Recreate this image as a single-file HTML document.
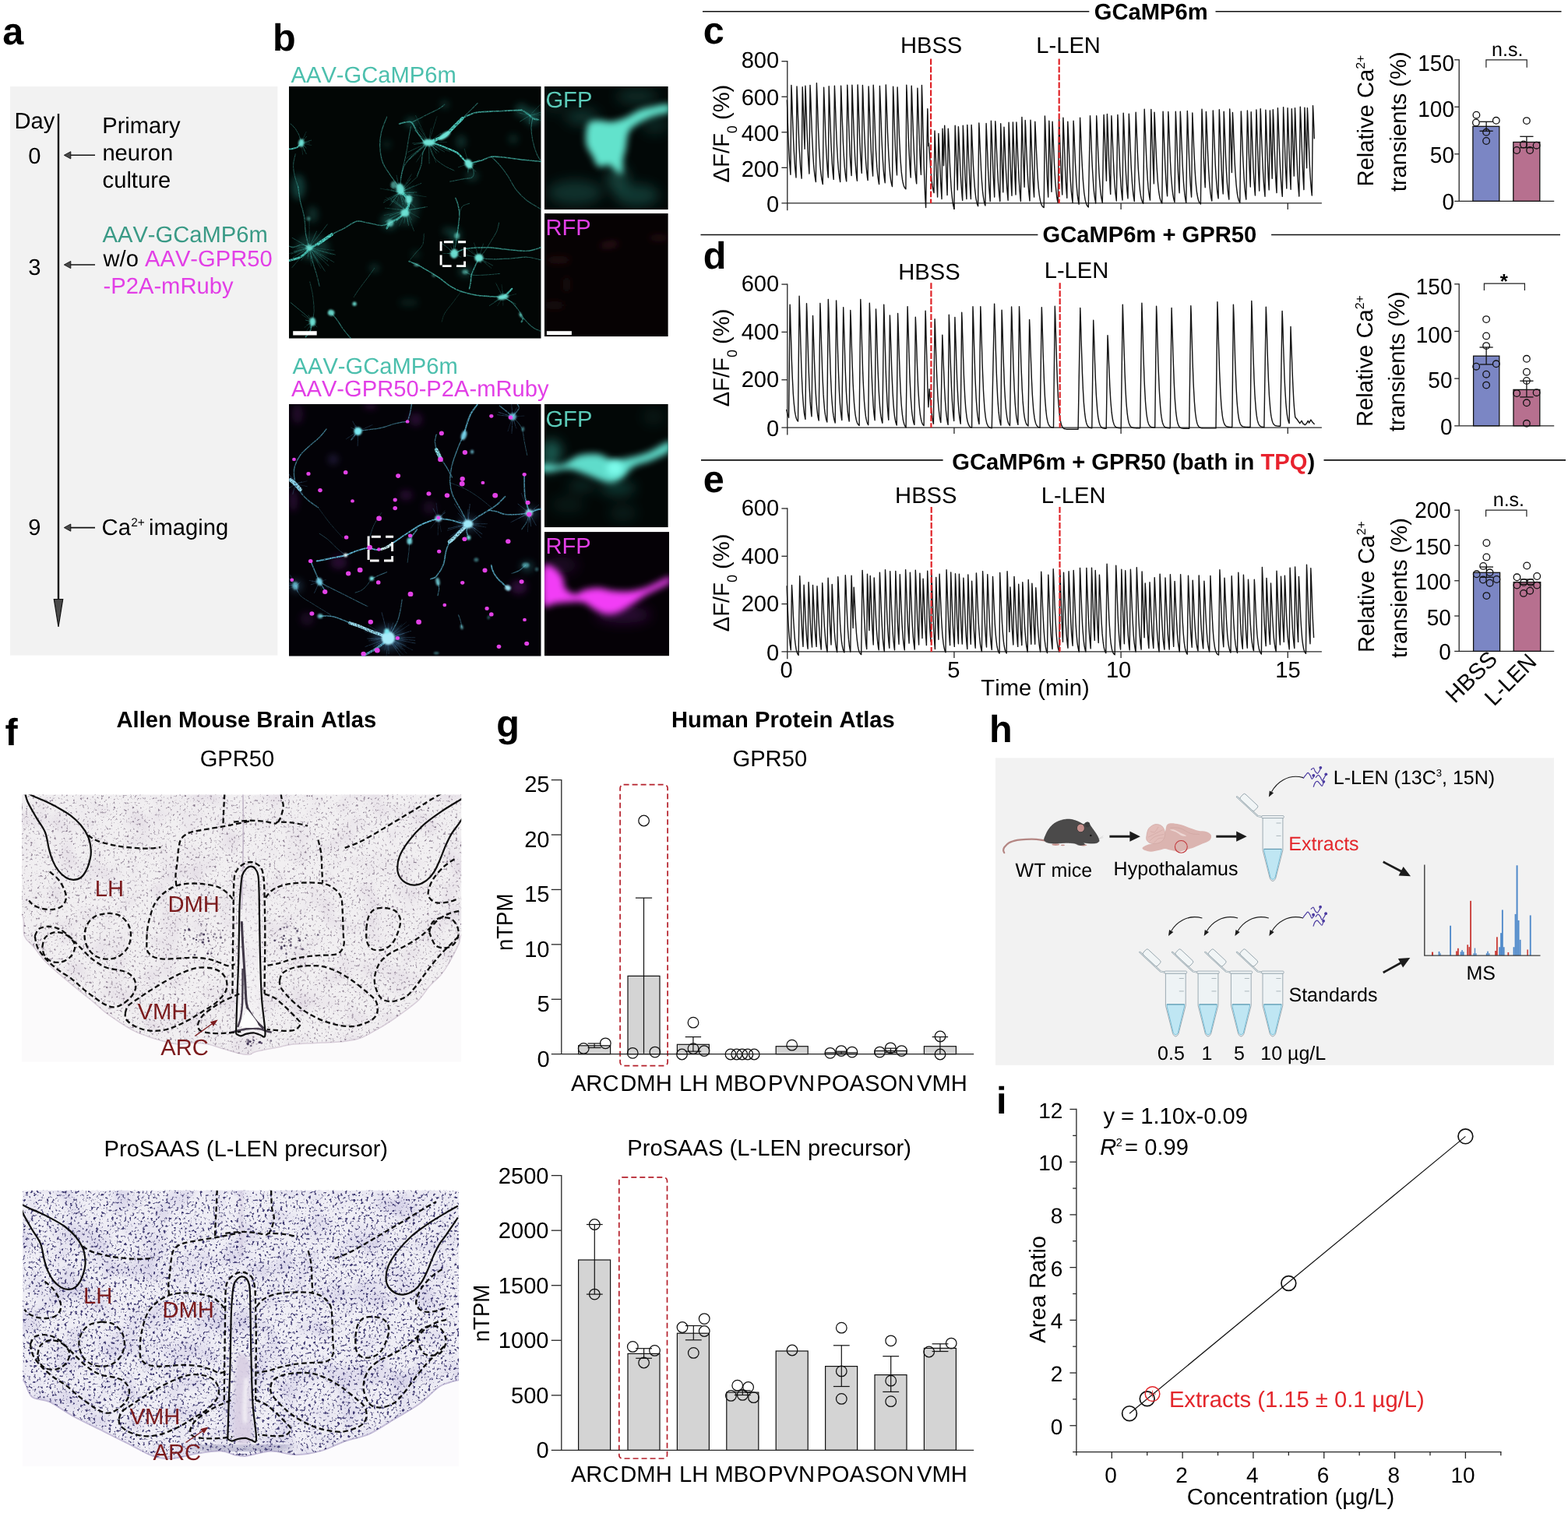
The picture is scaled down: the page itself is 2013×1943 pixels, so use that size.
<!DOCTYPE html>
<html lang="en">
<head>
<meta charset="utf-8">
<title>Figure: GPR50 / L-LEN calcium imaging and expression atlas</title>
<style>
html,body{margin:0;padding:0;background:#fff;}
body{width:2013px;height:1943px;overflow:hidden;}
svg{display:block;font-family:'Liberation Sans', Arial, Helvetica, sans-serif;}
text{font-family:"Liberation Sans", Arial, Helvetica, sans-serif;font-kerning:none;text-rendering:geometricPrecision;}
</style>
</head>
<body>
<svg xmlns="http://www.w3.org/2000/svg" width="2013" height="1943" viewBox="0 0 2013 1943">
<defs>
<filter id="bs" x="-5%" y="-5%" width="110%" height="110%" color-interpolation-filters="sRGB"><feGaussianBlur stdDeviation="0.6" result="b"/><feTurbulence type="fractalNoise" baseFrequency="0.55" numOctaves="2" seed="3" result="n"/><feColorMatrix in="n" type="matrix" values="0 0 0 0 1  0 0 0 0 1  0 0 0 0 1  0 0 0 1.5 0.1" result="m"/><feComposite in="b" in2="m" operator="in"/></filter>
<filter id="bd" x="-20%" y="-20%" width="140%" height="140%"><feGaussianBlur stdDeviation="0.5"/></filter>
<filter id="bm" x="-30%" y="-30%" width="160%" height="160%"><feGaussianBlur stdDeviation="1.05"/></filter>
<filter id="bl" x="-30%" y="-30%" width="160%" height="160%"><feGaussianBlur stdDeviation="4"/></filter>
<filter id="bx" x="-30%" y="-30%" width="160%" height="160%"><feGaussianBlur stdDeviation="8"/></filter>
<clipPath id="cb1"><rect x="370.9" y="110.9" width="323.8" height="323.8"/></clipPath>
<clipPath id="cb2"><rect x="370.9" y="518.9" width="323.8" height="323.8"/></clipPath>
<clipPath id="ci1"><rect x="698.9" y="110.9" width="158.9" height="158.4"/></clipPath>
<clipPath id="ci2"><rect x="698.9" y="274.1" width="158.9" height="158.1"/></clipPath>
<clipPath id="ci3"><rect x="698.9" y="518.9" width="158.9" height="158.4"/></clipPath>
<clipPath id="ci4"><rect x="698.9" y="683.1" width="160.2" height="159.3"/></clipPath>
<clipPath id="cf1"><rect x="28" y="1020.5" width="564.2" height="343.3"/></clipPath>
<clipPath id="cf2"><rect x="29.1" y="1528.7" width="560" height="354.3"/></clipPath>
<filter id="sp1" x="0" y="0" width="100%" height="100%" color-interpolation-filters="sRGB">
<feTurbulence type="fractalNoise" baseFrequency="0.33" numOctaves="2" seed="4"/>
<feColorMatrix type="matrix" values="0 0 0 0 0.50  0 0 0 0 0.44  0 0 0 0 0.52  4.2 0 0 0 -2.5"/>
<feGaussianBlur stdDeviation="0.45"/>
</filter>
<filter id="sp1b" x="0" y="0" width="100%" height="100%" color-interpolation-filters="sRGB">
<feTurbulence type="fractalNoise" baseFrequency="0.03" numOctaves="2" seed="9"/>
<feColorMatrix type="matrix" values="0 0 0 0 0.80  0 0 0 0 0.74  0 0 0 0 0.82  0 0.8 0 0 -0.36"/>
</filter>
<filter id="sp2" x="0" y="0" width="100%" height="100%" color-interpolation-filters="sRGB">
<feTurbulence type="fractalNoise" baseFrequency="0.30" numOctaves="2" seed="12"/>
<feColorMatrix type="matrix" values="0 0 0 0 0.24  0 0 0 0 0.22  0 0 0 0 0.44  6 0 0 0 -3.42"/>
<feGaussianBlur stdDeviation="0.5"/>
</filter>
<filter id="sp2b" x="0" y="0" width="100%" height="100%" color-interpolation-filters="sRGB">
<feTurbulence type="fractalNoise" baseFrequency="0.028" numOctaves="2" seed="21"/>
<feColorMatrix type="matrix" values="0 0 0 0 0.70  0 0 0 0 0.67  0 0 0 0 0.84  0 1.0 0 0 -0.44"/>
</filter>
<filter id="fb1" x="-10%" y="-10%" width="120%" height="120%"><feGaussianBlur stdDeviation="0.7"/></filter>
<filter id="fb2" x="-10%" y="-10%" width="120%" height="120%"><feGaussianBlur stdDeviation="2"/></filter>
<filter id="fb5" x="-20%" y="-20%" width="140%" height="140%"><feGaussianBlur stdDeviation="6"/></filter>

</defs>
<rect width="2013" height="1943" fill="#fff"/>
<g id="p_a">
<text x="3.20" y="57.00" font-size="48.60" font-weight="bold">a</text>
<rect x="13.00" y="111.00" width="343.40" height="730.60" fill="#f2f2f2"/>
<text x="18.40" y="164.90" font-size="29.17">Day</text>
<line x1="75.00" y1="146.00" x2="75.00" y2="772.00" stroke="#111" stroke-width="2.4"/>
<path d="M75 805 L69.3 769.5 L80.7 769.5 Z" fill="#4a4a4a" stroke="#111" stroke-width="1.2"/>
<text x="44.30" y="209.90" font-size="29.17" text-anchor="middle">0</text>
<line x1="122.00" y1="199.30" x2="88.00" y2="199.30" stroke="#111" stroke-width="1.6"/>
<path d="M82.3 199.3 L90.8 194.70000000000002 L90.8 203.9 Z" fill="#4a4a4a" stroke="#111" stroke-width="0.9"/>
<text x="44.30" y="353.00" font-size="29.17" text-anchor="middle">3</text>
<line x1="122.00" y1="340.00" x2="88.00" y2="340.00" stroke="#111" stroke-width="1.6"/>
<path d="M82.3 340 L90.8 335.4 L90.8 344.6 Z" fill="#4a4a4a" stroke="#111" stroke-width="0.9"/>
<text x="44.30" y="686.70" font-size="29.17" text-anchor="middle">9</text>
<line x1="122.00" y1="677.60" x2="88.00" y2="677.60" stroke="#111" stroke-width="1.6"/>
<path d="M82.3 677.6 L90.8 673.0 L90.8 682.2 Z" fill="#4a4a4a" stroke="#111" stroke-width="0.9"/>
<text x="131.20" y="170.80" font-size="29.17">Primary</text>
<text x="131.40" y="205.70" font-size="29.17">neuron</text>
<text x="131.60" y="240.60" font-size="29.17">culture</text>
<text x="131.50" y="311.20" font-size="29.17" fill="#3a9a86">AAV-GCaMP6m</text>
<text x="132.50" y="342.00" font-size="29.17">w/o <tspan fill="#e23fe6">AAV-GPR50</tspan></text>
<text x="132.60" y="377.30" font-size="29.17" fill="#e23fe6">-P2A-mRuby</text>
<text x="130.60" y="686.70" font-size="29.17">Ca</text>
<text x="168.20" y="675.60" font-size="15.50">2+</text>
<text x="191.00" y="686.70" font-size="29.17">imaging</text>
</g>
<g id="p_b">
<text x="350.10" y="65.10" font-size="48.60" font-weight="bold">b</text>
<text x="373.50" y="106.10" font-size="29.17" fill="#4cbfad">AAV-GCaMP6m</text>
<text x="375.50" y="480.00" font-size="29.17" fill="#4cbfad">AAV-GCaMP6m</text>
<text x="374.00" y="509.20" font-size="29.17" fill="#e23fe6">AAV-GPR50-P2A-mRuby</text>
<g clip-path="url(#cb1)">
<rect x="370.90" y="110.90" width="323.80" height="323.80" fill="#020605"/>
<g filter="url(#bl)"><ellipse cx="382.8" cy="240.2" rx="8.8" ry="15.9" fill="#2a9f92" fill-opacity="0.35"/>
<ellipse cx="401.3" cy="275.5" rx="7.1" ry="10.6" fill="#2a9f92" fill-opacity="0.25"/>
<ellipse cx="683.8" cy="150.1" rx="10.6" ry="10.6" fill="#2a9f92" fill-opacity="0.35"/>
<ellipse cx="669.6" cy="141.3" rx="8.6" ry="8.6" fill="#2a9f92" fill-opacity="0.3"/>
<ellipse cx="528.4" cy="157.2" rx="7.9" ry="6.2" fill="#2a9f92" fill-opacity="0.35"/>
<ellipse cx="500.2" cy="284.3" rx="10.6" ry="10.6" fill="#2a9f92" fill-opacity="0.35"/>
<ellipse cx="597.3" cy="348.7" rx="8.6" ry="6.5" fill="#2a9f92" fill-opacity="0.3"/>
<ellipse cx="521.3" cy="264.9" rx="15.9" ry="24.7" fill="#2a9f92" fill-opacity="0.25"/>
<ellipse cx="401.3" cy="317.8" rx="21.2" ry="15.9" fill="#2a9f92" fill-opacity="0.25"/>
<ellipse cx="606.1" cy="226.0" rx="8.6" ry="6.5" fill="#2a9f92" fill-opacity="0.25"/>
<ellipse cx="584.9" cy="302.0" rx="6.5" ry="8.6" fill="#2a9f92" fill-opacity="0.4"/>
<ellipse cx="524.9" cy="388.5" rx="12.4" ry="5.3" fill="#2a9f92" fill-opacity="0.15"/>
<ellipse cx="480.7" cy="344.3" rx="6.5" ry="5.4" fill="#2a9f92" fill-opacity="0.25"/>
<ellipse cx="592.0" cy="181.9" rx="6.5" ry="8.6" fill="#2a9f92" fill-opacity="0.25"/>
<ellipse cx="659.0" cy="178.4" rx="6.5" ry="6.5" fill="#2a9f92" fill-opacity="0.2"/>
<ellipse cx="570.8" cy="134.2" rx="5.4" ry="5.4" fill="#2a9f92" fill-opacity="0.25"/>
<ellipse cx="496.6" cy="185.4" rx="5.4" ry="4.3" fill="#2a9f92" fill-opacity="0.2"/>
<ellipse cx="574.3" cy="296.7" rx="6.5" ry="5.4" fill="#2a9f92" fill-opacity="0.25"/>
<ellipse cx="533.7" cy="326.7" rx="5.4" ry="5.4" fill="#2a9f92" fill-opacity="0.2"/>
</g>
<g filter="url(#bs)"><path d="M550.5 183.1C552.4 182.4 558.3 180.1 562.0 178.4C565.6 176.7 569.0 175.7 572.5 173.1C576.1 170.4 579.6 166.0 583.1 162.5C586.7 159.0 592.0 153.7 593.7 151.9" fill="none" stroke="#4fd0c2" stroke-width="4.02" stroke-opacity="1.00" stroke-linecap="round"/>
<path d="M593.7 151.9C596.4 150.7 603.4 146.3 609.6 144.8C615.8 143.4 623.7 143.5 630.8 143.1C637.9 142.6 645.5 142.5 652.0 142.2C658.5 141.9 666.7 141.5 669.6 141.3" fill="none" stroke="#4fd0c2" stroke-width="1.70" stroke-opacity="0.80" stroke-linecap="round"/>
<path d="M593.7 151.9C595.5 150.1 601.1 144.5 604.3 141.3C607.6 138.1 611.7 134.0 613.1 132.5" fill="none" stroke="#4fd0c2" stroke-width="1.12" stroke-opacity="0.46" stroke-linecap="round"/>
<path d="M556.7 183.7C559.0 184.6 565.8 186.9 570.8 189.0C575.8 191.0 582.5 193.4 586.7 196.0C590.8 198.7 593.0 202.5 595.5 204.9C598.0 207.2 600.6 209.3 601.7 210.2" fill="none" stroke="#4fd0c2" stroke-width="2.13" stroke-opacity="0.98" stroke-linecap="round"/>
<path d="M601.7 210.2C604.2 209.6 611.8 208.1 616.7 206.6C621.5 205.2 625.5 202.1 630.8 201.3C636.1 200.6 642.0 201.6 648.5 202.2C654.9 202.8 662.0 204.0 669.6 204.9C677.3 205.7 690.2 207.1 694.3 207.5" fill="none" stroke="#4fd0c2" stroke-width="1.55" stroke-opacity="0.75" stroke-linecap="round"/>
<path d="M601.7 210.2C602.7 211.6 607.1 216.0 607.8 219.0C608.6 221.9 608.1 226.0 606.1 227.8C604.0 229.6 600.2 228.7 595.5 229.6C590.8 230.5 580.8 232.5 577.8 233.1" fill="none" stroke="#4fd0c2" stroke-width="1.12" stroke-opacity="0.40" stroke-linecap="round"/>
<path d="M630.8 201.3C632.6 203.1 637.9 207.8 641.4 211.9C644.9 216.0 648.5 220.7 652.0 226.0C655.5 231.3 658.5 238.4 662.6 243.7C666.7 249.0 671.4 253.7 676.7 257.8C682.0 261.9 691.4 266.6 694.3 268.4" fill="none" stroke="#4fd0c2" stroke-width="1.12" stroke-opacity="0.46" stroke-linecap="round"/>
<path d="M544.3 181.9C542.8 179.8 538.1 173.7 535.5 169.6C532.8 165.4 531.1 159.3 528.4 157.2C525.8 155.1 522.2 156.9 519.6 157.2C516.9 157.5 513.7 158.7 512.5 159.0" fill="none" stroke="#4fd0c2" stroke-width="1.70" stroke-opacity="0.69" stroke-linecap="round"/>
<path d="M528.4 157.2C530.2 156.3 534.9 154.0 539.0 151.9C543.1 149.8 549.0 146.9 553.1 144.8C557.2 142.8 560.8 141.3 563.7 139.5C566.7 137.8 569.6 135.1 570.8 134.2" fill="none" stroke="#4fd0c2" stroke-width="1.12" stroke-opacity="0.46" stroke-linecap="round"/>
<path d="M547.8 185.4C546.9 187.5 543.7 193.4 542.5 197.8C541.4 202.2 541.9 207.2 540.8 211.9C539.6 216.6 536.4 223.7 535.5 226.0" fill="none" stroke="#4fd0c2" stroke-width="1.12" stroke-opacity="0.52" stroke-linecap="round"/>
<path d="M546.1 185.4C543.7 187.5 536.4 193.4 531.9 197.8C527.5 202.2 522.5 206.6 519.6 211.9C516.6 217.2 515.2 226.6 514.3 229.6" fill="none" stroke="#4fd0c2" stroke-width="1.12" stroke-opacity="0.46" stroke-linecap="round"/>
<path d="M551.4 187.2C552.2 189.6 553.7 197.2 556.7 201.3C559.6 205.4 564.6 209.0 569.0 211.9C573.4 214.9 580.8 217.8 583.1 219.0" fill="none" stroke="#4fd0c2" stroke-width="0.97" stroke-opacity="0.40" stroke-linecap="round"/>
<path d="M513.4 241.9C511.5 239.3 505.6 231.6 501.9 226.0C498.3 220.5 493.7 214.6 491.3 208.4C489.0 202.2 488.1 195.4 487.8 189.0C487.5 182.5 488.1 176.0 489.6 169.6C491.0 163.1 495.5 153.4 496.6 150.1" fill="none" stroke="#4fd0c2" stroke-width="1.26" stroke-opacity="0.52" stroke-linecap="round"/>
<path d="M513.4 241.9C513.8 238.4 514.7 228.1 516.1 220.7C517.4 213.4 519.9 205.2 521.3 197.8C522.8 190.4 523.8 182.5 524.9 176.6C525.9 170.7 527.1 164.8 527.5 162.5" fill="none" stroke="#4fd0c2" stroke-width="1.12" stroke-opacity="0.46" stroke-linecap="round"/>
<path d="M513.4 241.9C514.1 243.1 515.9 246.6 517.8 249.0C519.7 251.3 523.8 253.4 524.9 256.1C525.9 258.7 524.9 261.9 524.0 264.9C523.1 267.8 520.3 272.2 519.6 273.7" fill="none" stroke="#4fd0c2" stroke-width="3.44" stroke-opacity="1.00" stroke-linecap="round"/>
<path d="M519.6 273.7C518.1 274.9 513.8 278.7 510.8 280.8C507.7 282.8 503.4 284.0 501.0 286.1C498.7 288.1 497.4 291.9 496.6 293.1" fill="none" stroke="#4fd0c2" stroke-width="2.57" stroke-opacity="0.80" stroke-linecap="round"/>
<path d="M501.0 286.1C499.1 286.7 494.4 289.6 489.6 289.6C484.7 289.6 477.2 286.9 471.9 286.1C466.6 285.2 462.8 283.1 457.8 284.3C452.8 285.5 446.9 290.5 441.9 293.1C436.9 295.8 431.9 297.8 427.8 300.2C423.7 302.5 419.0 306.1 417.2 307.2" fill="none" stroke="#4fd0c2" stroke-width="1.41" stroke-opacity="0.63" stroke-linecap="round"/>
<path d="M417.2 307.2C416.0 308.0 412.8 310.0 410.1 311.7C407.5 313.3 404.0 315.0 401.3 317.0C398.7 318.9 396.9 320.9 394.2 323.1C391.6 325.3 389.2 328.3 385.4 330.2C381.6 332.1 373.6 333.9 371.3 334.6" fill="none" stroke="#4fd0c2" stroke-width="2.86" stroke-opacity="0.92" stroke-linecap="round"/>
<path d="M426.0 301.1C424.5 302.1 420.1 305.2 417.2 307.2C414.3 309.3 409.8 312.4 408.4 313.4" fill="none" stroke="#4fd0c2" stroke-width="4.02" stroke-opacity="1.00" stroke-linecap="round"/>
<path d="M396.9 317.8C396.2 314.9 393.5 306.7 392.5 300.2C391.5 293.7 391.9 286.1 390.7 279.0C389.5 271.9 386.7 264.3 385.4 257.8C384.1 251.3 383.2 243.1 382.8 240.2" fill="none" stroke="#4fd0c2" stroke-width="1.26" stroke-opacity="0.52" stroke-linecap="round"/>
<path d="M382.8 240.2C382.0 237.8 379.4 230.7 378.4 226.0C377.3 221.3 376.4 216.6 376.6 211.9C376.7 207.2 378.8 200.2 379.2 197.8" fill="none" stroke="#4fd0c2" stroke-width="1.12" stroke-opacity="0.40" stroke-linecap="round"/>
<path d="M396.9 317.8C397.6 320.8 399.7 329.6 401.3 335.5C402.9 341.4 405.1 347.8 406.6 353.1C408.1 358.4 409.5 364.9 410.1 367.3" fill="none" stroke="#4fd0c2" stroke-width="1.12" stroke-opacity="0.46" stroke-linecap="round"/>
<path d="M396.9 317.8C395.3 317.2 390.6 314.3 387.2 314.3C383.8 314.3 379.2 317.5 376.6 317.8C373.9 318.1 372.2 316.4 371.3 316.1" fill="none" stroke="#4fd0c2" stroke-width="1.12" stroke-opacity="0.46" stroke-linecap="round"/>
<path d="M386.8 183.7C386.0 184.6 383.6 187.8 381.9 189.0C380.2 190.1 378.4 190.3 376.6 190.7C374.8 191.2 372.2 191.5 371.3 191.6" fill="none" stroke="#4fd0c2" stroke-width="1.99" stroke-opacity="0.86" stroke-linecap="round"/>
<path d="M386.8 183.7C386.3 181.9 385.1 176.3 383.7 173.1C382.2 169.8 380.1 166.6 378.4 164.3C376.6 161.9 373.9 159.8 373.1 159.0" fill="none" stroke="#4fd0c2" stroke-width="0.97" stroke-opacity="0.46" stroke-linecap="round"/>
<path d="M386.8 183.7C388.1 183.4 392.1 182.5 394.2 181.9C396.4 181.3 398.7 180.4 399.5 180.1" fill="none" stroke="#4fd0c2" stroke-width="0.97" stroke-opacity="0.40" stroke-linecap="round"/>
<path d="M586.7 302.0C587.0 299.6 588.3 292.5 588.8 287.8C589.3 283.1 590.0 278.1 589.8 273.7C589.6 269.3 588.4 264.6 587.5 261.3C586.7 258.1 585.3 255.5 584.9 254.3" fill="none" stroke="#4fd0c2" stroke-width="1.41" stroke-opacity="0.69" stroke-linecap="round"/>
<path d="M589.8 273.7C590.5 272.2 591.6 266.9 593.7 264.9C595.8 262.8 601.1 261.9 602.6 261.3" fill="none" stroke="#4fd0c2" stroke-width="0.97" stroke-opacity="0.40" stroke-linecap="round"/>
<path d="M583.1 325.8C584.9 324.9 590.5 321.7 593.7 320.5C597.0 319.3 597.0 319.2 602.6 318.7C608.1 318.3 619.0 317.5 627.3 317.8C635.5 318.1 643.7 319.8 652.0 320.5C660.2 321.2 669.6 322.7 676.7 322.3C683.8 321.8 691.4 318.6 694.3 317.8" fill="none" stroke="#4fd0c2" stroke-width="1.41" stroke-opacity="0.69" stroke-linecap="round"/>
<path d="M614.9 331.1C617.6 331.4 624.0 332.7 630.8 332.8C637.6 333.0 647.9 332.4 655.5 332.0C663.2 331.5 670.2 329.9 676.7 330.2C683.2 330.5 691.4 333.1 694.3 333.7" fill="none" stroke="#4fd0c2" stroke-width="1.12" stroke-opacity="0.52" stroke-linecap="round"/>
<path d="M614.9 331.1C614.0 333.0 611.2 338.9 609.6 342.6C608.0 346.2 606.1 349.9 605.2 353.1C604.3 356.4 604.8 359.0 604.3 362.0C603.9 364.9 602.8 369.3 602.6 370.8" fill="none" stroke="#4fd0c2" stroke-width="1.55" stroke-opacity="0.75" stroke-linecap="round"/>
<path d="M614.9 331.1C616.1 329.8 619.3 326.8 622.0 323.1C624.6 319.5 628.1 313.4 630.8 309.0C633.4 304.6 636.2 300.5 637.9 296.7C639.5 292.8 640.1 287.8 640.5 286.1" fill="none" stroke="#4fd0c2" stroke-width="0.97" stroke-opacity="0.40" stroke-linecap="round"/>
<path d="M583.1 325.8C581.7 324.5 577.0 320.0 574.3 317.8C571.7 315.6 568.4 313.4 567.2 312.5" fill="none" stroke="#4fd0c2" stroke-width="0.97" stroke-opacity="0.40" stroke-linecap="round"/>
<path d="M583.1 325.8C583.4 323.9 584.3 318.3 584.9 314.3C585.5 310.3 586.4 304.0 586.7 302.0" fill="none" stroke="#4fd0c2" stroke-width="1.12" stroke-opacity="0.46" stroke-linecap="round"/>
<path d="M524.9 335.5C526.6 336.2 531.4 337.8 535.5 339.9C539.6 342.0 544.9 345.1 549.6 347.8C554.3 350.6 559.0 353.4 563.7 356.7C568.4 359.9 573.1 364.3 577.8 367.3C582.5 370.2 586.7 372.4 592.0 374.3C597.3 376.2 603.7 377.7 609.6 378.7C615.5 379.8 621.2 380.1 627.3 380.5C633.3 380.9 642.7 381.2 645.8 381.4" fill="none" stroke="#4fd0c2" stroke-width="1.55" stroke-opacity="0.75" stroke-linecap="round"/>
<path d="M645.8 381.4C646.8 380.5 650.1 377.9 652.0 376.1C653.9 374.3 656.4 371.7 657.3 370.8" fill="none" stroke="#4fd0c2" stroke-width="2.28" stroke-opacity="0.92" stroke-linecap="round"/>
<path d="M645.8 381.4C647.7 382.6 653.9 385.5 657.3 388.5C660.7 391.4 663.5 395.5 666.1 399.0C668.8 402.6 670.2 406.1 673.2 409.6C676.1 413.2 680.2 417.6 683.8 420.2C687.3 422.9 692.6 424.6 694.3 425.5" fill="none" stroke="#4fd0c2" stroke-width="1.12" stroke-opacity="0.52" stroke-linecap="round"/>
<path d="M597.3 348.7C598.7 349.5 602.0 352.4 606.1 353.1C610.2 353.9 616.1 353.4 622.0 353.1C627.9 352.9 638.2 351.7 641.4 351.4" fill="none" stroke="#4fd0c2" stroke-width="0.97" stroke-opacity="0.40" stroke-linecap="round"/>
<path d="M524.9 335.5C526.3 333.7 530.8 328.4 533.7 324.9C536.6 321.4 540.8 318.4 542.5 314.3C544.3 310.2 544.0 302.5 544.3 300.2" fill="none" stroke="#4fd0c2" stroke-width="0.97" stroke-opacity="0.34" stroke-linecap="round"/>
<path d="M425.1 401.7C426.5 403.3 430.6 408.0 433.1 411.4C435.6 414.8 437.8 418.8 440.1 422.0C442.5 425.2 445.4 428.7 447.2 430.8C449.0 432.9 450.1 434.1 450.7 434.7" fill="none" stroke="#4fd0c2" stroke-width="1.26" stroke-opacity="0.57" stroke-linecap="round"/>
<path d="M401.3 413.2C401.0 414.3 400.1 418.2 399.5 420.2C399.0 422.3 399.0 423.5 397.8 425.5C396.6 427.6 393.4 431.4 392.5 432.6" fill="none" stroke="#4fd0c2" stroke-width="1.70" stroke-opacity="0.69" stroke-linecap="round"/>
<path d="M401.3 413.2C400.1 412.0 397.2 408.8 394.2 406.1C391.3 403.5 387.2 400.2 383.7 397.3C380.1 394.3 374.8 389.9 373.1 388.5" fill="none" stroke="#4fd0c2" stroke-width="0.97" stroke-opacity="0.46" stroke-linecap="round"/>
<path d="M401.3 413.2C401.6 410.5 403.1 403.2 403.1 397.3C403.1 391.4 402.2 383.7 401.3 377.9C400.4 372.0 398.4 364.6 397.8 362.0" fill="none" stroke="#4fd0c2" stroke-width="0.97" stroke-opacity="0.34" stroke-linecap="round"/>
<path d="M480.7 344.3C479.3 346.4 475.2 352.3 471.9 356.7C468.7 361.1 464.3 366.7 461.3 370.8C458.4 374.9 455.4 379.6 454.3 381.4" fill="none" stroke="#4fd0c2" stroke-width="0.97" stroke-opacity="0.34" stroke-linecap="round"/>
<path d="M592.0 374.3C590.2 376.7 584.9 383.7 581.4 388.5C577.8 393.2 573.1 398.5 570.8 402.6C568.4 406.7 567.8 411.4 567.2 413.2" fill="none" stroke="#4fd0c2" stroke-width="0.83" stroke-opacity="0.29" stroke-linecap="round"/>
<path d="M669.6 141.3C671.1 142.2 676.1 144.8 678.5 146.6C680.8 148.4 681.7 150.7 683.8 151.9C685.8 153.1 689.6 153.4 690.8 153.7" fill="none" stroke="#4fd0c2" stroke-width="1.99" stroke-opacity="0.57" stroke-linecap="round"/>
<path d="M683.8 151.9C683.5 154.0 682.0 159.5 682.0 164.3C682.0 169.0 682.6 174.6 683.8 180.1C684.9 185.7 687.3 193.4 689.1 197.8C690.8 202.2 693.5 205.2 694.3 206.6" fill="none" stroke="#4fd0c2" stroke-width="1.12" stroke-opacity="0.46" stroke-linecap="round"/>
<path d="M667.9 404.3C668.5 405.2 671.1 408.2 671.4 409.6C671.7 411.1 669.9 412.6 669.6 413.2" fill="none" stroke="#4fd0c2" stroke-width="2.28" stroke-opacity="0.57" stroke-linecap="round"/>
</g>
<g filter="url(#bs)"><path d="M550.5 183.1C549.8 184.2 547.9 187.4 546.6 189.5C545.2 191.6 543.3 194.7 542.7 195.8" fill="none" stroke="#46c3b6" stroke-width="0.97" stroke-opacity="0.22" stroke-linecap="round"/>
<path d="M550.5 183.1C548.7 183.2 543.1 183.4 539.7 183.5C536.2 183.6 531.3 183.9 529.6 184.0" fill="none" stroke="#46c3b6" stroke-width="0.97" stroke-opacity="0.30" stroke-linecap="round"/>
<path d="M550.5 183.1C552.4 183.1 558.5 183.0 562.3 182.9C566.1 182.9 571.5 182.7 573.3 182.6" fill="none" stroke="#46c3b6" stroke-width="0.97" stroke-opacity="0.22" stroke-linecap="round"/>
<path d="M550.5 183.1C548.3 185.0 541.5 190.7 537.1 194.3C532.8 197.9 526.6 203.2 524.5 205.0" fill="none" stroke="#46c3b6" stroke-width="0.97" stroke-opacity="0.25" stroke-linecap="round"/>
<path d="M550.5 183.1C548.4 180.8 542.2 173.8 538.1 169.1C534.0 164.5 527.8 157.5 525.7 155.2" fill="none" stroke="#46c3b6" stroke-width="0.97" stroke-opacity="0.28" stroke-linecap="round"/>
<path d="M550.5 183.1C551.5 183.2 554.6 183.4 556.6 183.5C558.5 183.7 561.4 183.9 562.4 183.9" fill="none" stroke="#46c3b6" stroke-width="0.97" stroke-opacity="0.26" stroke-linecap="round"/>
<path d="M550.5 183.1C551.3 184.0 553.8 186.5 555.4 188.1C557.0 189.8 559.4 192.2 560.3 193.0" fill="none" stroke="#46c3b6" stroke-width="0.97" stroke-opacity="0.37" stroke-linecap="round"/>
<path d="M550.5 183.1C551.3 185.3 553.6 191.6 555.2 195.9C556.7 200.1 559.0 206.4 559.8 208.5" fill="none" stroke="#46c3b6" stroke-width="0.97" stroke-opacity="0.28" stroke-linecap="round"/>
<path d="M550.5 183.1C549.4 183.1 546.1 183.0 544.1 182.9C542.0 182.8 539.1 182.7 538.1 182.7" fill="none" stroke="#46c3b6" stroke-width="0.97" stroke-opacity="0.24" stroke-linecap="round"/>
<path d="M550.5 183.1C549.5 181.5 546.5 176.6 544.5 173.4C542.6 170.2 539.6 165.4 538.6 163.8" fill="none" stroke="#46c3b6" stroke-width="0.97" stroke-opacity="0.32" stroke-linecap="round"/>
<path d="M550.5 183.1C548.9 183.3 544.0 183.9 540.9 184.3C537.7 184.7 533.1 185.2 531.5 185.4" fill="none" stroke="#46c3b6" stroke-width="0.97" stroke-opacity="0.34" stroke-linecap="round"/>
<path d="M550.5 183.1C550.5 185.4 550.7 192.1 550.8 196.6C550.9 201.0 551.0 207.7 551.1 210.0" fill="none" stroke="#46c3b6" stroke-width="0.97" stroke-opacity="0.38" stroke-linecap="round"/>
<path d="M550.5 183.1C550.7 181.5 551.5 176.6 551.9 173.5C552.4 170.4 553.2 166.1 553.4 164.7" fill="none" stroke="#46c3b6" stroke-width="0.97" stroke-opacity="0.23" stroke-linecap="round"/>
<path d="M550.5 183.1C548.4 184.9 542.2 190.4 538.2 193.9C534.2 197.4 528.5 202.6 526.5 204.3" fill="none" stroke="#46c3b6" stroke-width="0.97" stroke-opacity="0.30" stroke-linecap="round"/>
<path d="M550.5 183.1C552.8 184.1 559.7 187.1 564.2 189.0C568.7 190.9 575.3 193.8 577.6 194.8" fill="none" stroke="#46c3b6" stroke-width="0.97" stroke-opacity="0.32" stroke-linecap="round"/>
<path d="M550.5 183.1C551.8 182.1 555.6 179.1 558.2 177.1C560.7 175.1 564.5 172.1 565.8 171.1" fill="none" stroke="#46c3b6" stroke-width="0.97" stroke-opacity="0.32" stroke-linecap="round"/>
<path d="M550.5 183.1C549.0 181.9 544.3 177.9 541.3 175.4C538.4 172.9 534.1 169.2 532.6 167.9" fill="none" stroke="#46c3b6" stroke-width="0.97" stroke-opacity="0.39" stroke-linecap="round"/>
<path d="M550.5 183.1C548.2 184.2 541.1 187.3 536.6 189.3C532.2 191.4 525.9 194.3 523.8 195.3" fill="none" stroke="#46c3b6" stroke-width="0.97" stroke-opacity="0.34" stroke-linecap="round"/>
<path d="M550.5 183.1C549.0 180.2 544.6 171.3 541.8 165.5C539.0 159.7 534.9 151.2 533.6 148.4" fill="none" stroke="#46c3b6" stroke-width="0.97" stroke-opacity="0.26" stroke-linecap="round"/>
<path d="M550.5 183.1C549.1 185.3 544.8 191.9 542.2 196.0C539.5 200.2 535.9 206.0 534.6 208.0" fill="none" stroke="#46c3b6" stroke-width="0.97" stroke-opacity="0.29" stroke-linecap="round"/>
<path d="M550.5 183.1C551.3 184.0 553.9 186.6 555.5 188.3C557.1 189.9 559.5 192.2 560.2 193.0" fill="none" stroke="#46c3b6" stroke-width="0.97" stroke-opacity="0.36" stroke-linecap="round"/>
<path d="M550.5 183.1C551.6 184.1 554.8 187.1 556.9 189.1C559.1 191.1 562.3 194.1 563.4 195.1" fill="none" stroke="#46c3b6" stroke-width="0.97" stroke-opacity="0.38" stroke-linecap="round"/>
<path d="M550.5 183.1C552.1 184.1 557.2 187.1 560.5 189.1C563.8 191.1 568.8 194.0 570.5 195.0" fill="none" stroke="#46c3b6" stroke-width="0.97" stroke-opacity="0.38" stroke-linecap="round"/>
<path d="M550.5 183.1C551.4 180.3 554.0 171.9 555.7 166.3C557.5 160.7 560.0 152.5 560.9 149.7" fill="none" stroke="#46c3b6" stroke-width="0.97" stroke-opacity="0.28" stroke-linecap="round"/>
<path d="M550.5 183.1C548.0 184.9 540.3 190.4 535.5 193.9C530.6 197.3 523.7 202.0 521.4 203.6" fill="none" stroke="#46c3b6" stroke-width="0.97" stroke-opacity="0.23" stroke-linecap="round"/>
<path d="M550.5 183.1C551.3 184.3 553.9 187.9 555.5 190.2C557.2 192.5 559.7 195.9 560.5 197.1" fill="none" stroke="#46c3b6" stroke-width="0.97" stroke-opacity="0.30" stroke-linecap="round"/>
<path d="M513.4 247.2C512.0 246.8 507.6 245.6 504.8 244.8C502.1 244.1 498.2 243.1 496.9 242.8" fill="none" stroke="#46c3b6" stroke-width="0.97" stroke-opacity="0.29" stroke-linecap="round"/>
<path d="M513.4 247.2C511.6 248.3 506.1 251.8 502.6 254.0C499.1 256.1 494.1 259.1 492.4 260.1" fill="none" stroke="#46c3b6" stroke-width="0.97" stroke-opacity="0.34" stroke-linecap="round"/>
<path d="M513.4 247.2C511.3 246.8 504.9 245.5 500.7 244.6C496.4 243.7 490.2 242.4 488.1 242.0" fill="none" stroke="#46c3b6" stroke-width="0.97" stroke-opacity="0.21" stroke-linecap="round"/>
<path d="M513.4 247.2C515.7 246.2 522.9 243.1 527.4 241.1C532.0 239.2 538.6 236.4 540.8 235.4" fill="none" stroke="#46c3b6" stroke-width="0.97" stroke-opacity="0.36" stroke-linecap="round"/>
<path d="M513.4 247.2C512.3 248.6 509.0 252.8 507.0 255.5C504.9 258.2 501.9 262.1 500.9 263.4" fill="none" stroke="#46c3b6" stroke-width="0.97" stroke-opacity="0.33" stroke-linecap="round"/>
<path d="M513.4 247.2C514.4 247.4 517.5 248.1 519.5 248.6C521.5 249.0 524.4 249.6 525.4 249.9" fill="none" stroke="#46c3b6" stroke-width="0.97" stroke-opacity="0.23" stroke-linecap="round"/>
<path d="M513.4 247.2C513.1 248.2 512.2 251.3 511.7 253.2C511.2 255.1 510.5 257.8 510.3 258.7" fill="none" stroke="#46c3b6" stroke-width="0.97" stroke-opacity="0.23" stroke-linecap="round"/>
<path d="M513.4 247.2C515.0 247.8 519.9 249.7 522.9 250.8C526.0 251.9 530.3 253.5 531.8 254.0" fill="none" stroke="#46c3b6" stroke-width="0.97" stroke-opacity="0.38" stroke-linecap="round"/>
<path d="M513.4 247.2C512.4 246.6 509.3 244.6 507.3 243.3C505.3 242.1 502.4 240.2 501.4 239.6" fill="none" stroke="#46c3b6" stroke-width="0.97" stroke-opacity="0.27" stroke-linecap="round"/>
<path d="M513.4 247.2C512.5 247.9 509.7 250.1 507.8 251.4C506.0 252.8 503.4 254.7 502.5 255.4" fill="none" stroke="#46c3b6" stroke-width="0.97" stroke-opacity="0.40" stroke-linecap="round"/>
<path d="M513.4 247.2C511.7 248.1 506.3 250.7 503.0 252.4C499.6 254.0 494.8 256.5 493.2 257.3" fill="none" stroke="#46c3b6" stroke-width="0.97" stroke-opacity="0.22" stroke-linecap="round"/>
<path d="M513.4 247.2C512.4 248.3 509.3 251.4 507.3 253.5C505.3 255.5 502.3 258.4 501.4 259.4" fill="none" stroke="#46c3b6" stroke-width="0.97" stroke-opacity="0.23" stroke-linecap="round"/>
<path d="M513.4 247.2C516.2 247.7 524.6 249.1 530.2 250.0C535.8 250.9 544.2 252.3 547.1 252.7" fill="none" stroke="#46c3b6" stroke-width="0.97" stroke-opacity="0.23" stroke-linecap="round"/>
<path d="M513.4 247.2C512.5 247.0 509.8 246.2 508.0 245.6C506.2 245.1 503.5 244.3 502.6 244.0" fill="none" stroke="#46c3b6" stroke-width="0.97" stroke-opacity="0.40" stroke-linecap="round"/>
<path d="M513.4 247.2C514.7 245.3 518.5 239.3 521.0 235.4C523.5 231.5 527.1 225.7 528.4 223.8" fill="none" stroke="#46c3b6" stroke-width="0.97" stroke-opacity="0.28" stroke-linecap="round"/>
<path d="M513.4 247.2C514.6 249.4 518.2 255.9 520.5 260.2C522.9 264.6 526.5 271.1 527.7 273.2" fill="none" stroke="#46c3b6" stroke-width="0.97" stroke-opacity="0.36" stroke-linecap="round"/>
<path d="M513.4 247.2C512.5 248.3 509.9 251.5 508.2 253.6C506.5 255.6 504.0 258.7 503.2 259.7" fill="none" stroke="#46c3b6" stroke-width="0.97" stroke-opacity="0.40" stroke-linecap="round"/>
<path d="M513.4 247.2C515.3 245.5 521.1 240.2 524.9 236.8C528.7 233.4 534.2 228.4 536.0 226.8" fill="none" stroke="#46c3b6" stroke-width="0.97" stroke-opacity="0.35" stroke-linecap="round"/>
<path d="M513.4 247.2C513.9 249.1 515.2 254.9 516.1 258.6C517.0 262.4 518.4 268.1 518.8 270.0" fill="none" stroke="#46c3b6" stroke-width="0.97" stroke-opacity="0.21" stroke-linecap="round"/>
<path d="M513.4 247.2C514.9 247.3 519.3 247.4 522.2 247.5C525.2 247.6 529.5 247.7 530.9 247.8" fill="none" stroke="#46c3b6" stroke-width="0.97" stroke-opacity="0.34" stroke-linecap="round"/>
<path d="M513.4 247.2C515.3 247.2 521.0 247.1 524.6 247.0C528.2 247.0 533.3 247.0 535.0 247.0" fill="none" stroke="#46c3b6" stroke-width="0.97" stroke-opacity="0.40" stroke-linecap="round"/>
<path d="M513.4 247.2C514.9 246.5 519.4 244.3 522.4 242.9C525.3 241.5 529.6 239.4 531.1 238.7" fill="none" stroke="#46c3b6" stroke-width="0.97" stroke-opacity="0.25" stroke-linecap="round"/>
<path d="M513.4 247.2C513.7 248.5 514.8 252.3 515.4 254.8C516.1 257.3 517.1 261.1 517.4 262.3" fill="none" stroke="#46c3b6" stroke-width="0.97" stroke-opacity="0.38" stroke-linecap="round"/>
<path d="M513.4 247.2C514.6 245.7 518.0 241.3 520.3 238.3C522.6 235.4 526.0 231.0 527.2 229.5" fill="none" stroke="#46c3b6" stroke-width="0.97" stroke-opacity="0.36" stroke-linecap="round"/>
<path d="M513.4 247.2C515.1 248.8 520.1 253.8 523.3 256.9C526.5 260.1 531.0 264.6 532.6 266.1" fill="none" stroke="#46c3b6" stroke-width="0.97" stroke-opacity="0.36" stroke-linecap="round"/>
<path d="M513.4 247.2C513.0 245.4 512.0 239.7 511.3 236.0C510.5 232.4 509.5 227.0 509.1 225.2" fill="none" stroke="#46c3b6" stroke-width="0.97" stroke-opacity="0.36" stroke-linecap="round"/>
<path d="M521.3 270.2C519.6 271.8 514.4 277.0 511.1 280.2C507.8 283.4 503.1 287.8 501.6 289.3" fill="none" stroke="#46c3b6" stroke-width="0.97" stroke-opacity="0.28" stroke-linecap="round"/>
<path d="M521.3 270.2C519.1 271.4 512.2 275.0 507.7 277.4C503.2 279.8 496.5 283.3 494.2 284.5" fill="none" stroke="#46c3b6" stroke-width="0.97" stroke-opacity="0.24" stroke-linecap="round"/>
<path d="M521.3 270.2C522.0 271.2 523.8 274.3 525.0 276.3C526.1 278.3 527.8 281.1 528.3 282.1" fill="none" stroke="#46c3b6" stroke-width="0.97" stroke-opacity="0.36" stroke-linecap="round"/>
<path d="M521.3 270.2C522.2 272.4 525.0 279.4 526.7 283.8C528.3 288.2 530.6 294.3 531.4 296.4" fill="none" stroke="#46c3b6" stroke-width="0.97" stroke-opacity="0.33" stroke-linecap="round"/>
<path d="M521.3 270.2C520.6 271.9 518.3 277.2 516.8 280.6C515.3 284.0 513.2 288.9 512.5 290.6" fill="none" stroke="#46c3b6" stroke-width="0.97" stroke-opacity="0.20" stroke-linecap="round"/>
<path d="M521.3 270.2C523.3 269.8 529.4 268.8 533.4 268.2C537.4 267.5 543.4 266.5 545.4 266.1" fill="none" stroke="#46c3b6" stroke-width="0.97" stroke-opacity="0.39" stroke-linecap="round"/>
<path d="M521.3 270.2C518.9 270.7 511.6 272.4 506.9 273.4C502.2 274.5 495.3 276.0 493.0 276.5" fill="none" stroke="#46c3b6" stroke-width="0.97" stroke-opacity="0.24" stroke-linecap="round"/>
<path d="M521.3 270.2C521.5 271.6 522.2 275.8 522.6 278.6C523.0 281.4 523.6 285.4 523.8 286.8" fill="none" stroke="#46c3b6" stroke-width="0.97" stroke-opacity="0.32" stroke-linecap="round"/>
<path d="M521.3 270.2C521.6 271.8 522.4 276.8 522.9 280.0C523.5 283.2 524.2 287.8 524.5 289.4" fill="none" stroke="#46c3b6" stroke-width="0.97" stroke-opacity="0.38" stroke-linecap="round"/>
<path d="M521.3 270.2C520.3 271.5 517.0 275.4 514.8 277.9C512.6 280.5 509.3 284.4 508.2 285.7" fill="none" stroke="#46c3b6" stroke-width="0.97" stroke-opacity="0.38" stroke-linecap="round"/>
<path d="M521.3 270.2C519.1 271.4 512.6 275.0 508.2 277.3C503.8 279.7 497.2 283.3 495.0 284.5" fill="none" stroke="#46c3b6" stroke-width="0.97" stroke-opacity="0.31" stroke-linecap="round"/>
<path d="M521.3 270.2C520.4 270.1 517.7 269.8 515.9 269.6C514.1 269.4 511.3 269.1 510.4 268.9" fill="none" stroke="#46c3b6" stroke-width="0.97" stroke-opacity="0.24" stroke-linecap="round"/>
<path d="M521.3 270.2C523.7 269.8 530.6 268.6 535.2 267.8C539.7 267.0 546.2 265.9 548.5 265.5" fill="none" stroke="#46c3b6" stroke-width="0.97" stroke-opacity="0.30" stroke-linecap="round"/>
<path d="M521.3 270.2C520.9 268.4 519.4 262.9 518.5 259.3C517.5 255.7 516.1 250.3 515.6 248.5" fill="none" stroke="#46c3b6" stroke-width="0.97" stroke-opacity="0.31" stroke-linecap="round"/>
<path d="M521.3 270.2C519.0 269.9 512.0 269.1 507.5 268.6C503.0 268.0 496.5 267.4 494.3 267.1" fill="none" stroke="#46c3b6" stroke-width="0.97" stroke-opacity="0.31" stroke-linecap="round"/>
<path d="M521.3 270.2C521.1 271.5 520.5 275.7 520.1 278.4C519.7 281.1 519.0 285.1 518.8 286.4" fill="none" stroke="#46c3b6" stroke-width="0.97" stroke-opacity="0.30" stroke-linecap="round"/>
<path d="M521.3 270.2C519.5 268.8 513.8 264.7 510.2 262.1C506.7 259.4 501.6 255.6 499.9 254.3" fill="none" stroke="#46c3b6" stroke-width="0.97" stroke-opacity="0.29" stroke-linecap="round"/>
<path d="M521.3 270.2C520.0 269.0 516.0 265.5 513.3 263.2C510.6 260.9 506.6 257.4 505.3 256.2" fill="none" stroke="#46c3b6" stroke-width="0.97" stroke-opacity="0.34" stroke-linecap="round"/>
<path d="M521.3 270.2C519.6 270.7 514.4 272.4 510.9 273.5C507.5 274.7 502.3 276.3 500.5 276.9" fill="none" stroke="#46c3b6" stroke-width="0.97" stroke-opacity="0.39" stroke-linecap="round"/>
<path d="M521.3 270.2C521.2 267.7 520.7 260.0 520.4 255.1C520.2 250.3 519.9 243.4 519.8 241.1" fill="none" stroke="#46c3b6" stroke-width="0.97" stroke-opacity="0.25" stroke-linecap="round"/>
<path d="M521.3 270.2C519.2 268.8 512.5 264.5 508.3 261.7C504.0 258.9 497.8 254.8 495.7 253.5" fill="none" stroke="#46c3b6" stroke-width="0.97" stroke-opacity="0.23" stroke-linecap="round"/>
<path d="M521.3 270.2C522.8 271.0 527.4 273.6 530.3 275.2C533.2 276.8 537.4 279.1 538.8 279.9" fill="none" stroke="#46c3b6" stroke-width="0.97" stroke-opacity="0.25" stroke-linecap="round"/>
<path d="M396.9 317.8C398.9 319.3 405.0 323.7 409.0 326.6C413.0 329.5 418.8 333.8 420.7 335.2" fill="none" stroke="#46c3b6" stroke-width="0.97" stroke-opacity="0.38" stroke-linecap="round"/>
<path d="M396.9 317.8C398.1 320.1 401.9 326.9 404.4 331.4C406.9 335.9 410.5 342.6 411.8 344.8" fill="none" stroke="#46c3b6" stroke-width="0.97" stroke-opacity="0.23" stroke-linecap="round"/>
<path d="M396.9 317.8C398.9 315.3 404.9 307.7 408.8 302.7C412.7 297.8 418.4 290.5 420.3 288.0" fill="none" stroke="#46c3b6" stroke-width="0.97" stroke-opacity="0.39" stroke-linecap="round"/>
<path d="M396.9 317.8C394.9 318.6 388.8 320.9 385.0 322.2C381.2 323.6 375.8 325.4 374.0 326.1" fill="none" stroke="#46c3b6" stroke-width="0.97" stroke-opacity="0.37" stroke-linecap="round"/>
<path d="M396.9 317.8C397.9 319.5 400.8 324.3 402.8 327.6C404.8 330.8 407.8 335.7 408.7 337.3" fill="none" stroke="#46c3b6" stroke-width="0.97" stroke-opacity="0.27" stroke-linecap="round"/>
<path d="M396.9 317.8C397.2 319.4 398.3 324.3 398.9 327.5C399.6 330.7 400.6 335.4 400.9 337.0" fill="none" stroke="#46c3b6" stroke-width="0.97" stroke-opacity="0.21" stroke-linecap="round"/>
<path d="M396.9 317.8C394.9 317.7 388.8 317.3 384.9 317.1C381.1 316.9 375.7 316.8 373.9 316.7" fill="none" stroke="#46c3b6" stroke-width="0.97" stroke-opacity="0.27" stroke-linecap="round"/>
<path d="M396.9 317.8C395.0 316.8 389.3 313.4 385.7 311.4C382.0 309.3 376.9 306.4 375.1 305.4" fill="none" stroke="#46c3b6" stroke-width="0.97" stroke-opacity="0.40" stroke-linecap="round"/>
<path d="M396.9 317.8C396.9 314.6 397.0 304.6 397.1 298.3C397.1 292.0 397.0 282.9 397.0 279.8" fill="none" stroke="#46c3b6" stroke-width="0.97" stroke-opacity="0.25" stroke-linecap="round"/>
<path d="M396.9 317.8C399.6 318.1 407.8 319.1 413.2 319.7C418.6 320.3 426.6 321.2 429.3 321.4" fill="none" stroke="#46c3b6" stroke-width="0.97" stroke-opacity="0.23" stroke-linecap="round"/>
<path d="M396.9 317.8C393.9 318.7 385.0 321.5 379.2 323.3C373.4 325.1 365.0 327.6 362.2 328.5" fill="none" stroke="#46c3b6" stroke-width="0.97" stroke-opacity="0.25" stroke-linecap="round"/>
<path d="M396.9 317.8C398.6 320.4 403.7 328.0 407.1 333.0C410.5 338.1 415.5 345.7 417.2 348.2" fill="none" stroke="#46c3b6" stroke-width="0.97" stroke-opacity="0.34" stroke-linecap="round"/>
<path d="M396.9 317.8C397.7 318.5 400.1 320.4 401.7 321.7C403.3 323.0 405.6 324.8 406.4 325.5" fill="none" stroke="#46c3b6" stroke-width="0.97" stroke-opacity="0.29" stroke-linecap="round"/>
<path d="M396.9 317.8C399.6 319.4 407.6 324.2 412.9 327.3C418.2 330.5 426.1 335.2 428.8 336.8" fill="none" stroke="#46c3b6" stroke-width="0.97" stroke-opacity="0.36" stroke-linecap="round"/>
<path d="M396.9 317.8C399.8 318.6 408.6 321.1 414.2 322.7C419.8 324.2 427.7 326.3 430.4 327.0" fill="none" stroke="#46c3b6" stroke-width="0.97" stroke-opacity="0.37" stroke-linecap="round"/>
<path d="M396.9 317.8C395.3 318.3 390.4 319.6 387.1 320.4C383.9 321.3 379.0 322.6 377.4 323.0" fill="none" stroke="#46c3b6" stroke-width="0.97" stroke-opacity="0.39" stroke-linecap="round"/>
<path d="M396.9 317.8C396.7 319.0 396.3 322.5 396.0 324.9C395.7 327.3 395.2 330.8 395.1 332.0" fill="none" stroke="#46c3b6" stroke-width="0.97" stroke-opacity="0.25" stroke-linecap="round"/>
<path d="M396.9 317.8C398.1 318.4 401.7 320.0 404.0 321.1C406.4 322.1 409.6 323.5 410.7 324.0" fill="none" stroke="#46c3b6" stroke-width="0.97" stroke-opacity="0.24" stroke-linecap="round"/>
<path d="M396.9 317.8C396.1 319.2 393.5 323.4 391.9 326.2C390.2 328.9 387.8 332.9 386.9 334.3" fill="none" stroke="#46c3b6" stroke-width="0.97" stroke-opacity="0.26" stroke-linecap="round"/>
<path d="M396.9 317.8C395.6 318.0 391.7 318.3 389.1 318.6C386.5 318.8 382.6 319.1 381.3 319.3" fill="none" stroke="#46c3b6" stroke-width="0.97" stroke-opacity="0.20" stroke-linecap="round"/>
<path d="M396.9 317.8C396.8 318.8 396.4 321.5 396.1 323.3C395.8 325.2 395.5 327.9 395.3 328.8" fill="none" stroke="#46c3b6" stroke-width="0.97" stroke-opacity="0.31" stroke-linecap="round"/>
<path d="M396.9 317.8C397.2 319.9 398.0 326.2 398.4 330.1C398.9 334.1 399.5 339.7 399.8 341.7" fill="none" stroke="#46c3b6" stroke-width="0.97" stroke-opacity="0.22" stroke-linecap="round"/>
<path d="M396.9 317.8C397.7 316.1 400.1 310.9 401.6 307.5C403.2 304.0 405.6 298.8 406.4 297.1" fill="none" stroke="#46c3b6" stroke-width="0.97" stroke-opacity="0.37" stroke-linecap="round"/>
<path d="M396.9 317.8C395.1 318.9 389.8 322.3 386.3 324.5C382.8 326.7 377.5 330.0 375.8 331.0" fill="none" stroke="#46c3b6" stroke-width="0.97" stroke-opacity="0.40" stroke-linecap="round"/>
<path d="M396.9 317.8C395.0 320.0 389.4 326.6 385.7 330.9C382.1 335.2 376.6 341.6 374.8 343.8" fill="none" stroke="#46c3b6" stroke-width="0.97" stroke-opacity="0.33" stroke-linecap="round"/>
<path d="M396.9 317.8C395.7 319.2 392.2 323.3 390.0 325.8C387.8 328.4 384.7 332.1 383.7 333.4" fill="none" stroke="#46c3b6" stroke-width="0.97" stroke-opacity="0.23" stroke-linecap="round"/>
<path d="M396.9 317.8C399.4 318.6 407.1 321.0 412.1 322.5C417.1 324.1 424.5 326.3 427.0 327.1" fill="none" stroke="#46c3b6" stroke-width="0.97" stroke-opacity="0.23" stroke-linecap="round"/>
<path d="M396.9 317.8C399.0 319.8 405.6 325.9 409.8 329.8C414.0 333.7 419.9 339.4 422.0 341.3" fill="none" stroke="#46c3b6" stroke-width="0.97" stroke-opacity="0.34" stroke-linecap="round"/>
<path d="M601.7 210.2C601.6 211.0 601.4 213.7 601.3 215.4C601.1 217.2 600.9 219.7 600.9 220.6" fill="none" stroke="#46c3b6" stroke-width="0.97" stroke-opacity="0.29" stroke-linecap="round"/>
<path d="M601.7 210.2C602.4 211.0 604.7 213.5 606.1 215.2C607.6 216.9 609.8 219.3 610.5 220.2" fill="none" stroke="#46c3b6" stroke-width="0.97" stroke-opacity="0.39" stroke-linecap="round"/>
<path d="M601.7 210.2C602.9 209.8 606.4 208.6 608.8 207.8C611.1 207.0 614.5 205.8 615.7 205.4" fill="none" stroke="#46c3b6" stroke-width="0.97" stroke-opacity="0.40" stroke-linecap="round"/>
<path d="M601.7 210.2C601.6 211.2 601.3 214.4 601.1 216.4C601.0 218.5 600.8 221.3 600.8 222.2" fill="none" stroke="#46c3b6" stroke-width="0.97" stroke-opacity="0.28" stroke-linecap="round"/>
<path d="M601.7 210.2C600.5 210.6 597.1 211.7 594.9 212.5C592.7 213.3 589.4 214.5 588.3 214.9" fill="none" stroke="#46c3b6" stroke-width="0.97" stroke-opacity="0.30" stroke-linecap="round"/>
<path d="M601.7 210.2C602.6 210.0 605.3 209.4 607.1 209.0C608.9 208.6 611.4 208.0 612.2 207.9" fill="none" stroke="#46c3b6" stroke-width="0.97" stroke-opacity="0.28" stroke-linecap="round"/>
<path d="M601.7 210.2C602.3 210.2 604.1 210.5 605.3 210.7C606.6 210.9 608.4 211.1 609.0 211.2" fill="none" stroke="#46c3b6" stroke-width="0.97" stroke-opacity="0.25" stroke-linecap="round"/>
<path d="M601.7 210.2C600.7 209.4 597.9 207.0 596.0 205.5C594.1 204.0 591.4 201.7 590.4 200.9" fill="none" stroke="#46c3b6" stroke-width="0.97" stroke-opacity="0.33" stroke-linecap="round"/>
<path d="M601.7 210.2C601.2 208.6 599.9 203.9 599.0 200.8C598.1 197.7 596.7 193.0 596.3 191.4" fill="none" stroke="#46c3b6" stroke-width="0.97" stroke-opacity="0.27" stroke-linecap="round"/>
<path d="M601.7 210.2C602.4 210.2 604.8 210.3 606.3 210.3C607.8 210.4 610.1 210.5 610.8 210.5" fill="none" stroke="#46c3b6" stroke-width="0.97" stroke-opacity="0.33" stroke-linecap="round"/>
<path d="M614.9 331.1C616.4 331.9 621.1 334.5 624.0 336.1C627.0 337.8 631.2 340.2 632.7 341.0" fill="none" stroke="#46c3b6" stroke-width="0.97" stroke-opacity="0.33" stroke-linecap="round"/>
<path d="M614.9 331.1C614.4 329.5 612.8 324.5 611.7 321.4C610.7 318.2 609.2 313.7 608.7 312.1" fill="none" stroke="#46c3b6" stroke-width="0.97" stroke-opacity="0.31" stroke-linecap="round"/>
<path d="M614.9 331.1C613.2 330.7 608.1 329.6 604.8 328.9C601.5 328.2 596.7 327.2 595.0 326.8" fill="none" stroke="#46c3b6" stroke-width="0.97" stroke-opacity="0.37" stroke-linecap="round"/>
<path d="M614.9 331.1C613.5 330.0 609.2 326.8 606.3 324.7C603.5 322.6 599.3 319.5 597.8 318.4" fill="none" stroke="#46c3b6" stroke-width="0.97" stroke-opacity="0.34" stroke-linecap="round"/>
<path d="M614.9 331.1C615.1 331.7 615.8 333.5 616.2 334.7C616.6 335.9 617.3 337.6 617.5 338.2" fill="none" stroke="#46c3b6" stroke-width="0.97" stroke-opacity="0.27" stroke-linecap="round"/>
<path d="M614.9 331.1C616.2 332.2 620.1 335.4 622.7 337.6C625.3 339.8 629.2 343.0 630.5 344.1" fill="none" stroke="#46c3b6" stroke-width="0.97" stroke-opacity="0.33" stroke-linecap="round"/>
<path d="M614.9 331.1C613.9 330.0 610.7 326.9 608.6 324.7C606.5 322.6 603.3 319.5 602.3 318.4" fill="none" stroke="#46c3b6" stroke-width="0.97" stroke-opacity="0.20" stroke-linecap="round"/>
<path d="M614.9 331.1C615.4 329.6 616.8 325.0 617.7 322.0C618.7 319.0 620.1 314.5 620.5 313.0" fill="none" stroke="#46c3b6" stroke-width="0.97" stroke-opacity="0.31" stroke-linecap="round"/>
<path d="M614.9 331.1C614.6 330.5 613.8 328.6 613.2 327.4C612.6 326.1 611.8 324.3 611.5 323.7" fill="none" stroke="#46c3b6" stroke-width="0.97" stroke-opacity="0.25" stroke-linecap="round"/>
<path d="M614.9 331.1C615.7 331.6 618.0 333.2 619.6 334.3C621.1 335.4 623.4 337.0 624.2 337.5" fill="none" stroke="#46c3b6" stroke-width="0.97" stroke-opacity="0.24" stroke-linecap="round"/>
<path d="M583.1 325.8C583.0 324.3 582.7 320.0 582.5 317.1C582.4 314.2 582.1 309.9 582.0 308.4" fill="none" stroke="#46c3b6" stroke-width="0.97" stroke-opacity="0.28" stroke-linecap="round"/>
<path d="M583.1 325.8C581.9 325.7 578.3 325.7 575.9 325.6C573.5 325.5 570.0 325.4 568.8 325.4" fill="none" stroke="#46c3b6" stroke-width="0.97" stroke-opacity="0.33" stroke-linecap="round"/>
<path d="M583.1 325.8C582.6 325.4 581.0 324.1 580.0 323.2C579.0 322.4 577.5 321.2 577.0 320.8" fill="none" stroke="#46c3b6" stroke-width="0.97" stroke-opacity="0.25" stroke-linecap="round"/>
<path d="M583.1 325.8C583.1 324.9 583.1 322.3 583.1 320.6C583.1 318.9 583.1 316.4 583.1 315.5" fill="none" stroke="#46c3b6" stroke-width="0.97" stroke-opacity="0.20" stroke-linecap="round"/>
<path d="M583.1 325.8C583.9 326.2 586.1 327.3 587.5 328.1C589.0 328.9 591.2 330.0 591.9 330.4" fill="none" stroke="#46c3b6" stroke-width="0.97" stroke-opacity="0.34" stroke-linecap="round"/>
<path d="M583.1 325.8C582.8 325.0 581.6 322.7 580.9 321.2C580.2 319.7 579.0 317.4 578.7 316.7" fill="none" stroke="#46c3b6" stroke-width="0.97" stroke-opacity="0.29" stroke-linecap="round"/>
<path d="M583.1 325.8C582.4 325.8 580.2 325.7 578.9 325.7C577.5 325.7 575.5 325.6 574.8 325.6" fill="none" stroke="#46c3b6" stroke-width="0.97" stroke-opacity="0.24" stroke-linecap="round"/>
<path d="M583.1 325.8C584.5 325.2 588.6 323.4 591.2 322.2C593.8 321.0 597.4 319.3 598.6 318.8" fill="none" stroke="#46c3b6" stroke-width="0.97" stroke-opacity="0.29" stroke-linecap="round"/>
<path d="M386.8 183.7C387.3 182.5 388.9 178.9 389.9 176.5C391.0 174.2 392.5 170.6 393.0 169.4" fill="none" stroke="#46c3b6" stroke-width="0.97" stroke-opacity="0.26" stroke-linecap="round"/>
<path d="M386.8 183.7C387.4 184.9 389.0 188.4 390.0 190.8C391.1 193.1 392.6 196.5 393.2 197.6" fill="none" stroke="#46c3b6" stroke-width="0.97" stroke-opacity="0.32" stroke-linecap="round"/>
<path d="M386.8 183.7C387.2 184.5 388.4 187.2 389.1 188.8C389.8 190.5 390.8 192.8 391.1 193.6" fill="none" stroke="#46c3b6" stroke-width="0.97" stroke-opacity="0.23" stroke-linecap="round"/>
<path d="M386.8 183.7C387.4 183.0 389.1 180.8 390.2 179.4C391.3 178.0 393.0 176.0 393.5 175.3" fill="none" stroke="#46c3b6" stroke-width="0.97" stroke-opacity="0.34" stroke-linecap="round"/>
<path d="M386.8 183.7C387.0 184.9 387.4 188.6 387.8 191.0C388.1 193.5 388.5 197.1 388.7 198.4" fill="none" stroke="#46c3b6" stroke-width="0.97" stroke-opacity="0.21" stroke-linecap="round"/>
<path d="M386.8 183.7C387.7 183.7 390.3 183.6 392.1 183.6C393.8 183.6 396.5 183.6 397.3 183.6" fill="none" stroke="#46c3b6" stroke-width="0.97" stroke-opacity="0.26" stroke-linecap="round"/>
<path d="M386.8 183.7C387.4 184.2 389.0 185.8 390.0 186.8C391.1 187.9 392.7 189.4 393.2 189.9" fill="none" stroke="#46c3b6" stroke-width="0.97" stroke-opacity="0.37" stroke-linecap="round"/>
<path d="M386.8 183.7C387.9 183.9 391.3 184.6 393.4 185.1C395.6 185.6 398.7 186.3 399.8 186.5" fill="none" stroke="#46c3b6" stroke-width="0.97" stroke-opacity="0.23" stroke-linecap="round"/>
<path d="M645.8 381.4C647.2 381.1 651.6 380.0 654.4 379.4C657.2 378.8 661.2 377.9 662.5 377.6" fill="none" stroke="#46c3b6" stroke-width="0.97" stroke-opacity="0.26" stroke-linecap="round"/>
<path d="M645.8 381.4C644.8 381.9 641.9 383.6 640.1 384.6C638.2 385.6 635.6 387.0 634.8 387.5" fill="none" stroke="#46c3b6" stroke-width="0.97" stroke-opacity="0.32" stroke-linecap="round"/>
<path d="M645.8 381.4C645.2 382.3 643.4 385.1 642.3 387.0C641.1 388.8 639.4 391.6 638.8 392.5" fill="none" stroke="#46c3b6" stroke-width="0.97" stroke-opacity="0.21" stroke-linecap="round"/>
<path d="M645.8 381.4C647.2 382.2 651.3 384.5 654.1 386.0C656.8 387.6 660.9 389.8 662.2 390.6" fill="none" stroke="#46c3b6" stroke-width="0.97" stroke-opacity="0.39" stroke-linecap="round"/>
<path d="M645.8 381.4C645.8 382.3 645.8 385.0 645.8 386.8C645.8 388.6 645.8 391.3 645.8 392.2" fill="none" stroke="#46c3b6" stroke-width="0.97" stroke-opacity="0.24" stroke-linecap="round"/>
<path d="M645.8 381.4C644.3 382.3 639.8 385.2 636.9 387.1C634.0 388.9 629.8 391.5 628.4 392.4" fill="none" stroke="#46c3b6" stroke-width="0.97" stroke-opacity="0.36" stroke-linecap="round"/>
<path d="M645.8 381.4C645.0 379.9 642.5 375.2 640.9 372.3C639.4 369.3 637.3 365.1 636.5 363.7" fill="none" stroke="#46c3b6" stroke-width="0.97" stroke-opacity="0.31" stroke-linecap="round"/>
<path d="M645.8 381.4C645.8 380.7 645.7 378.8 645.6 377.5C645.5 376.2 645.4 374.3 645.4 373.6" fill="none" stroke="#46c3b6" stroke-width="0.97" stroke-opacity="0.29" stroke-linecap="round"/>
<path d="M645.8 381.4C645.7 380.0 645.2 376.0 644.9 373.3C644.6 370.6 644.2 366.7 644.0 365.3" fill="none" stroke="#46c3b6" stroke-width="0.97" stroke-opacity="0.21" stroke-linecap="round"/>
<path d="M645.8 381.4C646.5 381.1 648.4 380.0 649.7 379.4C651.1 378.7 653.0 377.7 653.7 377.3" fill="none" stroke="#46c3b6" stroke-width="0.97" stroke-opacity="0.27" stroke-linecap="round"/>
<path d="M401.3 413.2C400.6 414.2 398.4 417.6 397.1 419.6C395.7 421.7 393.7 424.6 393.1 425.6" fill="none" stroke="#46c3b6" stroke-width="0.97" stroke-opacity="0.25" stroke-linecap="round"/>
<path d="M401.3 413.2C400.9 412.4 399.5 410.3 398.6 408.8C397.7 407.4 396.3 405.2 395.9 404.5" fill="none" stroke="#46c3b6" stroke-width="0.97" stroke-opacity="0.28" stroke-linecap="round"/>
<path d="M401.3 413.2C401.8 413.7 403.2 415.5 404.2 416.6C405.1 417.7 406.5 419.4 406.9 419.9" fill="none" stroke="#46c3b6" stroke-width="0.97" stroke-opacity="0.38" stroke-linecap="round"/>
<path d="M401.3 413.2C400.5 413.0 398.1 412.5 396.6 412.1C395.1 411.8 392.9 411.2 392.2 411.1" fill="none" stroke="#46c3b6" stroke-width="0.97" stroke-opacity="0.40" stroke-linecap="round"/>
<path d="M401.3 413.2C400.7 413.5 398.7 414.6 397.5 415.2C396.2 415.9 394.4 416.9 393.8 417.3" fill="none" stroke="#46c3b6" stroke-width="0.97" stroke-opacity="0.22" stroke-linecap="round"/>
<path d="M401.3 413.2C401.0 413.8 400.2 415.6 399.6 416.9C399.1 418.1 398.3 419.9 398.0 420.5" fill="none" stroke="#46c3b6" stroke-width="0.97" stroke-opacity="0.25" stroke-linecap="round"/>
<path d="M401.3 413.2C400.2 412.4 396.7 410.1 394.4 408.6C392.1 407.0 388.7 404.8 387.6 404.0" fill="none" stroke="#46c3b6" stroke-width="0.97" stroke-opacity="0.28" stroke-linecap="round"/>
<path d="M401.3 413.2C400.4 413.8 397.9 415.6 396.1 416.8C394.4 418.0 391.9 419.8 391.0 420.4" fill="none" stroke="#46c3b6" stroke-width="0.97" stroke-opacity="0.27" stroke-linecap="round"/>
<path d="M680.2 148.4C681.0 149.0 683.3 150.7 684.7 151.9C686.2 153.0 688.1 154.6 688.8 155.2" fill="none" stroke="#46c3b6" stroke-width="0.97" stroke-opacity="0.23" stroke-linecap="round"/>
<path d="M680.2 148.4C678.9 148.0 674.9 147.1 672.3 146.5C669.7 145.8 666.0 144.9 664.7 144.6" fill="none" stroke="#46c3b6" stroke-width="0.97" stroke-opacity="0.24" stroke-linecap="round"/>
<path d="M680.2 148.4C680.2 149.2 680.0 151.9 679.8 153.6C679.7 155.4 679.5 158.0 679.5 158.9" fill="none" stroke="#46c3b6" stroke-width="0.97" stroke-opacity="0.29" stroke-linecap="round"/>
<path d="M680.2 148.4C681.8 148.3 686.8 147.9 690.0 147.7C693.1 147.5 697.7 147.2 699.2 147.1" fill="none" stroke="#46c3b6" stroke-width="0.97" stroke-opacity="0.21" stroke-linecap="round"/>
<path d="M680.2 148.4C681.6 149.0 685.6 150.9 688.2 152.1C690.8 153.3 694.4 155.0 695.7 155.6" fill="none" stroke="#46c3b6" stroke-width="0.97" stroke-opacity="0.30" stroke-linecap="round"/>
<path d="M680.2 148.4C679.7 148.1 678.1 147.3 677.1 146.7C676.0 146.2 674.5 145.4 674.0 145.1" fill="none" stroke="#46c3b6" stroke-width="0.97" stroke-opacity="0.39" stroke-linecap="round"/>
<path d="M680.2 148.4C681.4 147.2 684.8 143.4 687.0 141.1C689.2 138.8 692.3 135.6 693.4 134.5" fill="none" stroke="#46c3b6" stroke-width="0.97" stroke-opacity="0.25" stroke-linecap="round"/>
<path d="M680.2 148.4C680.8 148.9 682.6 150.3 683.8 151.3C684.9 152.3 686.7 153.8 687.3 154.3" fill="none" stroke="#46c3b6" stroke-width="0.97" stroke-opacity="0.34" stroke-linecap="round"/>
<path d="M680.2 148.4C681.6 148.0 685.8 146.8 688.6 146.0C691.3 145.2 695.4 144.0 696.8 143.6" fill="none" stroke="#46c3b6" stroke-width="0.97" stroke-opacity="0.36" stroke-linecap="round"/>
<path d="M680.2 148.4C679.1 149.0 675.7 151.0 673.6 152.3C671.5 153.6 668.5 155.4 667.5 156.1" fill="none" stroke="#46c3b6" stroke-width="0.97" stroke-opacity="0.36" stroke-linecap="round"/>
</g>
<g filter="url(#bm)"><ellipse cx="386.8" cy="183.7" rx="3.7" ry="5.2" fill="#6fe3d6" fill-opacity="0.95" transform="rotate(10 386.8 183.7)"/>
<ellipse cx="550.5" cy="183.1" rx="7.8" ry="4.3" fill="#6fe3d6" fill-opacity="1" transform="rotate(5 550.5 183.1)"/>
<ellipse cx="570.8" cy="174.0" rx="8.6" ry="3.4" fill="#6fe3d6" fill-opacity="1" transform="rotate(-35 570.8 174.0)"/>
<ellipse cx="601.7" cy="210.5" rx="4.7" ry="6.5" fill="#6fe3d6" fill-opacity="1" transform="rotate(-30 601.7 210.5)"/>
<ellipse cx="513.9" cy="242.8" rx="5.2" ry="7.3" fill="#6fe3d6" fill-opacity="0.95" transform="rotate(-15 513.9 242.8)"/>
<ellipse cx="505.5" cy="237.5" rx="3.9" ry="4.7" fill="#6fe3d6" fill-opacity="0.6"/>
<ellipse cx="524.9" cy="256.1" rx="4.3" ry="5.6" fill="#6fe3d6" fill-opacity="0.95" transform="rotate(10 524.9 256.1)"/>
<ellipse cx="519.9" cy="273.4" rx="5.6" ry="5.2" fill="#6fe3d6" fill-opacity="0.95"/>
<ellipse cx="501.0" cy="286.4" rx="4.3" ry="4.7" fill="#6fe3d6" fill-opacity="0.7"/>
<ellipse cx="396.9" cy="317.8" rx="4.3" ry="3.9" fill="#6fe3d6" fill-opacity="0.8"/>
<ellipse cx="583.1" cy="325.8" rx="5.2" ry="6.0" fill="#6fe3d6" fill-opacity="0.95" transform="rotate(10 583.1 325.8)"/>
<ellipse cx="614.9" cy="331.1" rx="5.6" ry="5.2" fill="#6fe3d6" fill-opacity="1"/>
<ellipse cx="586.7" cy="302.8" rx="3.4" ry="3.9" fill="#6fe3d6" fill-opacity="0.55"/>
<ellipse cx="645.8" cy="381.4" rx="7.3" ry="3.4" fill="#6fe3d6" fill-opacity="0.95" transform="rotate(-10 645.8 381.4)"/>
<ellipse cx="425.1" cy="401.7" rx="4.3" ry="3.9" fill="#6fe3d6" fill-opacity="0.9" transform="rotate(20 425.1 401.7)"/>
<ellipse cx="401.3" cy="413.2" rx="3.9" ry="5.6" fill="#6fe3d6" fill-opacity="0.95"/>
<ellipse cx="455.1" cy="390.2" rx="2.6" ry="2.6" fill="#6fe3d6" fill-opacity="0.9"/>
<ellipse cx="597.3" cy="349.3" rx="3.9" ry="3.0" fill="#6fe3d6" fill-opacity="0.5"/>
<ellipse cx="534.6" cy="340.4" rx="3.4" ry="1.7" fill="#6fe3d6" fill-opacity="0.6" transform="rotate(10 534.6 340.4)"/>
<ellipse cx="556.7" cy="354.0" rx="2.6" ry="1.7" fill="#6fe3d6" fill-opacity="0.4" transform="rotate(20 556.7 354.0)"/>
<ellipse cx="396.0" cy="280.8" rx="2.6" ry="2.6" fill="#6fe3d6" fill-opacity="0.4"/>
<ellipse cx="668.2" cy="404.3" rx="1.7" ry="3.4" fill="#6fe3d6" fill-opacity="0.6" transform="rotate(-20 668.2 404.3)"/>
</g>
</g>
<rect x="376.20" y="425.20" width="30.50" height="5.30" fill="#fff"/>
<path d="M569.9 310.8L581.8 310.8M588.1 310.8L598.1 310.8M568.0 341.6L579.6 341.6M586.0 341.6L598.1 341.6M566.1 310.1L566.1 322.3M566.1 327.6L566.1 340.6M596.6 317.5L596.6 329.7M596.6 335.5L596.6 343.1" fill="none" stroke="#fff" stroke-width="2.9"/>
<g clip-path="url(#cb2)">
<rect x="370.90" y="518.90" width="323.80" height="323.80" fill="#030207"/>
<g filter="url(#bl)"><ellipse cx="434.8" cy="722.3" rx="10.6" ry="8.8" fill="#7a1e90" fill-opacity="0.3"/>
<ellipse cx="521.3" cy="635.8" rx="8.6" ry="6.5" fill="#7a1e90" fill-opacity="0.3"/>
<ellipse cx="376.6" cy="642.9" rx="5.3" ry="14.1" fill="#7a1e90" fill-opacity="0.3"/>
<ellipse cx="533.7" cy="538.7" rx="8.6" ry="8.6" fill="#7a1e90" fill-opacity="0.3"/>
<ellipse cx="666.1" cy="754.1" rx="10.6" ry="8.8" fill="#7a1e90" fill-opacity="0.35"/>
<ellipse cx="394.2" cy="794.7" rx="8.8" ry="8.8" fill="#7a1e90" fill-opacity="0.2"/>
<ellipse cx="427.8" cy="589.9" rx="6.5" ry="6.5" fill="#5a4aa0" fill-opacity="0.3"/>
<ellipse cx="551.4" cy="651.7" rx="8.6" ry="8.6" fill="#7a1e90" fill-opacity="0.2"/>
<ellipse cx="498.4" cy="819.4" rx="19.4" ry="15.9" fill="#4a8ab8" fill-opacity="0.35"/>
<ellipse cx="600.8" cy="672.9" rx="12.4" ry="10.6" fill="#4a8ab8" fill-opacity="0.25"/>
<ellipse cx="680.2" cy="658.8" rx="10.6" ry="8.8" fill="#4a8ab8" fill-opacity="0.25"/>
<ellipse cx="380.1" cy="752.3" rx="8.8" ry="8.8" fill="#4a8ab8" fill-opacity="0.25"/>
<ellipse cx="676.7" cy="727.6" rx="8.8" ry="7.1" fill="#3a9aa0" fill-opacity="0.3"/>
<ellipse cx="381.9" cy="531.7" rx="7.1" ry="12.4" fill="#7a1e90" fill-opacity="0.25"/>
<ellipse cx="475.4" cy="521.1" rx="8.6" ry="4.3" fill="#7a1e90" fill-opacity="0.3"/>
</g>
<g filter="url(#bs)"><path d="M406.6 720.5C409.5 720.0 418.1 718.3 424.3 717.0C430.4 715.7 438.1 714.6 443.7 713.0C449.3 711.3 453.1 708.8 457.8 707.3C462.5 705.8 468.1 704.1 471.9 703.8C475.7 703.5 477.8 705.2 480.7 705.5C483.7 705.8 485.7 706.9 489.6 705.5C493.4 704.2 499.6 700.1 503.7 697.6C507.8 695.1 510.8 692.9 514.3 690.5C517.8 688.2 520.8 686.1 524.9 683.5C529.0 680.8 534.6 677.0 539.0 674.6C543.4 672.3 547.4 670.8 551.4 669.3C555.3 667.9 560.9 666.4 562.8 665.8" fill="none" stroke="#66c8e6" stroke-width="1.84" stroke-opacity="0.92" stroke-linecap="round"/>
<path d="M489.6 705.5C490.7 705.1 494.6 703.9 496.6 702.9C498.7 701.9 501.0 699.9 501.9 699.4" fill="none" stroke="#dff" stroke-width="3.15" stroke-opacity="1.00" stroke-linecap="round"/>
<path d="M562.8 665.8C565.3 666.1 573.3 666.7 577.8 667.6C582.4 668.5 586.4 670.2 590.2 671.1C594.0 672.0 599.0 672.6 600.8 672.9" fill="none" stroke="#66c8e6" stroke-width="1.70" stroke-opacity="0.80" stroke-linecap="round"/>
<path d="M600.8 672.9C602.8 671.4 608.7 667.0 613.1 664.1C617.6 661.1 623.1 657.9 627.3 655.2C631.4 652.6 634.3 651.1 637.9 648.2C641.4 645.2 646.7 639.3 648.5 637.6" fill="none" stroke="#66c8e6" stroke-width="1.70" stroke-opacity="0.69" stroke-linecap="round"/>
<path d="M600.8 672.9C599.3 674.3 594.9 678.8 592.0 681.7C589.0 684.6 585.6 688.2 583.1 690.5C580.6 692.9 578.0 694.9 577.0 695.8" fill="none" stroke="#9fe4f4" stroke-width="4.60" stroke-opacity="1.00" stroke-linecap="round"/>
<path d="M577.0 695.8C576.2 697.9 573.9 703.2 572.5 708.2C571.2 713.2 571.1 720.5 569.0 725.8C567.0 731.1 562.8 737.0 560.2 740.0C557.5 742.9 554.3 742.9 553.1 743.5" fill="none" stroke="#66c8e6" stroke-width="1.70" stroke-opacity="0.75" stroke-linecap="round"/>
<path d="M600.8 672.9C599.6 670.5 596.1 663.2 593.7 658.8C591.4 654.3 588.9 650.5 586.7 646.4C584.5 642.3 582.0 638.5 580.5 634.0C579.0 629.6 578.1 624.6 577.8 619.9C577.5 615.2 578.1 610.2 578.7 605.8C579.3 601.4 579.8 598.7 581.4 593.4C583.0 588.1 586.1 579.9 588.4 574.0C590.8 568.1 594.3 560.8 595.5 558.1" fill="none" stroke="#66c8e6" stroke-width="1.41" stroke-opacity="0.63" stroke-linecap="round"/>
<path d="M595.5 558.1C596.1 556.1 597.6 550.2 599.0 545.8C600.5 541.4 602.0 536.1 604.3 531.7C606.7 527.2 611.7 521.4 613.1 519.3" fill="none" stroke="#66c8e6" stroke-width="1.99" stroke-opacity="0.80" stroke-linecap="round"/>
<path d="M560.2 577.6C560.6 578.4 562.0 581.1 562.8 582.8C563.7 584.6 565.0 587.3 565.5 588.1" fill="none" stroke="#8fe6ee" stroke-width="4.60" stroke-opacity="1.00" stroke-linecap="round"/>
<path d="M565.5 588.1C566.7 589.9 570.0 594.6 572.5 598.7C575.0 602.9 579.2 610.5 580.5 612.9" fill="none" stroke="#66c8e6" stroke-width="1.41" stroke-opacity="0.57" stroke-linecap="round"/>
<path d="M560.2 577.6C559.9 575.8 558.4 570.2 558.4 567.0C558.4 563.7 559.9 559.6 560.2 558.1" fill="none" stroke="#66c8e6" stroke-width="1.41" stroke-opacity="0.57" stroke-linecap="round"/>
<path d="M379.2 621.7C378.9 619.6 377.6 613.2 377.5 609.3C377.3 605.5 377.0 602.9 378.4 598.7C379.7 594.6 382.2 589.0 385.4 584.6C388.7 580.2 393.7 576.1 397.8 572.3C401.9 568.4 406.6 565.2 410.1 561.7C413.7 558.1 417.5 552.8 419.0 551.1" fill="none" stroke="#66c8e6" stroke-width="1.41" stroke-opacity="0.63" stroke-linecap="round"/>
<path d="M373.1 616.4C374.1 617.3 377.2 619.6 379.2 621.7C381.3 623.7 384.4 627.6 385.4 628.7" fill="none" stroke="#9fe4f4" stroke-width="4.89" stroke-opacity="1.00" stroke-linecap="round"/>
<path d="M379.2 621.7C380.6 623.7 384.4 630.5 387.2 634.0C390.0 637.6 392.5 639.9 396.0 642.9C399.5 645.8 406.3 650.2 408.4 651.7" fill="none" stroke="#66c8e6" stroke-width="1.41" stroke-opacity="0.57" stroke-linecap="round"/>
<path d="M459.6 553.7C461.6 553.4 466.9 552.7 471.9 552.0C476.9 551.2 483.7 550.6 489.6 549.3C495.5 548.0 501.6 545.3 507.2 544.0C512.8 542.7 520.5 541.8 523.1 541.4" fill="none" stroke="#66c8e6" stroke-width="1.26" stroke-opacity="0.57" stroke-linecap="round"/>
<path d="M523.1 541.4C523.7 539.5 525.8 533.6 526.6 529.9C527.5 526.2 528.1 521.1 528.4 519.3" fill="none" stroke="#66c8e6" stroke-width="1.41" stroke-opacity="0.63" stroke-linecap="round"/>
<path d="M459.6 553.7C458.7 554.7 455.7 558.0 454.3 559.9C452.8 561.8 451.3 564.3 450.7 565.2" fill="none" stroke="#66c8e6" stroke-width="1.26" stroke-opacity="0.46" stroke-linecap="round"/>
<path d="M679.3 658.8C677.1 659.1 671.3 660.2 666.1 660.5C661.0 660.8 653.2 661.1 648.5 660.5C643.7 659.9 641.4 657.9 637.9 657.0C634.3 656.1 629.0 655.5 627.3 655.2" fill="none" stroke="#66c8e6" stroke-width="1.55" stroke-opacity="0.69" stroke-linecap="round"/>
<path d="M679.3 658.8C678.9 657.0 677.6 651.7 676.7 648.2C675.8 644.6 674.6 641.7 674.0 637.6C673.5 633.5 673.3 628.2 673.2 623.4C673.0 618.7 673.2 611.7 673.2 609.3" fill="none" stroke="#66c8e6" stroke-width="1.70" stroke-opacity="0.69" stroke-linecap="round"/>
<path d="M679.3 658.8C680.7 658.2 684.7 656.1 687.3 655.2C689.8 654.3 693.5 653.8 694.7 653.5" fill="none" stroke="#66c8e6" stroke-width="1.99" stroke-opacity="0.80" stroke-linecap="round"/>
<path d="M679.3 658.8C678.9 660.5 678.3 665.8 676.7 669.3C675.1 672.9 670.8 678.2 669.6 679.9" fill="none" stroke="#66c8e6" stroke-width="1.12" stroke-opacity="0.46" stroke-linecap="round"/>
<path d="M658.2 535.2C656.8 534.0 653.0 530.5 650.2 528.1C647.4 525.8 642.9 522.2 641.4 521.1" fill="none" stroke="#66c8e6" stroke-width="1.41" stroke-opacity="0.57" stroke-linecap="round"/>
<path d="M658.2 535.2C659.5 533.4 665.1 527.2 666.1 524.6C667.1 521.9 664.6 520.2 664.3 519.3" fill="none" stroke="#66c8e6" stroke-width="1.41" stroke-opacity="0.57" stroke-linecap="round"/>
<path d="M658.2 535.2C660.1 537.5 667.1 544.0 669.6 549.3C672.1 554.6 672.0 561.1 673.2 567.0C674.3 572.8 676.1 581.7 676.7 584.6" fill="none" stroke="#66c8e6" stroke-width="0.97" stroke-opacity="0.40" stroke-linecap="round"/>
<path d="M498.4 819.4C496.3 818.5 490.5 815.9 486.0 814.1C481.6 812.3 476.3 810.6 471.9 808.8C467.5 807.0 463.4 805.0 459.6 803.5C455.7 802.0 450.7 800.6 449.0 800.0" fill="none" stroke="#9fe4f4" stroke-width="3.73" stroke-opacity="1.00" stroke-linecap="round"/>
<path d="M449.0 800.0C446.9 799.1 440.7 796.2 436.6 794.7C432.5 793.2 428.5 791.7 424.3 791.2C420.0 790.6 413.2 791.2 411.0 791.2" fill="none" stroke="#66c8e6" stroke-width="1.55" stroke-opacity="0.69" stroke-linecap="round"/>
<path d="M498.4 819.4C496.9 820.9 492.8 825.6 489.6 828.2C486.3 830.9 483.1 832.9 479.0 835.3C474.9 837.7 467.2 841.5 464.9 842.7" fill="none" stroke="#66c8e6" stroke-width="2.86" stroke-opacity="0.80" stroke-linecap="round"/>
<path d="M498.4 819.4C499.6 817.3 503.4 810.9 505.5 807.0C507.5 803.2 509.3 800.6 510.8 796.5C512.2 792.3 513.4 786.7 514.3 782.3C515.2 777.9 515.8 772.0 516.1 770.0" fill="none" stroke="#66c8e6" stroke-width="1.26" stroke-opacity="0.52" stroke-linecap="round"/>
<path d="M410.1 747.0C409.3 745.0 406.7 739.1 404.8 734.7C402.9 730.3 399.7 722.9 398.7 720.5" fill="none" stroke="#66c8e6" stroke-width="1.55" stroke-opacity="0.69" stroke-linecap="round"/>
<path d="M410.1 747.0C412.2 748.2 418.1 751.7 422.5 754.1C426.9 756.4 431.3 758.5 436.6 761.1C441.9 763.8 448.4 767.0 454.3 770.0C460.2 772.9 469.0 777.3 471.9 778.8" fill="none" stroke="#66c8e6" stroke-width="1.12" stroke-opacity="0.46" stroke-linecap="round"/>
<path d="M410.1 747.0C411.0 748.5 414.0 753.5 415.4 755.8C416.9 758.2 418.4 760.3 419.0 761.1" fill="none" stroke="#66c8e6" stroke-width="1.41" stroke-opacity="0.57" stroke-linecap="round"/>
<path d="M652.0 755.0C650.8 753.9 647.3 751.0 644.9 748.8C642.6 746.6 639.9 744.4 637.9 741.7C635.8 739.1 633.7 735.5 632.6 732.9C631.4 730.3 631.1 727.0 630.8 725.8" fill="none" stroke="#66c8e6" stroke-width="1.84" stroke-opacity="0.80" stroke-linecap="round"/>
<path d="M674.9 725.8C673.5 727.0 669.0 731.1 666.1 732.9C663.2 734.7 658.7 735.8 657.3 736.4" fill="none" stroke="#66c8e6" stroke-width="1.26" stroke-opacity="0.52" stroke-linecap="round"/>
<path d="M477.2 743.0C479.0 742.2 484.6 739.6 487.8 738.2C491.0 736.8 495.2 735.3 496.6 734.7" fill="none" stroke="#66c8e6" stroke-width="1.12" stroke-opacity="0.52" stroke-linecap="round"/>
<path d="M477.2 743.0C476.3 744.2 474.0 748.1 471.9 750.6C469.9 753.0 467.5 755.8 464.9 757.6C462.2 759.4 457.5 760.6 456.0 761.1" fill="none" stroke="#66c8e6" stroke-width="0.97" stroke-opacity="0.40" stroke-linecap="round"/>
<path d="M525.8 694.9C526.5 693.6 528.6 689.5 530.2 687.0C531.8 684.5 534.6 681.1 535.5 679.9" fill="none" stroke="#66c8e6" stroke-width="1.55" stroke-opacity="0.69" stroke-linecap="round"/>
<path d="M525.8 694.9C525.6 697.2 525.3 703.6 524.9 708.2C524.4 712.7 523.4 720.0 523.1 722.3" fill="none" stroke="#66c8e6" stroke-width="0.97" stroke-opacity="0.40" stroke-linecap="round"/>
<path d="M601.7 690.5C601.2 689.1 599.2 684.6 599.0 681.7C598.9 678.8 600.5 674.3 600.8 672.9" fill="none" stroke="#66c8e6" stroke-width="1.55" stroke-opacity="0.69" stroke-linecap="round"/>
<path d="M443.7 713.0C441.9 711.6 436.6 707.8 433.1 704.7C429.6 701.5 426.3 697.3 422.5 694.1C418.7 690.8 412.2 686.7 410.1 685.2" fill="none" stroke="#66c8e6" stroke-width="0.97" stroke-opacity="0.34" stroke-linecap="round"/>
<path d="M471.9 703.8C472.5 701.0 474.0 692.2 475.4 687.0C476.9 681.9 478.4 677.6 480.7 672.9C483.1 668.2 488.1 661.1 489.6 658.8" fill="none" stroke="#66c8e6" stroke-width="0.97" stroke-opacity="0.34" stroke-linecap="round"/>
<path d="M577.8 619.9C580.8 621.1 589.6 624.0 595.5 627.0C601.4 629.9 607.3 633.5 613.1 637.6C619.0 641.7 627.9 649.3 630.8 651.7" fill="none" stroke="#66c8e6" stroke-width="0.83" stroke-opacity="0.34" stroke-linecap="round"/>
<path d="M562.0 747.0C562.2 748.5 563.7 752.9 563.7 755.8C563.7 758.8 562.2 763.2 562.0 764.7" fill="none" stroke="#66c8e6" stroke-width="1.26" stroke-opacity="0.52" stroke-linecap="round"/>
<path d="M592.8 805.3C592.5 803.8 591.8 799.1 591.1 796.5C590.3 793.8 588.9 790.6 588.4 789.4" fill="none" stroke="#66c8e6" stroke-width="1.12" stroke-opacity="0.46" stroke-linecap="round"/>
<path d="M408.4 651.7C411.0 655.2 419.0 666.4 424.3 672.9C429.6 679.4 437.5 687.6 440.1 690.5" fill="none" stroke="#66c8e6" stroke-width="0.83" stroke-opacity="0.29" stroke-linecap="round"/>
<path d="M371.3 743.5C372.6 745.0 376.9 748.8 379.2 752.3C381.6 755.8 381.7 760.9 385.4 764.7C389.1 768.5 394.8 771.1 401.3 775.3C407.8 779.4 420.4 787.0 424.3 789.4" fill="none" stroke="#66c8e6" stroke-width="0.97" stroke-opacity="0.34" stroke-linecap="round"/>
</g>
<g filter="url(#bs)"><path d="M498.4 819.4C496.3 819.5 489.9 819.8 485.8 820.0C481.7 820.2 476.0 820.4 474.0 820.5" fill="none" stroke="#5a9fd0" stroke-width="0.97" stroke-opacity="0.29" stroke-linecap="round"/>
<path d="M498.4 819.4C496.3 819.7 489.9 820.6 485.7 821.2C481.6 821.7 475.6 822.6 473.5 822.9" fill="none" stroke="#5a9fd0" stroke-width="0.97" stroke-opacity="0.30" stroke-linecap="round"/>
<path d="M498.4 819.4C496.2 818.0 489.6 813.7 485.4 810.9C481.2 808.2 475.1 804.4 473.0 803.0" fill="none" stroke="#5a9fd0" stroke-width="0.97" stroke-opacity="0.26" stroke-linecap="round"/>
<path d="M498.4 819.4C500.4 821.0 506.4 825.9 510.3 829.1C514.3 832.4 520.1 837.2 522.1 838.8" fill="none" stroke="#5a9fd0" stroke-width="0.97" stroke-opacity="0.21" stroke-linecap="round"/>
<path d="M498.4 819.4C501.3 819.3 509.9 819.2 515.7 819.1C521.4 818.9 530.0 818.8 532.8 818.7" fill="none" stroke="#5a9fd0" stroke-width="0.97" stroke-opacity="0.33" stroke-linecap="round"/>
<path d="M498.4 819.4C498.9 820.2 500.4 822.5 501.3 824.0C502.3 825.6 503.8 827.9 504.3 828.7" fill="none" stroke="#5a9fd0" stroke-width="0.97" stroke-opacity="0.21" stroke-linecap="round"/>
<path d="M498.4 819.4C499.3 820.5 501.9 824.1 503.6 826.2C505.3 828.4 507.7 831.5 508.5 832.5" fill="none" stroke="#5a9fd0" stroke-width="0.97" stroke-opacity="0.29" stroke-linecap="round"/>
<path d="M498.4 819.4C496.0 820.3 488.6 823.1 483.7 825.0C478.8 826.8 471.5 829.6 469.0 830.5" fill="none" stroke="#5a9fd0" stroke-width="0.97" stroke-opacity="0.33" stroke-linecap="round"/>
<path d="M498.4 819.4C496.2 819.5 489.4 819.6 484.9 819.8C480.4 819.9 473.7 820.1 471.4 820.1" fill="none" stroke="#5a9fd0" stroke-width="0.97" stroke-opacity="0.26" stroke-linecap="round"/>
<path d="M498.4 819.4C501.3 820.0 510.3 821.6 516.1 822.7C521.8 823.8 530.1 825.5 533.0 826.0" fill="none" stroke="#5a9fd0" stroke-width="0.97" stroke-opacity="0.34" stroke-linecap="round"/>
<path d="M498.4 819.4C498.0 820.7 496.9 824.7 496.1 827.3C495.3 829.9 494.2 833.7 493.8 835.0" fill="none" stroke="#5a9fd0" stroke-width="0.97" stroke-opacity="0.22" stroke-linecap="round"/>
<path d="M498.4 819.4C498.9 817.7 500.5 812.7 501.6 809.4C502.6 806.2 504.1 801.5 504.7 799.9" fill="none" stroke="#5a9fd0" stroke-width="0.97" stroke-opacity="0.28" stroke-linecap="round"/>
<path d="M498.4 819.4C500.7 818.0 507.9 813.5 512.4 810.7C516.8 807.9 522.9 803.9 525.1 802.6" fill="none" stroke="#5a9fd0" stroke-width="0.97" stroke-opacity="0.24" stroke-linecap="round"/>
<path d="M498.4 819.4C500.2 818.9 505.9 817.2 509.5 816.2C513.1 815.2 518.1 813.8 519.8 813.4" fill="none" stroke="#5a9fd0" stroke-width="0.97" stroke-opacity="0.28" stroke-linecap="round"/>
<path d="M498.4 819.4C500.2 820.7 505.6 824.6 509.2 827.2C512.7 829.7 517.8 833.5 519.6 834.7" fill="none" stroke="#5a9fd0" stroke-width="0.97" stroke-opacity="0.26" stroke-linecap="round"/>
<path d="M498.4 819.4C499.5 820.6 502.9 824.2 505.1 826.5C507.2 828.8 510.1 832.1 511.1 833.2" fill="none" stroke="#5a9fd0" stroke-width="0.97" stroke-opacity="0.35" stroke-linecap="round"/>
<path d="M498.4 819.4C499.6 820.1 503.5 822.2 505.9 823.6C508.3 824.9 511.8 826.8 513.0 827.4" fill="none" stroke="#5a9fd0" stroke-width="0.97" stroke-opacity="0.21" stroke-linecap="round"/>
<path d="M498.4 819.4C498.8 818.2 500.0 814.7 500.8 812.3C501.6 809.9 502.9 806.4 503.3 805.2" fill="none" stroke="#5a9fd0" stroke-width="0.97" stroke-opacity="0.29" stroke-linecap="round"/>
<path d="M498.4 819.4C499.8 821.4 503.9 827.6 506.6 831.6C509.3 835.6 513.1 841.2 514.5 843.2" fill="none" stroke="#5a9fd0" stroke-width="0.97" stroke-opacity="0.33" stroke-linecap="round"/>
<path d="M498.4 819.4C499.9 820.3 504.4 823.2 507.4 825.1C510.4 826.9 514.7 829.6 516.2 830.5" fill="none" stroke="#5a9fd0" stroke-width="0.97" stroke-opacity="0.26" stroke-linecap="round"/>
<path d="M498.4 819.4C500.8 818.6 508.2 816.4 513.0 814.9C517.9 813.4 525.1 811.1 527.5 810.4" fill="none" stroke="#5a9fd0" stroke-width="0.97" stroke-opacity="0.38" stroke-linecap="round"/>
<path d="M498.4 819.4C498.5 821.1 498.7 826.4 498.8 829.8C498.9 833.2 499.0 838.1 499.1 839.7" fill="none" stroke="#5a9fd0" stroke-width="0.97" stroke-opacity="0.33" stroke-linecap="round"/>
<path d="M498.4 819.4C501.1 820.7 509.1 824.7 514.3 827.3C519.6 829.9 527.2 833.6 529.8 834.9" fill="none" stroke="#5a9fd0" stroke-width="0.97" stroke-opacity="0.25" stroke-linecap="round"/>
<path d="M498.4 819.4C498.4 817.8 498.5 813.1 498.6 810.0C498.7 806.9 498.7 802.2 498.8 800.7" fill="none" stroke="#5a9fd0" stroke-width="0.97" stroke-opacity="0.22" stroke-linecap="round"/>
<path d="M498.4 819.4C500.3 820.2 506.2 822.8 510.0 824.5C513.8 826.1 519.4 828.6 521.3 829.4" fill="none" stroke="#5a9fd0" stroke-width="0.97" stroke-opacity="0.32" stroke-linecap="round"/>
<path d="M498.4 819.4C496.8 820.4 491.8 823.3 488.7 825.2C485.6 827.0 481.1 829.6 479.6 830.4" fill="none" stroke="#5a9fd0" stroke-width="0.97" stroke-opacity="0.30" stroke-linecap="round"/>
<path d="M498.4 819.4C495.8 818.6 487.9 816.4 482.7 814.9C477.6 813.4 470.1 811.3 467.6 810.6" fill="none" stroke="#5a9fd0" stroke-width="0.97" stroke-opacity="0.23" stroke-linecap="round"/>
<path d="M498.4 819.4C500.3 817.7 506.2 812.5 510.1 809.1C513.9 805.7 519.5 800.6 521.4 799.0" fill="none" stroke="#5a9fd0" stroke-width="0.97" stroke-opacity="0.24" stroke-linecap="round"/>
<path d="M498.4 819.4C497.7 816.6 495.6 808.2 494.2 802.7C492.8 797.3 490.8 789.3 490.1 786.6" fill="none" stroke="#5a9fd0" stroke-width="0.97" stroke-opacity="0.39" stroke-linecap="round"/>
<path d="M498.4 819.4C499.9 817.9 504.4 813.4 507.4 810.4C510.4 807.3 514.9 802.8 516.4 801.3" fill="none" stroke="#5a9fd0" stroke-width="0.97" stroke-opacity="0.22" stroke-linecap="round"/>
<path d="M498.4 819.4C501.3 819.7 510.0 820.4 515.7 820.9C521.4 821.4 529.8 822.1 532.7 822.4" fill="none" stroke="#5a9fd0" stroke-width="0.97" stroke-opacity="0.34" stroke-linecap="round"/>
<path d="M498.4 819.4C498.1 822.0 497.3 829.7 496.8 834.8C496.3 840.0 495.5 847.6 495.3 850.2" fill="none" stroke="#5a9fd0" stroke-width="0.97" stroke-opacity="0.26" stroke-linecap="round"/>
<path d="M498.4 819.4C500.0 821.2 504.9 826.9 508.1 830.4C511.2 833.9 515.7 838.9 517.3 840.6" fill="none" stroke="#5a9fd0" stroke-width="0.97" stroke-opacity="0.25" stroke-linecap="round"/>
<path d="M498.4 819.4C496.0 818.3 488.8 814.9 484.1 812.6C479.3 810.4 472.2 807.0 469.8 805.9" fill="none" stroke="#5a9fd0" stroke-width="0.97" stroke-opacity="0.26" stroke-linecap="round"/>
<path d="M600.8 672.9C601.7 671.9 604.5 669.1 606.2 667.3C607.9 665.5 610.3 663.0 611.1 662.1" fill="none" stroke="#5a9fd0" stroke-width="0.97" stroke-opacity="0.26" stroke-linecap="round"/>
<path d="M600.8 672.9C599.9 673.4 597.3 674.9 595.6 676.0C593.9 677.0 591.4 678.4 590.6 678.9" fill="none" stroke="#5a9fd0" stroke-width="0.97" stroke-opacity="0.28" stroke-linecap="round"/>
<path d="M600.8 672.9C599.7 672.5 596.6 671.3 594.5 670.4C592.5 669.6 589.4 668.4 588.3 668.0" fill="none" stroke="#5a9fd0" stroke-width="0.97" stroke-opacity="0.38" stroke-linecap="round"/>
<path d="M600.8 672.9C602.8 672.9 609.0 672.8 613.1 672.8C617.2 672.7 623.3 672.7 625.3 672.7" fill="none" stroke="#5a9fd0" stroke-width="0.97" stroke-opacity="0.32" stroke-linecap="round"/>
<path d="M600.8 672.9C601.6 673.4 604.1 675.2 605.7 676.2C607.2 677.3 609.4 678.7 610.2 679.2" fill="none" stroke="#5a9fd0" stroke-width="0.97" stroke-opacity="0.38" stroke-linecap="round"/>
<path d="M600.8 672.9C599.3 670.6 594.7 663.7 591.8 659.5C589.0 655.2 584.8 649.3 583.4 647.2" fill="none" stroke="#5a9fd0" stroke-width="0.97" stroke-opacity="0.33" stroke-linecap="round"/>
<path d="M600.8 672.9C598.7 673.4 592.2 674.8 588.0 675.7C583.8 676.7 577.5 678.1 575.4 678.6" fill="none" stroke="#5a9fd0" stroke-width="0.97" stroke-opacity="0.40" stroke-linecap="round"/>
<path d="M600.8 672.9C602.3 674.0 606.9 677.2 609.9 679.3C613.0 681.5 617.4 684.6 618.9 685.7" fill="none" stroke="#5a9fd0" stroke-width="0.97" stroke-opacity="0.38" stroke-linecap="round"/>
<path d="M600.8 672.9C601.0 670.7 601.6 664.2 602.0 660.0C602.4 655.8 603.0 649.6 603.2 647.5" fill="none" stroke="#5a9fd0" stroke-width="0.97" stroke-opacity="0.39" stroke-linecap="round"/>
<path d="M600.8 672.9C599.1 674.3 594.1 678.5 590.9 681.1C587.6 683.8 583.0 687.6 581.4 688.9" fill="none" stroke="#5a9fd0" stroke-width="0.97" stroke-opacity="0.38" stroke-linecap="round"/>
<path d="M600.8 672.9C598.6 673.6 591.8 675.7 587.4 677.1C583.1 678.4 576.8 680.4 574.7 681.0" fill="none" stroke="#5a9fd0" stroke-width="0.97" stroke-opacity="0.32" stroke-linecap="round"/>
<path d="M600.8 672.9C599.7 671.7 596.6 668.3 594.5 665.9C592.4 663.6 589.3 660.2 588.2 659.0" fill="none" stroke="#5a9fd0" stroke-width="0.97" stroke-opacity="0.32" stroke-linecap="round"/>
<path d="M600.8 672.9C602.3 674.4 606.8 679.0 609.6 681.8C612.4 684.7 616.3 688.8 617.6 690.2" fill="none" stroke="#5a9fd0" stroke-width="0.97" stroke-opacity="0.38" stroke-linecap="round"/>
<path d="M600.8 672.9C600.8 671.3 600.8 666.5 600.8 663.4C600.8 660.2 600.9 655.6 600.9 654.1" fill="none" stroke="#5a9fd0" stroke-width="0.97" stroke-opacity="0.32" stroke-linecap="round"/>
<path d="M600.8 672.9C598.8 674.3 592.7 678.6 588.9 681.3C585.0 684.1 579.6 688.1 577.8 689.4" fill="none" stroke="#5a9fd0" stroke-width="0.97" stroke-opacity="0.35" stroke-linecap="round"/>
<path d="M600.8 672.9C602.7 673.2 608.4 674.2 612.3 674.9C616.1 675.6 621.8 676.6 623.8 677.0" fill="none" stroke="#5a9fd0" stroke-width="0.97" stroke-opacity="0.25" stroke-linecap="round"/>
<path d="M679.3 658.8C679.0 657.3 677.8 652.8 677.0 649.8C676.2 646.8 675.1 642.4 674.7 640.9" fill="none" stroke="#5a9fd0" stroke-width="0.97" stroke-opacity="0.39" stroke-linecap="round"/>
<path d="M679.3 658.8C679.4 659.5 679.6 661.8 679.7 663.3C679.8 664.8 680.0 667.0 680.1 667.8" fill="none" stroke="#5a9fd0" stroke-width="0.97" stroke-opacity="0.34" stroke-linecap="round"/>
<path d="M679.3 658.8C679.4 659.8 679.6 663.0 679.7 665.0C679.8 667.0 680.0 669.9 680.0 670.9" fill="none" stroke="#5a9fd0" stroke-width="0.97" stroke-opacity="0.33" stroke-linecap="round"/>
<path d="M679.3 658.8C677.4 659.7 671.5 662.7 667.6 664.7C663.7 666.7 658.0 669.6 656.0 670.6" fill="none" stroke="#5a9fd0" stroke-width="0.97" stroke-opacity="0.34" stroke-linecap="round"/>
<path d="M679.3 658.8C679.6 660.2 680.2 664.6 680.6 667.4C681.0 670.2 681.5 674.4 681.7 675.8" fill="none" stroke="#5a9fd0" stroke-width="0.97" stroke-opacity="0.39" stroke-linecap="round"/>
<path d="M679.3 658.8C680.4 657.9 683.5 655.2 685.6 653.5C687.6 651.7 690.7 649.1 691.8 648.2" fill="none" stroke="#5a9fd0" stroke-width="0.97" stroke-opacity="0.26" stroke-linecap="round"/>
<path d="M679.3 658.8C680.1 660.1 682.5 664.3 684.0 667.0C685.5 669.6 687.7 673.5 688.4 674.8" fill="none" stroke="#5a9fd0" stroke-width="0.97" stroke-opacity="0.37" stroke-linecap="round"/>
<path d="M679.3 658.8C678.5 656.6 676.0 650.2 674.3 646.0C672.6 641.7 670.1 635.5 669.3 633.4" fill="none" stroke="#5a9fd0" stroke-width="0.97" stroke-opacity="0.24" stroke-linecap="round"/>
<path d="M679.3 658.8C678.3 659.3 675.1 661.0 673.0 662.1C670.9 663.2 667.8 664.8 666.8 665.3" fill="none" stroke="#5a9fd0" stroke-width="0.97" stroke-opacity="0.28" stroke-linecap="round"/>
<path d="M679.3 658.8C678.1 657.8 674.5 654.9 672.1 652.9C669.8 651.0 666.2 648.1 665.0 647.2" fill="none" stroke="#5a9fd0" stroke-width="0.97" stroke-opacity="0.37" stroke-linecap="round"/>
<path d="M679.3 658.8C680.8 658.2 685.1 656.6 687.8 655.5C690.6 654.5 694.5 652.9 695.8 652.4" fill="none" stroke="#5a9fd0" stroke-width="0.97" stroke-opacity="0.21" stroke-linecap="round"/>
<path d="M679.3 658.8C680.0 658.3 681.9 656.7 683.1 655.7C684.4 654.7 686.2 653.2 686.9 652.7" fill="none" stroke="#5a9fd0" stroke-width="0.97" stroke-opacity="0.32" stroke-linecap="round"/>
<path d="M679.3 658.8C679.2 660.8 678.5 667.3 678.2 671.3C677.9 675.3 677.5 680.9 677.4 682.9" fill="none" stroke="#5a9fd0" stroke-width="0.97" stroke-opacity="0.23" stroke-linecap="round"/>
<path d="M679.3 658.8C678.6 658.8 676.2 659.0 674.6 659.2C673.1 659.3 670.8 659.5 670.1 659.6" fill="none" stroke="#5a9fd0" stroke-width="0.97" stroke-opacity="0.25" stroke-linecap="round"/>
<path d="M379.2 621.7C379.6 622.2 380.7 623.9 381.5 624.9C382.3 626.0 383.4 627.6 383.7 628.2" fill="none" stroke="#5a9fd0" stroke-width="0.97" stroke-opacity="0.29" stroke-linecap="round"/>
<path d="M379.2 621.7C378.4 620.4 375.8 616.3 374.1 613.7C372.4 611.1 370.0 607.3 369.2 606.0" fill="none" stroke="#5a9fd0" stroke-width="0.97" stroke-opacity="0.39" stroke-linecap="round"/>
<path d="M379.2 621.7C378.9 620.9 377.8 618.5 377.1 616.9C376.3 615.3 375.2 612.9 374.9 612.1" fill="none" stroke="#5a9fd0" stroke-width="0.97" stroke-opacity="0.24" stroke-linecap="round"/>
<path d="M379.2 621.7C380.5 621.9 384.3 622.7 386.9 623.2C389.4 623.7 393.1 624.4 394.3 624.7" fill="none" stroke="#5a9fd0" stroke-width="0.97" stroke-opacity="0.24" stroke-linecap="round"/>
<path d="M379.2 621.7C379.0 622.8 378.1 626.0 377.5 628.1C377.0 630.2 376.1 633.4 375.9 634.4" fill="none" stroke="#5a9fd0" stroke-width="0.97" stroke-opacity="0.31" stroke-linecap="round"/>
<path d="M379.2 621.7C377.9 620.6 373.8 617.5 371.1 615.5C368.4 613.4 364.4 610.3 363.1 609.2" fill="none" stroke="#5a9fd0" stroke-width="0.97" stroke-opacity="0.36" stroke-linecap="round"/>
<path d="M379.2 621.7C379.9 621.4 382.1 620.7 383.4 620.2C384.8 619.8 386.7 619.1 387.4 618.9" fill="none" stroke="#5a9fd0" stroke-width="0.97" stroke-opacity="0.35" stroke-linecap="round"/>
<path d="M379.2 621.7C380.0 622.7 382.4 625.6 384.0 627.6C385.6 629.5 387.9 632.4 388.7 633.4" fill="none" stroke="#5a9fd0" stroke-width="0.97" stroke-opacity="0.38" stroke-linecap="round"/>
<path d="M379.2 621.7C378.0 622.4 374.2 624.8 371.8 626.3C369.3 627.8 365.8 629.9 364.6 630.6" fill="none" stroke="#5a9fd0" stroke-width="0.97" stroke-opacity="0.36" stroke-linecap="round"/>
<path d="M379.2 621.7C380.5 621.4 384.2 620.4 386.6 619.7C389.1 619.1 392.8 618.1 394.0 617.8" fill="none" stroke="#5a9fd0" stroke-width="0.97" stroke-opacity="0.24" stroke-linecap="round"/>
<path d="M658.2 535.2C658.0 533.5 657.5 528.5 657.2 525.2C656.9 521.8 656.5 516.9 656.3 515.2" fill="none" stroke="#5a9fd0" stroke-width="0.97" stroke-opacity="0.35" stroke-linecap="round"/>
<path d="M658.2 535.2C658.1 537.0 657.8 542.7 657.6 546.3C657.4 549.8 657.0 554.8 656.9 556.5" fill="none" stroke="#5a9fd0" stroke-width="0.97" stroke-opacity="0.40" stroke-linecap="round"/>
<path d="M658.2 535.2C656.5 535.0 651.6 534.4 648.4 534.0C645.1 533.5 640.3 532.9 638.7 532.7" fill="none" stroke="#5a9fd0" stroke-width="0.97" stroke-opacity="0.38" stroke-linecap="round"/>
<path d="M658.2 535.2C658.6 534.2 660.0 531.2 660.8 529.3C661.6 527.3 662.8 524.6 663.2 523.7" fill="none" stroke="#5a9fd0" stroke-width="0.97" stroke-opacity="0.29" stroke-linecap="round"/>
<path d="M658.2 535.2C656.6 534.7 652.0 533.2 649.0 532.3C645.9 531.3 641.3 529.8 639.8 529.3" fill="none" stroke="#5a9fd0" stroke-width="0.97" stroke-opacity="0.21" stroke-linecap="round"/>
<path d="M658.2 535.2C658.5 534.6 659.6 532.8 660.3 531.7C661.0 530.5 662.0 528.9 662.4 528.3" fill="none" stroke="#5a9fd0" stroke-width="0.97" stroke-opacity="0.24" stroke-linecap="round"/>
<path d="M658.2 535.2C657.6 536.8 656.0 541.6 655.0 544.7C654.0 547.8 652.5 552.3 652.0 553.8" fill="none" stroke="#5a9fd0" stroke-width="0.97" stroke-opacity="0.23" stroke-linecap="round"/>
<path d="M658.2 535.2C656.7 534.7 652.1 533.3 649.1 532.3C646.2 531.4 641.9 530.0 640.5 529.6" fill="none" stroke="#5a9fd0" stroke-width="0.97" stroke-opacity="0.34" stroke-linecap="round"/>
<path d="M658.2 535.2C659.4 535.1 663.4 534.8 665.8 534.6C668.3 534.4 671.8 534.2 673.0 534.1" fill="none" stroke="#5a9fd0" stroke-width="0.97" stroke-opacity="0.22" stroke-linecap="round"/>
<path d="M658.2 535.2C658.5 536.4 659.7 540.1 660.5 542.6C661.3 545.1 662.4 548.7 662.8 549.9" fill="none" stroke="#5a9fd0" stroke-width="0.97" stroke-opacity="0.35" stroke-linecap="round"/>
<path d="M459.6 553.7C459.0 552.6 457.2 549.4 456.1 547.2C454.9 545.1 453.3 542.0 452.7 541.0" fill="none" stroke="#5a9fd0" stroke-width="0.97" stroke-opacity="0.31" stroke-linecap="round"/>
<path d="M459.6 553.7C459.0 554.6 457.2 557.3 456.0 559.0C454.9 560.7 453.2 563.2 452.6 564.0" fill="none" stroke="#5a9fd0" stroke-width="0.97" stroke-opacity="0.38" stroke-linecap="round"/>
<path d="M459.6 553.7C459.5 555.4 459.5 560.4 459.4 563.6C459.4 566.8 459.2 571.3 459.2 572.8" fill="none" stroke="#5a9fd0" stroke-width="0.97" stroke-opacity="0.31" stroke-linecap="round"/>
<path d="M459.6 553.7C458.8 553.3 456.6 552.2 455.2 551.4C453.7 550.7 451.5 549.5 450.8 549.1" fill="none" stroke="#5a9fd0" stroke-width="0.97" stroke-opacity="0.30" stroke-linecap="round"/>
<path d="M459.6 553.7C459.2 553.2 458.0 551.6 457.3 550.6C456.5 549.6 455.5 548.2 455.2 547.7" fill="none" stroke="#5a9fd0" stroke-width="0.97" stroke-opacity="0.31" stroke-linecap="round"/>
<path d="M459.6 553.7C458.3 554.6 454.5 557.1 451.9 558.8C449.4 560.5 445.5 563.0 444.3 563.9" fill="none" stroke="#5a9fd0" stroke-width="0.97" stroke-opacity="0.30" stroke-linecap="round"/>
<path d="M459.6 553.7C459.3 553.1 458.7 551.2 458.2 550.0C457.7 548.7 457.1 546.8 456.8 546.2" fill="none" stroke="#5a9fd0" stroke-width="0.97" stroke-opacity="0.28" stroke-linecap="round"/>
<path d="M459.6 553.7C461.1 553.0 465.8 551.0 468.9 549.7C471.9 548.4 476.5 546.4 478.0 545.7" fill="none" stroke="#5a9fd0" stroke-width="0.97" stroke-opacity="0.30" stroke-linecap="round"/>
<path d="M410.1 747.0C410.8 748.0 412.6 750.8 413.8 752.6C415.1 754.4 416.8 757.1 417.4 758.0" fill="none" stroke="#5a9fd0" stroke-width="0.97" stroke-opacity="0.38" stroke-linecap="round"/>
<path d="M410.1 747.0C409.2 747.3 406.4 748.3 404.6 748.9C402.8 749.6 400.1 750.5 399.2 750.8" fill="none" stroke="#5a9fd0" stroke-width="0.97" stroke-opacity="0.33" stroke-linecap="round"/>
<path d="M410.1 747.0C410.8 746.8 413.0 746.1 414.4 745.7C415.8 745.2 417.9 744.6 418.6 744.4" fill="none" stroke="#5a9fd0" stroke-width="0.97" stroke-opacity="0.21" stroke-linecap="round"/>
<path d="M410.1 747.0C410.3 747.9 411.0 750.4 411.4 752.0C411.8 753.7 412.4 756.2 412.6 757.0" fill="none" stroke="#5a9fd0" stroke-width="0.97" stroke-opacity="0.27" stroke-linecap="round"/>
<path d="M410.1 747.0C409.6 748.3 407.8 752.0 406.8 754.4C405.7 756.8 404.1 760.3 403.6 761.4" fill="none" stroke="#5a9fd0" stroke-width="0.97" stroke-opacity="0.35" stroke-linecap="round"/>
<path d="M410.1 747.0C411.1 747.7 414.1 749.8 416.0 751.2C417.9 752.6 420.8 754.7 421.7 755.3" fill="none" stroke="#5a9fd0" stroke-width="0.97" stroke-opacity="0.24" stroke-linecap="round"/>
<path d="M410.1 747.0C409.0 746.9 405.7 746.5 403.5 746.3C401.4 746.0 398.1 745.6 397.0 745.5" fill="none" stroke="#5a9fd0" stroke-width="0.97" stroke-opacity="0.28" stroke-linecap="round"/>
<path d="M410.1 747.0C409.3 747.0 407.0 747.0 405.4 747.0C403.8 747.0 401.6 747.0 400.8 747.0" fill="none" stroke="#5a9fd0" stroke-width="0.97" stroke-opacity="0.33" stroke-linecap="round"/>
<path d="M562.8 665.8C562.2 664.7 560.5 661.4 559.3 659.3C558.2 657.1 556.5 654.0 556.0 653.0" fill="none" stroke="#5a9fd0" stroke-width="0.97" stroke-opacity="0.32" stroke-linecap="round"/>
<path d="M562.8 665.8C563.5 665.2 565.4 663.4 566.6 662.2C567.9 661.0 569.7 659.3 570.4 658.7" fill="none" stroke="#5a9fd0" stroke-width="0.97" stroke-opacity="0.36" stroke-linecap="round"/>
<path d="M562.8 665.8C563.6 665.2 565.7 663.3 567.2 662.0C568.6 660.7 570.8 658.8 571.5 658.2" fill="none" stroke="#5a9fd0" stroke-width="0.97" stroke-opacity="0.39" stroke-linecap="round"/>
<path d="M562.8 665.8C562.8 667.6 562.6 673.2 562.5 676.7C562.4 680.2 562.2 685.3 562.1 687.0" fill="none" stroke="#5a9fd0" stroke-width="0.97" stroke-opacity="0.23" stroke-linecap="round"/>
<path d="M562.8 665.8C563.1 667.2 564.1 671.6 564.7 674.4C565.3 677.2 566.2 681.4 566.5 682.8" fill="none" stroke="#5a9fd0" stroke-width="0.97" stroke-opacity="0.22" stroke-linecap="round"/>
<path d="M562.8 665.8C563.5 665.0 565.6 662.4 567.0 660.7C568.4 659.0 570.4 656.6 571.1 655.8" fill="none" stroke="#5a9fd0" stroke-width="0.97" stroke-opacity="0.23" stroke-linecap="round"/>
<path d="M562.8 665.8C561.9 666.9 559.1 670.4 557.4 672.6C555.6 674.8 553.3 677.9 552.4 678.9" fill="none" stroke="#5a9fd0" stroke-width="0.97" stroke-opacity="0.24" stroke-linecap="round"/>
<path d="M562.8 665.8C562.6 664.1 561.8 658.9 561.3 655.6C560.8 652.3 560.2 647.7 560.0 646.1" fill="none" stroke="#5a9fd0" stroke-width="0.97" stroke-opacity="0.22" stroke-linecap="round"/>
<path d="M380.1 752.3C378.9 752.3 375.2 752.1 372.8 752.0C370.4 752.0 366.7 751.8 365.5 751.8" fill="none" stroke="#5a9fd0" stroke-width="0.97" stroke-opacity="0.34" stroke-linecap="round"/>
<path d="M380.1 752.3C380.4 752.7 381.4 754.1 382.0 754.9C382.5 755.7 383.4 756.9 383.7 757.3" fill="none" stroke="#5a9fd0" stroke-width="0.97" stroke-opacity="0.21" stroke-linecap="round"/>
<path d="M380.1 752.3C379.2 752.0 376.5 750.9 374.7 750.2C372.9 749.5 370.1 748.5 369.2 748.1" fill="none" stroke="#5a9fd0" stroke-width="0.97" stroke-opacity="0.23" stroke-linecap="round"/>
<path d="M380.1 752.3C380.3 753.0 380.7 754.9 381.0 756.2C381.2 757.5 381.6 759.3 381.7 760.0" fill="none" stroke="#5a9fd0" stroke-width="0.97" stroke-opacity="0.40" stroke-linecap="round"/>
<path d="M380.1 752.3C380.5 752.0 381.8 750.8 382.6 750.1C383.5 749.4 384.6 748.4 385.0 748.0" fill="none" stroke="#5a9fd0" stroke-width="0.97" stroke-opacity="0.39" stroke-linecap="round"/>
<path d="M380.1 752.3C379.0 752.7 375.5 754.0 373.1 754.8C370.8 755.6 367.4 756.9 366.2 757.3" fill="none" stroke="#5a9fd0" stroke-width="0.97" stroke-opacity="0.30" stroke-linecap="round"/>
<path d="M380.1 752.3C379.2 752.2 376.6 751.8 374.9 751.5C373.1 751.2 370.5 750.8 369.6 750.7" fill="none" stroke="#5a9fd0" stroke-width="0.97" stroke-opacity="0.20" stroke-linecap="round"/>
<path d="M380.1 752.3C379.5 751.1 377.6 747.6 376.3 745.3C375.1 743.0 373.2 739.6 372.6 738.5" fill="none" stroke="#5a9fd0" stroke-width="0.97" stroke-opacity="0.29" stroke-linecap="round"/>
</g>
<g filter="url(#bm)"><ellipse cx="459.6" cy="553.7" rx="5.2" ry="5.2" fill="#7ae8f0" fill-opacity="1"/>
<ellipse cx="595.5" cy="559.0" rx="3.4" ry="6.5" fill="#7ad8f0" fill-opacity="0.9" transform="rotate(20 595.5 559.0)"/>
<ellipse cx="658.2" cy="535.2" rx="4.7" ry="4.7" fill="#7ad8f0" fill-opacity="0.8"/>
<ellipse cx="562.8" cy="665.8" rx="4.7" ry="4.3" fill="#8fd8f4" fill-opacity="0.9"/>
<ellipse cx="600.8" cy="672.9" rx="6.5" ry="5.6" fill="#9fe8f8" fill-opacity="1"/>
<ellipse cx="525.8" cy="694.9" rx="3.4" ry="4.3" fill="#7ae0e8" fill-opacity="0.9"/>
<ellipse cx="601.7" cy="690.5" rx="2.6" ry="3.0" fill="#7ae8e8" fill-opacity="0.9"/>
<ellipse cx="679.3" cy="658.8" rx="4.7" ry="4.7" fill="#9fe0f4" fill-opacity="0.9"/>
<ellipse cx="443.7" cy="713.0" rx="2.4" ry="2.4" fill="#eaffff" fill-opacity="1"/>
<ellipse cx="477.2" cy="743.0" rx="2.8" ry="2.8" fill="#7ae8e8" fill-opacity="1"/>
<ellipse cx="410.1" cy="747.0" rx="3.9" ry="5.2" fill="#7ad8f0" fill-opacity="0.9" transform="rotate(-20 410.1 747.0)"/>
<ellipse cx="379.2" cy="752.3" rx="3.9" ry="5.2" fill="#7ad8f0" fill-opacity="0.7"/>
<ellipse cx="562.0" cy="747.0" rx="2.6" ry="5.2" fill="#7ae0e8" fill-opacity="0.8" transform="rotate(-10 562.0 747.0)"/>
<ellipse cx="652.0" cy="755.0" rx="3.9" ry="3.4" fill="#9fe8f8" fill-opacity="0.95" transform="rotate(30 652.0 755.0)"/>
<ellipse cx="674.9" cy="725.8" rx="4.7" ry="3.4" fill="#6ad0d8" fill-opacity="0.6"/>
<ellipse cx="411.0" cy="791.2" rx="3.4" ry="3.0" fill="#7ae0e8" fill-opacity="0.8"/>
<ellipse cx="498.4" cy="819.4" rx="8.6" ry="8.6" fill="#a8ecfa" fill-opacity="1"/>
<ellipse cx="496.6" cy="810.6" rx="3.4" ry="3.4" fill="#7ae8f0" fill-opacity="1"/>
<ellipse cx="592.8" cy="805.3" rx="1.7" ry="3.0" fill="#7ae0e8" fill-opacity="0.7" transform="rotate(-10 592.8 805.3)"/>
<ellipse cx="611.4" cy="718.8" rx="3.0" ry="2.6" fill="#6ad0d8" fill-opacity="0.5"/>
<ellipse cx="606.1" cy="580.2" rx="2.2" ry="2.6" fill="#7ad8f0" fill-opacity="0.7"/>
<ellipse cx="671.4" cy="551.1" rx="1.7" ry="3.0" fill="#6ad0d8" fill-opacity="0.6"/>
<ellipse cx="560.2" cy="838.8" rx="3.4" ry="1.7" fill="#6ad0d8" fill-opacity="0.5"/>
<ellipse cx="689.1" cy="731.1" rx="2.2" ry="2.6" fill="#6ad0d8" fill-opacity="0.4"/>
<ellipse cx="627.3" cy="792.9" rx="1.7" ry="2.6" fill="#6ad0d8" fill-opacity="0.4" transform="rotate(20 627.3 792.9)"/>
</g>
<g filter="url(#bd)"><ellipse cx="523.1" cy="541.4" rx="2.4" ry="2.2" fill="#ee44f2" fill-opacity="0.95"/>
<ellipse cx="630.8" cy="534.3" rx="2.6" ry="2.4" fill="#ee44f2" fill-opacity="0.95"/>
<ellipse cx="655.5" cy="536.1" rx="2.8" ry="2.6" fill="#ee44f2" fill-opacity="0.95"/>
<ellipse cx="566.9" cy="556.4" rx="3.0" ry="2.8" fill="#ee44f2" fill-opacity="0.95"/>
<ellipse cx="596.9" cy="581.1" rx="3.2" ry="3.0" fill="#ee44f2" fill-opacity="0.95"/>
<ellipse cx="565.5" cy="589.9" rx="3.4" ry="3.2" fill="#ee44f2" fill-opacity="0.95"/>
<ellipse cx="377.5" cy="589.9" rx="2.4" ry="2.2" fill="#ee44f2" fill-opacity="0.95"/>
<ellipse cx="396.0" cy="608.4" rx="2.6" ry="2.4" fill="#ee44f2" fill-opacity="0.95"/>
<ellipse cx="443.7" cy="606.7" rx="2.8" ry="2.6" fill="#ee44f2" fill-opacity="0.95"/>
<ellipse cx="511.1" cy="611.1" rx="3.0" ry="2.8" fill="#ee44f2" fill-opacity="0.95"/>
<ellipse cx="593.7" cy="615.0" rx="3.2" ry="3.0" fill="#ee44f2" fill-opacity="0.95"/>
<ellipse cx="593.2" cy="621.3" rx="3.4" ry="3.2" fill="#ee44f2" fill-opacity="0.95"/>
<ellipse cx="619.9" cy="619.9" rx="2.4" ry="2.2" fill="#ee44f2" fill-opacity="0.95"/>
<ellipse cx="673.2" cy="609.3" rx="2.6" ry="2.4" fill="#ee44f2" fill-opacity="0.95"/>
<ellipse cx="411.0" cy="629.6" rx="2.8" ry="2.6" fill="#ee44f2" fill-opacity="0.95"/>
<ellipse cx="550.5" cy="634.0" rx="3.0" ry="2.8" fill="#ee44f2" fill-opacity="0.95"/>
<ellipse cx="574.0" cy="636.3" rx="3.2" ry="3.0" fill="#ee44f2" fill-opacity="0.95"/>
<ellipse cx="635.7" cy="636.3" rx="3.4" ry="3.2" fill="#ee44f2" fill-opacity="0.95"/>
<ellipse cx="452.5" cy="643.4" rx="2.4" ry="2.2" fill="#ee44f2" fill-opacity="0.95"/>
<ellipse cx="507.2" cy="642.0" rx="2.6" ry="2.4" fill="#ee44f2" fill-opacity="0.95"/>
<ellipse cx="507.2" cy="652.6" rx="2.8" ry="2.6" fill="#ee44f2" fill-opacity="0.95"/>
<ellipse cx="677.6" cy="645.5" rx="3.0" ry="2.8" fill="#ee44f2" fill-opacity="0.95"/>
<ellipse cx="679.3" cy="660.5" rx="3.2" ry="3.0" fill="#ee44f2" fill-opacity="0.95"/>
<ellipse cx="486.6" cy="665.8" rx="3.4" ry="3.2" fill="#ee44f2" fill-opacity="0.95"/>
<ellipse cx="562.8" cy="664.9" rx="2.4" ry="2.2" fill="#ee44f2" fill-opacity="0.95"/>
<ellipse cx="526.6" cy="687.9" rx="2.6" ry="2.4" fill="#ee44f2" fill-opacity="0.95"/>
<ellipse cx="444.6" cy="690.0" rx="2.8" ry="2.6" fill="#ee44f2" fill-opacity="0.95"/>
<ellipse cx="596.4" cy="692.3" rx="3.0" ry="2.8" fill="#ee44f2" fill-opacity="0.95"/>
<ellipse cx="652.3" cy="695.3" rx="3.2" ry="3.0" fill="#ee44f2" fill-opacity="0.95"/>
<ellipse cx="474.6" cy="702.9" rx="3.4" ry="3.2" fill="#ee44f2" fill-opacity="0.95"/>
<ellipse cx="486.4" cy="705.5" rx="2.4" ry="2.2" fill="#ee44f2" fill-opacity="0.95"/>
<ellipse cx="563.7" cy="708.2" rx="2.6" ry="2.4" fill="#ee44f2" fill-opacity="0.95"/>
<ellipse cx="398.7" cy="720.5" rx="2.8" ry="2.6" fill="#ee44f2" fill-opacity="0.95"/>
<ellipse cx="622.5" cy="732.4" rx="3.0" ry="2.8" fill="#ee44f2" fill-opacity="0.95"/>
<ellipse cx="447.2" cy="736.4" rx="3.2" ry="3.0" fill="#ee44f2" fill-opacity="0.95"/>
<ellipse cx="462.2" cy="732.0" rx="3.4" ry="3.2" fill="#ee44f2" fill-opacity="0.95"/>
<ellipse cx="374.8" cy="744.7" rx="2.4" ry="2.2" fill="#ee44f2" fill-opacity="0.95"/>
<ellipse cx="593.7" cy="748.3" rx="2.6" ry="2.4" fill="#ee44f2" fill-opacity="0.95"/>
<ellipse cx="485.7" cy="747.9" rx="2.8" ry="2.6" fill="#ee44f2" fill-opacity="0.95"/>
<ellipse cx="669.6" cy="747.0" rx="3.0" ry="2.8" fill="#ee44f2" fill-opacity="0.95"/>
<ellipse cx="417.2" cy="759.9" rx="3.2" ry="3.0" fill="#ee44f2" fill-opacity="0.95"/>
<ellipse cx="527.0" cy="762.9" rx="3.4" ry="3.2" fill="#ee44f2" fill-opacity="0.95"/>
<ellipse cx="570.8" cy="777.0" rx="2.4" ry="2.2" fill="#ee44f2" fill-opacity="0.95"/>
<ellipse cx="625.1" cy="781.4" rx="2.6" ry="2.4" fill="#ee44f2" fill-opacity="0.95"/>
<ellipse cx="630.8" cy="788.9" rx="2.8" ry="2.6" fill="#ee44f2" fill-opacity="0.95"/>
<ellipse cx="400.4" cy="788.0" rx="3.0" ry="2.8" fill="#ee44f2" fill-opacity="0.95"/>
<ellipse cx="475.8" cy="798.7" rx="3.2" ry="3.0" fill="#ee44f2" fill-opacity="0.95"/>
<ellipse cx="537.6" cy="798.7" rx="3.4" ry="3.2" fill="#ee44f2" fill-opacity="0.95"/>
<ellipse cx="673.5" cy="795.9" rx="2.4" ry="2.2" fill="#ee44f2" fill-opacity="0.95"/>
<ellipse cx="510.4" cy="819.4" rx="2.6" ry="2.4" fill="#ee44f2" fill-opacity="0.95"/>
<ellipse cx="640.5" cy="830.3" rx="2.8" ry="2.6" fill="#ee44f2" fill-opacity="0.95"/>
<ellipse cx="676.2" cy="826.5" rx="3.0" ry="2.8" fill="#ee44f2" fill-opacity="0.95"/>
<ellipse cx="466.6" cy="839.7" rx="3.2" ry="3.0" fill="#ee44f2" fill-opacity="0.95"/>
<ellipse cx="484.3" cy="835.3" rx="3.4" ry="3.2" fill="#ee44f2" fill-opacity="0.95"/>
</g>
</g>
<path d="M476.9 689.2L488.8 689.2M495.1 689.2L505.1 689.2M475.0 720.0L486.6 720.0M493.0 720.0L505.1 720.0M473.1 688.5L473.1 700.7M473.1 706.0L473.1 719.0M503.6 695.9L503.6 708.1M503.6 713.9L503.6 721.5" fill="none" stroke="#fff" stroke-width="2.9"/>
<g clip-path="url(#ci1)">
<rect x="698.90" y="110.90" width="158.90" height="158.40" fill="#020807"/>
<g filter="url(#bx)"><ellipse cx="747.0" cy="150.1" rx="21.2" ry="10.6" fill="#2d8f80" fill-opacity="0.3"/>
<ellipse cx="817.6" cy="123.7" rx="26.5" ry="10.6" fill="#2d8f80" fill-opacity="0.25"/>
<ellipse cx="738.1" cy="247.2" rx="35.3" ry="15.9" fill="#2d8f80" fill-opacity="0.3"/>
<ellipse cx="817.6" cy="250.8" rx="28.2" ry="14.1" fill="#2d8f80" fill-opacity="0.35"/>
<ellipse cx="792.9" cy="229.6" rx="14.1" ry="17.7" fill="#2d8f80" fill-opacity="0.4"/>
<ellipse cx="840.5" cy="159.0" rx="17.7" ry="14.1" fill="#2d8f80" fill-opacity="0.2"/>
<ellipse cx="711.7" cy="132.5" rx="14.1" ry="14.1" fill="#2d8f80" fill-opacity="0.15"/>
</g>
<g filter="url(#bl)"><path d="M754.9 159.0C757.6 154.1 763.0 155.0 768.1 154.5C773.3 154.1 779.9 156.9 785.8 156.3C791.7 155.7 797.6 153.5 803.4 151.0C809.3 148.5 814.9 143.7 821.1 141.3C827.3 138.9 834.2 137.5 840.5 136.4C846.8 135.2 856.0 133.0 859.1 134.2C862.1 135.5 862.4 141.5 859.1 144.0C855.7 146.5 845.7 146.6 838.8 149.3C831.8 151.9 822.9 156.3 817.6 159.8C812.3 163.4 809.3 165.3 807.0 170.4C804.6 175.6 804.6 185.0 803.4 190.7C802.3 196.5 800.7 199.4 799.9 204.9C799.1 210.3 800.1 221.0 798.5 223.4C796.9 225.7 792.9 220.9 790.2 219.0C787.5 217.1 785.9 212.8 782.3 211.9C778.6 211.0 771.7 215.4 768.1 213.7C764.6 211.9 763.7 206.3 761.1 201.3C758.4 196.3 753.3 190.7 752.3 183.7C751.2 176.6 752.3 163.8 754.9 159.0Z" fill="#62e2cc"/></g>
</g>
<text x="700.40" y="137.80" font-size="29.17" fill="#5ccbb9">GFP</text>
<g clip-path="url(#ci2)">
<rect x="698.90" y="274.10" width="158.90" height="158.10" fill="#060203"/>
<g filter="url(#bl)"><ellipse cx="782.3" cy="314.3" rx="12.4" ry="3.2" fill="#5a1f2c" fill-opacity="0.6" transform="rotate(-8 782.3 314.3)"/>
<ellipse cx="845.8" cy="305.5" rx="12.4" ry="2.8" fill="#5a1f2c" fill-opacity="0.5"/>
<ellipse cx="716.9" cy="333.7" rx="15.9" ry="5.3" fill="#3a1018" fill-opacity="0.5"/>
<ellipse cx="727.5" cy="365.5" rx="5.3" ry="10.6" fill="#2a1414" fill-opacity="0.5"/>
<ellipse cx="711.7" cy="392.0" rx="14.1" ry="5.3" fill="#2a1014" fill-opacity="0.5"/>
</g>
</g>
<text x="700.40" y="301.60" font-size="29.17" fill="#e23fe6">RFP</text>
<rect x="701.90" y="425.20" width="32.00" height="5.00" fill="#fff"/>
<g clip-path="url(#ci3)">
<rect x="698.90" y="518.90" width="158.90" height="158.40" fill="#020706"/>
<g filter="url(#bx)"><ellipse cx="708.1" cy="579.3" rx="12.4" ry="14.1" fill="#2f9c8c" fill-opacity="0.6"/>
<ellipse cx="704.6" cy="598.7" rx="10.6" ry="7.1" fill="#2f9c8c" fill-opacity="0.5"/>
<ellipse cx="792.9" cy="627.0" rx="22.9" ry="8.8" fill="#2f9c8c" fill-opacity="0.35"/>
<ellipse cx="747.0" cy="623.4" rx="17.7" ry="7.1" fill="#2f9c8c" fill-opacity="0.25"/>
<ellipse cx="799.9" cy="658.8" rx="17.7" ry="10.6" fill="#2f9c8c" fill-opacity="0.15"/>
<ellipse cx="838.8" cy="535.2" rx="14.1" ry="10.6" fill="#2f9c8c" fill-opacity="0.12"/>
<ellipse cx="729.3" cy="648.2" rx="21.2" ry="10.6" fill="#2f9c8c" fill-opacity="0.12"/>
</g>
<g filter="url(#bl)"><path d="M697.5 596.1C701.4 594.6 712.8 598.8 720.5 597.0C728.1 595.1 735.5 587.3 743.4 585.0C751.4 582.7 761.1 582.3 768.1 583.2C775.2 584.1 779.3 589.4 785.8 590.3C792.3 591.1 799.3 589.7 807.0 588.1C814.6 586.6 823.0 584.6 831.7 581.1C840.4 577.6 854.5 567.2 859.1 567.0C863.6 566.7 863.0 575.6 859.1 579.7C855.1 583.8 842.7 588.4 835.2 591.7C827.7 594.9 819.9 595.6 814.0 599.1C808.2 602.6 804.6 609.4 799.9 612.9C795.2 616.3 790.8 619.3 785.8 619.9C780.8 620.5 775.5 618.2 769.9 616.4C764.3 614.6 759.0 611.6 752.3 609.3C745.5 607.0 738.4 603.2 729.3 602.6C720.2 602.0 702.8 606.9 697.5 605.8C692.2 604.7 693.7 597.6 697.5 596.1Z" fill="#5fdccb"/></g>
<g filter="url(#bl)"><ellipse cx="789.3" cy="601.4" rx="10.6" ry="9.7" fill="#7ffff0" fill-opacity="0.9"/>
</g>
</g>
<text x="700.40" y="548.40" font-size="29.17" fill="#5ccbb9">GFP</text>
<g clip-path="url(#ci4)">
<rect x="698.90" y="683.10" width="160.20" height="159.30" fill="#050106"/>
<g filter="url(#bx)"><ellipse cx="799.9" cy="789.4" rx="35.3" ry="10.6" fill="#6a1a80" fill-opacity="0.4"/>
<ellipse cx="720.5" cy="725.8" rx="21.2" ry="10.6" fill="#5a1570" fill-opacity="0.3"/>
</g>
<g filter="url(#bl)"><path d="M697.5 728.5C699.9 720.7 707.5 727.2 711.7 729.4C715.8 731.6 719.9 737.3 722.2 741.7C724.6 746.1 723.1 752.3 725.8 755.8C728.4 759.4 734.0 762.6 738.1 762.9C742.3 763.2 745.5 758.9 750.5 757.6C755.5 756.3 762.3 754.8 768.1 755.0C774.0 755.1 779.3 757.8 785.8 758.5C792.3 759.2 799.9 760.0 807.0 759.4C814.0 758.8 821.7 757.0 828.2 755.0C834.6 752.9 840.5 749.4 845.8 747.0C851.1 744.7 857.6 740.7 859.9 740.8C862.3 741.0 862.3 745.4 859.9 747.9C857.6 750.4 851.1 753.1 845.8 755.8C840.5 758.6 834.0 761.1 828.2 764.7C822.3 768.2 816.4 773.4 810.5 777.0C804.6 780.7 798.4 784.8 792.9 786.7C787.3 788.7 782.0 789.2 777.0 788.5C772.0 787.8 767.6 784.8 762.8 782.3C758.1 779.8 754.3 775.0 748.7 773.5C743.1 772.0 735.5 773.2 729.3 773.5C723.1 773.8 716.9 774.8 711.7 775.3C706.4 775.7 699.9 783.9 697.5 776.1C695.2 768.4 695.2 736.3 697.5 728.5Z" fill="#f23cf6"/></g>
</g>
<text x="700.40" y="710.80" font-size="29.17" fill="#e23fe6">RFP</text>
</g>
<g id="p_cde">
<line x1="902.00" y1="14.80" x2="1398.30" y2="14.80" stroke="#111" stroke-width="1.6"/>
<line x1="1560.50" y1="14.80" x2="2004.50" y2="14.80" stroke="#111" stroke-width="1.6"/>
<text x="1477.70" y="25.10" font-size="29.17" text-anchor="middle" font-weight="bold">GCaMP6m</text>
<text x="902.80" y="56.30" font-size="48.60" font-weight="bold">c</text>
<line x1="1010.80" y1="78.05" x2="1010.80" y2="270.20" stroke="#262626" stroke-width="1.3"/>
<line x1="1003.40" y1="260.90" x2="1696.90" y2="260.90" stroke="#262626" stroke-width="1.3"/>
<line x1="1003.40" y1="78.70" x2="1010.80" y2="78.70" stroke="#262626" stroke-width="1.3"/>
<text x="1000.30" y="86.95" font-size="29.17" text-anchor="end">800</text>
<line x1="1003.40" y1="124.25" x2="1010.80" y2="124.25" stroke="#262626" stroke-width="1.3"/>
<text x="1000.30" y="134.85" font-size="29.17" text-anchor="end">600</text>
<line x1="1003.40" y1="169.80" x2="1010.80" y2="169.80" stroke="#262626" stroke-width="1.3"/>
<text x="1000.30" y="181.35" font-size="29.17" text-anchor="end">400</text>
<line x1="1003.40" y1="215.35" x2="1010.80" y2="215.35" stroke="#262626" stroke-width="1.3"/>
<text x="1000.30" y="227.35" font-size="29.17" text-anchor="end">200</text>
<text x="1000.30" y="272.05" font-size="29.17" text-anchor="end">0</text>
<line x1="1224.95" y1="260.90" x2="1224.95" y2="268.90" stroke="#262626" stroke-width="1.3"/>
<line x1="1439.10" y1="260.90" x2="1439.10" y2="268.90" stroke="#262626" stroke-width="1.3"/>
<line x1="1653.25" y1="260.90" x2="1653.25" y2="268.90" stroke="#262626" stroke-width="1.3"/>
<text transform="translate(935.90 234.40) rotate(-90)" font-size="29.17">ΔF/F<tspan font-size="18" dy="10">0</tspan><tspan dy="-10" dx="-1"> (%)</tspan></text>
<path d="M1010.4 128.8 1011.2 154.6 1011.9 175.3 1012.7 191.9 1013.4 205.1 1014.2 215.8 1014.9 224.3 1015.9 109.4 1016.4 119.3 1016.9 132.5 1017.3 146.1 1017.8 159.3 1018.3 171.5 1018.7 182.5 1019.2 192.3 1019.7 200.8 1020.2 208.2 1020.6 214.5 1021.1 219.8 1021.6 224.3 1022.0 228.0 1023.0 111.0 1023.5 120.9 1024.0 134.0 1024.4 147.6 1024.9 160.7 1025.4 172.9 1025.8 183.9 1026.3 193.6 1026.8 202.1 1027.3 209.5 1027.7 215.8 1028.2 221.1 1028.7 225.5 1029.1 229.2 1030.2 111.6 1030.7 122.4 1031.2 136.7 1031.7 151.6 1032.1 165.9 1032.6 179.2 1033.1 191.2 1033.9 110.2 1034.4 120.0 1034.8 133.2 1035.3 147.0 1035.7 160.3 1036.2 172.7 1036.7 184.0 1037.1 194.1 1037.6 203.0 1038.0 210.8 1038.5 217.4 1038.9 223.1 1040.0 109.4 1040.5 118.9 1041.0 131.6 1041.4 144.7 1041.9 157.5 1042.3 169.3 1042.8 180.1 1043.3 189.8 1043.7 198.3 1044.2 205.6 1044.6 211.9 1045.1 217.3 1045.6 221.8 1046.0 225.6 1046.5 228.7 1046.9 231.3 1047.4 233.5 1048.4 106.7 1048.8 116.7 1049.3 130.0 1049.8 143.8 1050.2 157.1 1050.7 169.5 1051.2 180.6 1051.6 190.6 1052.1 199.3 1052.6 206.8 1053.0 213.2 1053.5 218.6 1054.0 223.2 1054.5 227.0 1054.9 230.1 1055.4 232.7 1055.9 234.8 1056.3 236.5 1057.6 112.2 1058.0 122.4 1058.5 135.8 1059.0 149.7 1059.5 163.0 1059.9 175.3 1060.4 186.4 1060.9 196.3 1061.4 204.8 1061.9 212.1 1062.3 218.4 1062.8 223.6 1063.3 228.0 1064.2 110.8 1064.6 120.6 1065.1 133.7 1065.5 147.3 1066.0 160.4 1066.5 172.7 1066.9 183.8 1067.4 193.7 1067.9 202.4 1068.3 210.0 1068.8 216.4 1069.2 221.9 1069.7 226.5 1070.2 230.4 1071.4 110.2 1071.8 119.6 1072.3 132.2 1072.8 145.2 1073.2 157.9 1073.7 169.7 1074.1 180.5 1074.6 190.0 1075.1 198.5 1075.5 205.8 1076.0 212.0 1076.4 217.4 1076.9 221.9 1077.4 225.6 1077.8 228.8 1078.3 231.3 1078.7 233.5 1079.6 110.2 1080.1 120.0 1080.5 133.1 1081.0 146.6 1081.5 159.6 1082.0 171.7 1082.4 182.6 1082.9 192.3 1083.4 200.7 1083.9 208.0 1084.3 214.2 1084.8 219.4 1085.3 223.8 1085.7 227.4 1086.2 230.4 1086.7 232.9 1087.8 109.2 1088.3 119.7 1088.8 133.8 1089.2 148.2 1089.7 162.2 1090.2 175.0 1090.7 186.6 1091.1 196.9 1091.6 205.8 1092.1 213.5 1092.6 220.0 1093.1 225.5 1093.9 109.2 1094.4 119.0 1094.8 132.2 1095.3 145.9 1095.8 159.1 1096.2 171.3 1096.7 182.5 1097.2 192.4 1097.6 201.1 1098.1 208.7 1098.6 215.1 1099.0 220.6 1099.5 225.2 1099.9 229.1 1100.4 232.2 1101.1 108.9 1101.6 119.1 1102.1 132.5 1102.5 146.5 1103.0 160.0 1103.5 172.5 1103.9 183.9 1104.4 194.0 1104.9 202.8 1105.4 210.4 1105.8 216.9 1106.3 222.4 1107.4 109.4 1107.9 119.6 1108.3 133.0 1108.8 146.9 1109.3 160.3 1109.8 172.6 1110.3 183.7 1110.8 193.5 1111.2 202.0 1111.7 209.3 1112.2 215.5 1112.7 220.8 1113.2 225.1 1113.6 228.7 1114.1 231.6 1115.1 111.0 1115.6 120.7 1116.0 133.7 1116.5 147.2 1116.9 160.2 1117.4 172.4 1117.9 183.5 1118.3 193.3 1118.8 202.0 1119.2 209.5 1119.7 216.0 1120.2 221.5 1120.6 226.1 1121.2 109.2 1121.7 118.9 1122.1 131.9 1122.6 145.4 1123.1 158.5 1123.5 170.7 1124.0 181.8 1124.4 191.7 1124.9 200.4 1125.4 207.9 1125.8 214.4 1126.3 219.9 1126.7 224.5 1127.2 228.4 1127.7 231.7 1128.1 234.3 1128.6 236.5 1129.4 110.4 1129.9 120.7 1130.4 134.4 1130.9 148.5 1131.4 162.1 1131.8 174.7 1132.3 185.9 1132.8 195.9 1133.3 204.6 1133.8 212.0 1134.2 218.3 1134.7 223.6 1135.2 228.0 1135.7 231.7 1136.2 234.7 1137.3 108.9 1137.7 118.6 1138.2 131.5 1138.6 144.9 1139.1 158.0 1139.5 170.1 1140.0 181.2 1140.5 191.1 1140.9 199.8 1141.4 207.4 1141.8 213.9 1142.3 219.4 1142.7 224.1 1143.2 228.1 1143.6 231.3 1144.1 234.0 1144.6 236.3 1145.0 238.1 1145.5 239.6 1146.6 111.3 1147.1 122.3 1147.6 136.8 1148.0 151.8 1148.5 166.2 1149.0 179.4 1149.5 191.2 1150.0 201.7 1150.5 210.7 1151.0 218.4 1151.5 224.9 1152.1 111.9 1152.5 121.6 1153.0 134.5 1153.5 147.8 1154.0 160.7 1154.4 172.7 1154.9 183.6 1155.4 193.2 1155.8 201.6 1156.3 208.9 1156.8 215.1 1157.2 220.4 1157.7 224.8 1158.2 228.5 1158.6 231.5 1159.1 234.0 1159.6 236.1 1160.0 237.7 1160.5 239.1 1161.0 240.1 1161.5 241.0 1161.9 241.7 1162.4 242.2 1162.9 242.7 1163.8 109.2 1164.3 120.2 1164.8 134.7 1165.3 149.6 1165.8 164.0 1166.3 177.1 1166.8 189.0 1167.3 199.4 1167.8 208.4 1168.2 216.0 1168.7 222.5 1169.2 228.0 1170.2 110.2 1170.7 120.2 1171.1 133.7 1171.6 147.6 1172.1 161.1 1172.5 173.7 1173.0 185.1 1173.4 195.2 1173.9 204.1 1174.4 211.8 1174.8 218.4 1175.3 224.0 1175.8 228.7 1176.2 232.7 1176.7 235.9 1177.9 113.1 1178.4 124.7 1178.9 140.1 1179.4 155.8 1179.9 170.8 1180.4 184.5 1180.9 196.7 1181.4 207.3 1181.9 216.5 1182.4 224.3 1183.4 109.4 1183.9 123.4 1184.4 142.1 1184.8 161.4 1185.3 180.1 1185.8 197.4 1186.2 213.1 1186.7 227.1 1187.2 239.3 1187.6 249.9 1188.1 258.9 1188.6 266.5 1190.8 139.8 1191.1 148.5 1191.3 160.5 1191.6 173.8 1191.9 187.6 1192.4 183.9 1192.8 189.1 1193.3 196.0 1193.8 203.1 1194.3 210.0 1194.7 216.4 1195.2 222.2 1195.7 227.3 1196.1 231.8 1196.6 235.6 1197.1 238.9 1197.6 241.7 1198.0 244.0 1198.5 246.0 1199.0 247.6 1200.0 168.0 1200.4 177.0 1200.9 189.2 1201.3 201.8 1201.8 214.0 1202.3 225.4 1202.7 235.7 1203.2 244.9 1203.6 253.1 1204.9 171.4 1205.3 179.7 1205.8 190.8 1206.2 202.4 1206.7 213.5 1207.2 223.9 1207.6 233.4 1208.1 241.8 1208.6 249.1 1209.0 255.5 1210.0 165.3 1210.4 174.2 1210.7 186.4 1211.1 199.5 1211.5 212.7 1212.7 161.2 1213.2 172.1 1213.7 186.5 1214.2 201.3 1214.7 215.5 1215.1 228.6 1215.6 240.3 1216.1 250.6 1217.3 165.3 1217.8 173.4 1218.3 184.2 1218.8 195.4 1219.2 206.2 1219.7 216.2 1220.2 225.3 1220.7 233.3 1221.1 240.2 1221.6 246.2 1222.1 251.3 1222.6 255.6 1223.0 259.3 1223.5 262.2 1224.0 264.7 1224.5 266.7 1224.9 268.4 1226.2 161.2 1226.6 170.9 1227.1 183.9 1227.5 197.4 1228.0 210.5 1228.4 222.8 1228.9 233.9 1229.3 243.9 1230.4 162.7 1230.9 171.3 1231.4 182.7 1231.9 194.5 1232.4 205.8 1232.8 216.3 1233.3 225.7 1233.8 234.1 1234.3 241.3 1234.8 247.6 1235.2 252.9 1235.7 257.3 1236.3 161.2 1236.8 171.1 1237.3 184.1 1237.8 197.4 1238.3 210.1 1238.8 221.7 1239.3 232.1 1239.9 241.1 1240.4 248.9 1240.9 255.5 1241.8 160.4 1242.3 170.3 1242.8 183.4 1243.3 196.9 1243.9 209.7 1244.4 221.4 1244.9 231.9 1245.4 241.0 1245.9 248.9 1246.4 255.5 1247.1 160.4 1247.6 168.3 1248.0 178.9 1248.5 189.9 1249.0 200.5 1249.4 210.3 1249.9 219.3 1250.4 227.2 1250.9 234.1 1251.3 240.0 1251.8 245.1 1252.3 249.4 1252.7 253.1 1253.2 256.1 1253.7 258.5 1254.1 260.6 1254.6 262.3 1255.1 263.6 1255.6 264.7 1256.8 157.9 1257.3 166.2 1257.7 177.2 1258.2 188.6 1258.7 199.6 1259.2 209.8 1259.6 219.0 1260.1 227.1 1260.6 234.2 1261.1 240.3 1261.5 245.5 1262.0 249.9 1262.5 253.5 1263.0 256.5 1263.4 259.0 1263.9 261.1 1264.4 262.7 1264.9 264.1 1266.1 158.5 1266.5 167.4 1267.0 179.3 1267.5 191.6 1268.0 203.5 1268.4 214.6 1268.9 224.6 1269.4 233.5 1269.8 241.2 1270.3 248.0 1270.8 253.7 1271.2 258.6 1272.4 155.3 1272.9 165.2 1273.4 178.3 1273.9 191.8 1274.4 204.9 1274.8 216.9 1275.3 227.8 1275.8 237.4 1276.3 245.8 1276.7 253.1 1277.8 155.7 1278.3 164.1 1278.8 175.4 1279.2 187.1 1279.7 198.4 1280.1 208.9 1280.6 218.5 1281.1 227.0 1281.5 234.5 1282.0 241.0 1282.5 246.5 1282.9 251.3 1283.4 255.2 1283.8 258.6 1284.7 158.8 1285.2 171.1 1285.7 187.4 1286.2 204.0 1286.7 219.7 1287.2 234.1 1287.8 246.9 1289.0 163.3 1289.4 171.7 1289.9 182.8 1290.4 194.4 1290.8 205.6 1291.3 216.0 1291.8 225.4 1292.3 233.7 1292.7 241.1 1293.2 247.4 1293.7 252.8 1294.1 257.3 1295.1 157.2 1295.6 167.6 1296.1 181.4 1296.6 195.5 1297.1 209.1 1297.6 221.6 1298.0 232.8 1298.5 242.7 1299.0 251.2 1300.4 156.9 1300.8 166.9 1301.3 180.1 1301.7 193.9 1302.2 207.3 1302.7 219.7 1303.1 231.0 1303.6 241.1 1304.0 250.0 1304.9 156.9 1305.4 165.5 1305.8 177.0 1306.3 188.9 1306.7 200.4 1307.2 211.1 1307.7 220.9 1308.1 229.6 1308.6 237.3 1309.0 243.9 1309.5 249.6 1309.9 254.5 1310.4 258.6 1311.9 150.4 1312.3 161.0 1312.8 175.1 1313.2 189.7 1313.7 204.0 1314.2 217.3 1314.6 229.4 1315.1 240.2 1316.2 154.5 1316.7 163.7 1317.1 175.9 1317.6 188.4 1318.1 200.5 1318.6 211.5 1319.1 221.5 1319.6 230.2 1320.1 237.7 1320.6 244.2 1321.1 249.6 1321.6 254.2 1322.0 258.0 1323.0 154.2 1323.5 164.6 1324.0 178.2 1324.5 192.2 1325.0 205.5 1325.5 217.7 1326.0 228.5 1326.5 238.0 1327.0 246.1 1327.6 253.1 1328.8 156.3 1329.2 164.2 1329.7 174.7 1330.1 185.6 1330.6 196.2 1331.1 206.1 1331.5 215.1 1332.0 223.2 1332.4 230.2 1332.9 236.4 1333.3 241.7 1333.8 246.2 1334.2 250.0 1334.7 253.2 1335.2 255.9 1335.6 258.1 1336.1 259.9 1336.5 261.4 1337.0 262.6 1337.4 263.6 1337.9 264.4 1338.3 265.0 1338.8 265.5 1339.3 266.0 1339.7 266.3 1340.2 266.5 1341.4 149.0 1341.9 159.5 1342.3 173.4 1342.8 187.8 1343.3 201.7 1343.8 214.6 1344.2 226.2 1344.7 236.4 1345.2 245.4 1345.7 253.1 1346.8 155.3 1347.2 166.0 1347.7 180.3 1348.1 195.2 1348.6 209.6 1349.0 223.1 1349.5 235.4 1350.0 246.3 1351.1 156.1 1351.5 164.4 1352.0 175.6 1352.5 187.1 1353.0 198.1 1353.4 208.4 1353.9 217.7 1354.4 225.9 1354.8 233.1 1355.3 239.3 1355.8 244.5 1356.3 249.0 1356.7 252.7 1357.2 255.8 1357.7 258.3 1358.2 260.4 1359.6 153.3 1360.1 164.2 1360.6 178.5 1361.1 193.2 1361.7 207.3 1362.2 220.1 1362.7 231.5 1363.2 241.4 1363.7 250.0 1364.9 151.1 1365.4 161.1 1365.9 174.3 1366.4 187.9 1366.9 200.9 1367.3 213.0 1367.8 223.7 1368.3 233.2 1368.8 241.4 1369.3 248.4 1369.8 254.3 1370.8 156.1 1371.2 164.3 1371.7 175.3 1372.1 186.7 1372.6 197.8 1373.0 208.2 1373.5 217.6 1374.0 226.0 1374.4 233.5 1374.9 239.9 1375.3 245.5 1375.8 250.2 1376.2 254.2 1376.7 257.6 1377.1 260.4 1378.1 155.3 1378.6 163.8 1379.1 175.0 1379.5 186.6 1380.0 197.9 1380.4 208.3 1380.9 217.8 1381.4 226.3 1381.8 233.7 1382.3 240.1 1382.8 245.5 1383.2 250.2 1383.7 254.1 1384.2 257.3 1384.6 260.0 1385.1 262.2 1386.6 151.2 1387.0 159.7 1387.5 171.0 1388.0 182.7 1388.4 194.0 1388.9 204.6 1389.4 214.1 1389.9 222.5 1390.3 229.9 1390.8 236.3 1391.3 241.8 1391.7 246.4 1392.2 250.3 1392.7 253.5 1393.1 256.2 1393.6 258.4 1394.1 260.1 1394.5 261.6 1395.0 262.8 1395.5 263.7 1395.9 264.5 1396.4 265.1 1396.9 265.5 1397.3 265.9 1399.5 148.7 1400.0 157.9 1400.5 170.0 1401.0 182.6 1401.4 194.6 1401.9 205.7 1402.4 215.7 1402.9 224.5 1403.4 232.2 1403.8 238.8 1404.3 244.4 1404.8 249.1 1405.3 253.0 1405.8 256.2 1406.3 258.9 1406.7 261.0 1407.7 148.7 1408.2 157.6 1408.7 169.3 1409.1 181.4 1409.6 193.1 1410.1 203.9 1410.6 213.7 1411.0 222.4 1411.5 229.9 1412.0 236.4 1412.5 242.0 1412.9 246.6 1413.4 250.5 1413.9 253.8 1414.4 256.4 1414.8 258.6 1415.3 260.4 1417.1 147.4 1417.6 157.5 1418.1 171.0 1418.6 185.0 1419.0 198.5 1419.5 210.9 1420.0 222.2 1420.4 232.2 1421.4 146.5 1421.9 156.9 1422.4 170.7 1422.9 184.9 1423.3 198.7 1423.8 211.4 1424.3 222.8 1424.8 233.0 1425.2 241.8 1425.7 249.4 1426.9 148.7 1427.4 157.3 1427.8 168.8 1428.3 180.8 1428.8 192.4 1429.2 203.3 1429.7 213.2 1430.1 222.0 1430.6 229.8 1431.0 236.5 1431.5 242.3 1431.9 247.3 1432.4 251.5 1432.9 255.0 1433.3 258.0 1434.9 147.4 1435.4 156.5 1435.8 168.7 1436.3 181.3 1436.8 193.5 1437.3 204.8 1437.7 215.0 1438.2 224.1 1438.7 232.0 1439.1 238.8 1439.6 244.6 1440.1 249.6 1440.5 253.7 1441.0 257.1 1442.2 145.3 1442.7 154.9 1443.2 167.6 1443.7 180.8 1444.2 193.4 1444.6 205.1 1445.1 215.6 1445.6 224.9 1446.1 233.0 1446.6 239.9 1447.0 245.8 1447.5 250.8 1448.0 254.9 1449.3 146.2 1449.8 155.0 1450.3 166.8 1450.7 179.1 1451.2 190.9 1451.7 201.9 1452.1 211.9 1452.6 220.8 1453.1 228.5 1453.5 235.3 1454.0 241.0 1454.5 245.9 1454.9 250.0 1455.4 253.4 1455.9 256.2 1456.3 258.6 1458.2 144.3 1458.6 152.8 1459.1 164.0 1459.5 175.8 1460.0 187.1 1460.4 197.8 1460.9 207.5 1461.3 216.1 1461.8 223.8 1462.3 230.4 1462.7 236.1 1463.2 241.0 1463.6 245.1 1464.1 248.5 1464.5 251.4 1465.0 253.8 1465.4 255.7 1465.9 257.3 1466.3 258.7 1466.8 259.7 1467.3 260.6 1467.7 261.3 1469.2 140.2 1469.6 149.1 1470.1 161.0 1470.6 173.4 1471.0 185.4 1471.5 196.6 1471.9 206.8 1472.4 215.9 1472.9 223.9 1473.3 230.8 1473.8 236.8 1474.2 241.8 1474.7 246.1 1475.2 249.7 1475.6 252.6 1476.1 255.1 1476.5 257.1 1477.8 140.4 1478.2 150.6 1478.7 164.2 1479.1 178.4 1479.6 192.1 1480.1 204.8 1480.5 216.5 1481.0 226.8 1481.4 235.9 1482.0 144.1 1482.5 152.8 1483.0 164.3 1483.4 176.3 1483.9 187.9 1484.4 198.7 1484.8 208.5 1485.3 217.1 1485.8 224.7 1486.2 231.3 1486.7 236.9 1487.2 241.7 1487.6 245.7 1488.1 249.0 1488.6 251.8 1489.0 254.0 1489.5 255.9 1490.0 257.4 1490.4 258.6 1490.9 259.6 1491.4 260.4 1491.8 261.0 1493.1 143.2 1493.5 152.4 1494.0 164.6 1494.4 177.3 1494.9 189.7 1495.4 201.1 1495.8 211.6 1496.3 220.9 1496.7 229.1 1497.2 236.2 1497.7 242.3 1498.1 247.5 1498.6 251.8 1499.8 143.5 1500.3 152.1 1500.7 163.5 1501.2 175.4 1501.6 187.0 1502.1 197.8 1502.5 207.7 1503.0 216.5 1503.4 224.2 1503.9 230.9 1504.4 236.7 1504.8 241.6 1505.3 245.8 1505.7 249.3 1506.2 252.2 1506.6 254.6 1507.1 256.6 1507.5 258.2 1508.0 259.6 1509.3 143.2 1509.8 153.2 1510.3 166.4 1510.8 180.0 1511.3 193.1 1511.7 205.3 1512.2 216.3 1512.7 225.9 1513.2 234.4 1513.6 241.6 1514.1 247.8 1515.3 143.1 1515.8 152.2 1516.3 164.4 1516.7 177.0 1517.2 189.1 1517.7 200.4 1518.1 210.7 1518.6 219.8 1519.1 227.7 1519.5 234.6 1520.0 240.5 1520.5 245.5 1520.9 249.7 1521.4 253.2 1521.9 256.1 1522.3 258.5 1522.8 260.4 1524.3 142.5 1524.8 152.5 1525.2 165.8 1525.7 179.6 1526.2 192.8 1526.7 205.1 1527.2 216.1 1527.6 225.9 1528.1 234.4 1528.6 241.7 1529.1 247.8 1529.6 253.1 1530.8 144.9 1531.2 153.5 1531.7 164.9 1532.2 176.7 1532.6 188.2 1533.1 198.9 1533.6 208.5 1534.0 217.2 1534.5 224.7 1534.9 231.2 1535.4 236.9 1535.9 241.6 1536.3 245.6 1536.8 249.0 1537.3 251.7 1537.7 254.0 1538.2 255.9 1538.6 257.4 1539.1 258.6 1539.6 259.6 1540.0 260.4 1540.5 261.1 1541.0 261.6 1541.4 262.0 1543.0 140.2 1543.5 150.1 1543.9 163.4 1544.4 177.2 1544.9 190.6 1545.3 203.0 1545.8 214.3 1546.3 224.4 1546.7 233.2 1547.2 240.8 1548.4 143.5 1548.9 152.2 1549.3 163.9 1549.8 176.0 1550.2 187.8 1550.7 198.8 1551.2 208.7 1551.6 217.6 1552.1 225.5 1552.5 232.2 1553.0 238.1 1553.5 243.0 1553.9 247.2 1554.4 250.7 1554.8 253.6 1555.3 256.0 1555.8 258.0 1557.3 141.9 1557.8 151.3 1558.3 163.7 1558.8 176.5 1559.3 188.9 1559.8 200.3 1560.2 210.6 1560.7 219.6 1561.2 227.5 1561.7 234.3 1562.2 240.0 1562.6 244.8 1563.1 248.9 1563.6 252.2 1564.1 254.9 1565.3 140.8 1565.8 151.3 1566.3 165.1 1566.8 179.4 1567.3 193.1 1567.8 205.7 1568.2 217.0 1568.7 226.9 1569.2 235.5 1569.7 242.8 1570.2 249.0 1571.2 143.2 1571.7 152.4 1572.1 164.7 1572.6 177.4 1573.1 189.6 1573.5 200.9 1574.0 211.2 1574.5 220.2 1575.0 228.2 1575.4 235.0 1575.9 240.8 1576.4 245.8 1576.9 249.9 1577.3 253.3 1577.8 256.1 1578.7 140.0 1579.3 153.6 1579.8 171.4 1580.4 189.4 1580.9 206.3 1581.4 221.6 1582.4 144.4 1582.9 153.2 1583.4 164.9 1583.8 176.9 1584.3 188.6 1584.8 199.4 1585.2 209.1 1585.7 217.8 1586.2 225.4 1586.7 231.9 1587.1 237.4 1587.6 242.1 1588.1 246.1 1588.5 249.3 1589.0 252.0 1589.5 254.3 1590.0 256.1 1590.4 257.5 1590.9 258.7 1591.4 259.7 1591.8 260.4 1593.3 142.9 1593.8 151.9 1594.2 164.0 1594.7 176.6 1595.2 188.8 1595.6 200.1 1596.1 210.3 1596.6 219.5 1597.0 227.5 1597.5 234.4 1597.9 240.4 1598.4 245.4 1598.9 249.6 1599.3 253.2 1599.8 256.1 1601.4 142.0 1601.9 152.8 1602.4 167.2 1602.9 182.0 1603.3 196.1 1603.8 209.1 1604.3 220.8 1604.8 231.1 1605.3 240.0 1606.2 143.8 1606.6 153.6 1607.1 166.5 1607.6 179.8 1608.1 192.6 1608.6 204.5 1609.0 215.2 1609.5 224.6 1610.0 232.9 1610.5 239.9 1610.9 245.9 1611.4 251.0 1612.9 141.0 1613.4 152.3 1613.8 167.4 1614.3 182.9 1614.8 197.9 1615.3 211.8 1615.7 224.3 1616.2 235.4 1616.7 245.1 1618.2 139.6 1618.7 149.6 1619.1 162.9 1619.6 176.5 1620.1 189.6 1620.6 201.7 1621.1 212.5 1621.6 222.0 1622.1 230.2 1622.6 237.2 1623.1 243.1 1623.6 248.1 1624.0 252.2 1624.9 141.3 1625.4 151.6 1625.9 165.4 1626.3 179.6 1626.8 193.3 1627.3 205.9 1627.8 217.4 1628.2 227.5 1628.7 236.3 1629.2 243.9 1630.4 141.9 1630.9 153.7 1631.3 169.4 1631.8 185.7 1632.3 201.4 1632.8 216.0 1633.2 229.2 1634.3 140.7 1634.8 150.6 1635.3 163.9 1635.7 177.7 1636.2 191.1 1636.7 203.5 1637.1 214.7 1637.6 224.7 1638.0 233.5 1638.5 241.1 1639.0 247.6 1640.4 138.8 1640.9 148.9 1641.4 162.3 1641.9 176.1 1642.4 189.3 1642.9 201.5 1643.4 212.4 1643.9 221.9 1644.4 230.2 1644.9 237.3 1645.3 243.3 1645.8 248.3 1646.3 252.4 1647.6 137.6 1648.0 148.1 1648.5 162.1 1649.0 176.6 1649.5 190.5 1649.9 203.4 1650.4 215.1 1650.9 225.4 1651.4 234.3 1651.8 242.0 1653.1 138.8 1653.6 150.6 1654.1 166.1 1654.6 182.0 1655.1 197.1 1655.6 211.0 1656.1 223.3 1656.6 234.0 1657.1 243.3 1658.3 139.8 1658.8 151.7 1659.3 167.4 1659.8 183.6 1660.3 199.1 1660.8 213.3 1661.3 226.1 1662.5 138.8 1663.0 149.1 1663.4 162.7 1663.9 176.8 1664.4 190.4 1664.9 202.9 1665.4 214.2 1665.8 224.2 1666.3 232.9 1666.8 240.4 1667.3 246.7 1667.8 252.1 1669.3 137.1 1669.8 148.2 1670.4 162.9 1670.9 178.0 1671.4 192.3 1671.9 205.5 1672.4 217.2 1672.9 227.4 1673.4 236.2 1673.9 243.6 1674.9 138.3 1675.4 151.2 1675.9 168.1 1676.5 185.2 1677.0 201.2 1677.6 215.7 1678.4 138.6 1678.9 148.6 1679.4 161.8 1679.9 175.5 1680.4 188.5 1680.9 200.5 1681.3 211.3 1681.8 220.8 1682.3 229.0 1682.8 236.0 1683.3 241.9 1683.8 246.9 1684.3 251.0 1685.5 135.8 1686.0 144.0 1686.4 155.1 1686.9 166.6 1687.3 177.8" fill="none" stroke="#151515" stroke-width="1.42" stroke-linejoin="round" stroke-linecap="round"/>
<line x1="1195.10" y1="75.50" x2="1195.10" y2="260.90" stroke="#e02428" stroke-width="2.2" stroke-dasharray="7.8 2.2"/>
<line x1="1359.70" y1="75.50" x2="1359.70" y2="260.90" stroke="#e02428" stroke-width="2.2" stroke-dasharray="7.8 2.2"/>
<text x="1195.60" y="68.00" font-size="29.17" text-anchor="middle">HBSS</text>
<text x="1371.60" y="68.00" font-size="29.17" text-anchor="middle">L-LEN</text>
<line x1="1873.20" y1="76.15" x2="1873.20" y2="258.30" stroke="#262626" stroke-width="1.3"/>
<line x1="1867.20" y1="258.30" x2="1995.20" y2="258.30" stroke="#262626" stroke-width="1.3"/>
<line x1="1867.20" y1="76.80" x2="1873.20" y2="76.80" stroke="#262626" stroke-width="1.3"/>
<text transform="translate(1867.00 91.05) scale(0.96 1)" font-size="29.17" text-anchor="end">150</text>
<line x1="1867.20" y1="137.30" x2="1873.20" y2="137.30" stroke="#262626" stroke-width="1.3"/>
<text transform="translate(1867.00 149.65) scale(0.96 1)" font-size="29.17" text-anchor="end">100</text>
<line x1="1867.20" y1="197.80" x2="1873.20" y2="197.80" stroke="#262626" stroke-width="1.3"/>
<text transform="translate(1867.00 209.45) scale(0.96 1)" font-size="29.17" text-anchor="end">50</text>
<text transform="translate(1867.00 269.45) scale(0.96 1)" font-size="29.17" text-anchor="end">0</text>
<rect x="1890.90" y="162.30" width="33.90" height="96.00" fill="#7b86c4" stroke="#111" stroke-width="1.3"/>
<rect x="1942.80" y="182.50" width="34.00" height="75.80" fill="#b7708f" stroke="#111" stroke-width="1.3"/>
<line x1="1908.10" y1="156.30" x2="1908.10" y2="168.30" stroke="#111" stroke-width="1.3"/>
<line x1="1899.50" y1="156.30" x2="1916.70" y2="156.30" stroke="#111" stroke-width="1.3"/>
<line x1="1899.50" y1="168.30" x2="1916.70" y2="168.30" stroke="#111" stroke-width="1.3"/>
<line x1="1959.90" y1="175.30" x2="1959.90" y2="189.70" stroke="#111" stroke-width="1.3"/>
<line x1="1951.30" y1="175.30" x2="1968.50" y2="175.30" stroke="#111" stroke-width="1.3"/>
<line x1="1951.30" y1="189.70" x2="1968.50" y2="189.70" stroke="#111" stroke-width="1.3"/>
<circle cx="1895.40" cy="147.70" r="4.30" fill="none" stroke="#111" stroke-width="1.3"/>
<circle cx="1894.90" cy="157.50" r="4.30" fill="none" stroke="#111" stroke-width="1.3"/>
<circle cx="1920.80" cy="154.80" r="4.30" fill="none" stroke="#111" stroke-width="1.3"/>
<circle cx="1908.10" cy="169.80" r="4.30" fill="none" stroke="#111" stroke-width="1.3"/>
<circle cx="1908.10" cy="181.00" r="4.30" fill="none" stroke="#111" stroke-width="1.3"/>
<circle cx="1959.90" cy="155.10" r="4.30" fill="none" stroke="#111" stroke-width="1.3"/>
<circle cx="1955.90" cy="185.50" r="4.30" fill="none" stroke="#111" stroke-width="1.3"/>
<circle cx="1972.60" cy="186.70" r="4.30" fill="none" stroke="#111" stroke-width="1.3"/>
<circle cx="1947.20" cy="193.00" r="4.30" fill="none" stroke="#111" stroke-width="1.3"/>
<circle cx="1964.10" cy="193.00" r="4.30" fill="none" stroke="#111" stroke-width="1.3"/>
<path d="M1907.9 86.8 V76.8 H1960.2 V86.8" fill="none" stroke="#222" stroke-width="1.2"/>
<text x="1935.20" y="72.00" font-size="25.00" text-anchor="middle">n.s.</text>
<text transform="translate(1762.60 239.50) rotate(-90)" font-size="29.17">Relative Ca<tspan font-size="16" dy="-11">2+</tspan></text>
<text transform="translate(1804.50 246.20) rotate(-90)" font-size="29.17">transients (%)</text>
<line x1="899.50" y1="301.50" x2="1332.40" y2="301.50" stroke="#111" stroke-width="1.6"/>
<line x1="1632.10" y1="301.50" x2="2003.00" y2="301.50" stroke="#111" stroke-width="1.6"/>
<text x="1475.80" y="311.30" font-size="29.17" text-anchor="middle" font-weight="bold">GCaMP6m + GPR50</text>
<text x="902.80" y="345.40" font-size="48.60" font-weight="bold">d</text>
<line x1="1010.80" y1="364.45" x2="1010.80" y2="558.40" stroke="#262626" stroke-width="1.3"/>
<line x1="1003.40" y1="549.10" x2="1696.90" y2="549.10" stroke="#262626" stroke-width="1.3"/>
<line x1="1003.40" y1="365.10" x2="1010.80" y2="365.10" stroke="#262626" stroke-width="1.3"/>
<text x="1000.30" y="374.45" font-size="29.17" text-anchor="end">600</text>
<line x1="1003.40" y1="426.43" x2="1010.80" y2="426.43" stroke="#262626" stroke-width="1.3"/>
<text x="1000.30" y="435.95" font-size="29.17" text-anchor="end">400</text>
<line x1="1003.40" y1="487.77" x2="1010.80" y2="487.77" stroke="#262626" stroke-width="1.3"/>
<text x="1000.30" y="497.45" font-size="29.17" text-anchor="end">200</text>
<text x="1000.30" y="559.95" font-size="29.17" text-anchor="end">0</text>
<line x1="1224.95" y1="549.10" x2="1224.95" y2="557.10" stroke="#262626" stroke-width="1.3"/>
<line x1="1439.10" y1="549.10" x2="1439.10" y2="557.10" stroke="#262626" stroke-width="1.3"/>
<line x1="1653.25" y1="549.10" x2="1653.25" y2="557.10" stroke="#262626" stroke-width="1.3"/>
<text transform="translate(935.90 522.30) rotate(-90)" font-size="29.17">ΔF/F<tspan font-size="18" dy="10">0</tspan><tspan dy="-10" dx="-1"> (%)</tspan></text>
<path d="M1009.8 526.4 1010.3 528.7 1010.7 530.7 1011.2 532.4 1011.7 533.8 1012.1 535.1 1012.6 536.2 1014.1 391.1 1014.6 402.8 1015.0 418.3 1015.5 434.2 1016.0 449.5 1016.4 463.6 1016.9 476.2 1017.4 487.3 1017.9 497.0 1018.3 505.2 1018.8 512.2 1019.3 518.0 1019.8 522.8 1020.2 526.8 1020.7 530.1 1021.2 532.7 1021.7 534.9 1022.1 536.6 1022.6 538.0 1023.1 539.1 1023.5 539.9 1024.0 540.6 1024.5 541.1 1026.1 380.3 1026.5 392.7 1027.0 409.1 1027.5 426.1 1027.9 442.4 1028.4 457.6 1028.8 471.2 1029.3 483.3 1029.8 493.9 1030.2 503.0 1030.7 510.7 1031.2 517.2 1031.6 522.7 1032.1 527.2 1032.5 530.9 1033.0 533.9 1033.5 536.4 1033.9 538.4 1035.5 389.7 1036.0 401.6 1036.4 417.5 1036.9 433.9 1037.4 449.7 1037.8 464.3 1038.3 477.5 1038.8 489.2 1039.2 499.3 1039.7 508.0 1040.1 515.4 1040.6 521.7 1041.1 526.9 1041.5 531.2 1042.0 534.8 1043.5 405.4 1044.0 416.6 1044.4 431.4 1044.9 446.5 1045.4 461.0 1045.9 474.2 1046.4 486.1 1046.8 496.5 1047.3 505.5 1047.8 513.1 1048.3 519.5 1048.8 524.9 1049.3 529.3 1049.7 532.9 1050.2 535.9 1050.7 538.2 1051.2 540.1 1052.9 389.5 1053.4 401.5 1053.8 417.4 1054.3 433.7 1054.8 449.4 1055.3 463.9 1055.7 476.9 1056.2 488.4 1056.7 498.3 1057.1 506.9 1057.6 514.1 1058.1 520.1 1058.5 525.2 1059.0 529.3 1059.5 532.7 1060.0 535.5 1060.4 537.7 1060.9 539.5 1061.4 541.0 1061.8 542.1 1063.3 384.4 1063.8 396.8 1064.2 413.3 1064.7 430.3 1065.2 446.6 1065.7 461.7 1066.1 475.2 1066.6 487.1 1067.1 497.5 1067.5 506.3 1068.0 513.8 1068.5 520.1 1069.0 525.4 1069.4 529.7 1069.9 533.2 1070.4 536.1 1070.8 538.4 1071.3 540.3 1071.8 541.8 1072.2 543.0 1073.6 386.0 1074.1 398.9 1074.6 415.9 1075.0 433.4 1075.5 450.1 1076.0 465.5 1076.5 479.2 1077.0 491.2 1077.4 501.6 1077.9 510.4 1078.4 517.9 1078.9 524.1 1079.4 529.2 1079.9 533.4 1080.3 536.8 1080.8 539.5 1082.7 394.8 1083.1 406.7 1083.6 422.5 1084.1 438.8 1084.6 454.3 1085.0 468.7 1085.5 481.5 1086.0 492.9 1086.4 502.7 1086.9 511.0 1087.4 518.1 1087.9 524.0 1088.3 528.9 1088.8 533.0 1089.3 536.3 1089.8 539.0 1090.2 541.1 1091.8 398.5 1092.3 409.8 1092.8 424.9 1093.2 440.4 1093.7 455.3 1094.2 469.1 1094.7 481.4 1095.1 492.3 1095.6 501.8 1096.1 509.9 1096.5 516.8 1097.0 522.6 1097.5 527.4 1097.9 531.3 1098.4 534.6 1098.9 537.2 1099.3 539.4 1099.8 541.1 1100.3 542.5 1100.8 543.6 1101.2 544.4 1101.7 545.1 1102.2 545.6 1102.6 546.1 1103.1 546.4 1104.8 384.4 1105.3 397.0 1105.8 413.6 1106.2 430.8 1106.7 447.3 1107.2 462.5 1107.6 476.1 1108.1 488.1 1108.6 498.5 1109.1 507.4 1109.5 515.0 1110.0 521.3 1110.5 526.5 1111.0 530.9 1111.4 534.4 1111.9 537.3 1112.4 539.6 1112.8 541.4 1113.3 542.9 1113.8 544.1 1114.3 545.0 1114.7 545.8 1116.3 389.3 1116.8 402.1 1117.3 419.1 1117.8 436.5 1118.3 453.2 1118.7 468.5 1119.2 482.2 1119.7 494.2 1120.2 504.5 1120.7 513.3 1121.1 520.8 1121.6 526.9 1122.1 532.1 1122.6 536.2 1123.1 539.7 1124.5 396.9 1125.0 408.2 1125.5 423.3 1125.9 438.9 1126.4 453.9 1126.8 467.8 1127.3 480.3 1127.8 491.4 1128.2 501.1 1128.7 509.4 1129.2 516.5 1129.6 522.4 1130.1 527.4 1130.5 531.5 1131.0 534.9 1131.5 537.7 1131.9 539.9 1132.4 541.7 1132.9 543.2 1134.7 391.1 1135.2 403.8 1135.6 420.7 1136.1 438.0 1136.6 454.6 1137.0 470.0 1137.5 483.8 1138.0 495.9 1138.5 506.5 1138.9 515.5 1139.4 523.2 1139.9 529.6 1140.3 534.9 1140.8 539.3 1142.4 405.0 1142.9 415.9 1143.3 430.3 1143.8 445.3 1144.3 459.7 1144.7 473.0 1145.2 485.0 1145.7 495.6 1146.1 504.8 1146.6 512.7 1147.0 519.5 1147.5 525.1 1148.0 529.9 1148.4 533.8 1148.9 537.0 1149.4 539.7 1149.8 541.8 1150.3 543.5 1150.8 544.9 1151.2 546.0 1152.6 402.5 1153.0 413.4 1153.5 428.0 1153.9 443.0 1154.4 457.5 1154.9 470.9 1155.3 483.1 1155.8 493.9 1156.2 503.3 1156.7 511.4 1157.1 518.3 1157.6 524.2 1158.1 529.1 1158.5 533.2 1159.0 536.5 1159.4 539.3 1159.9 541.5 1160.4 543.3 1160.8 544.8 1161.3 546.0 1161.7 546.9 1162.2 547.7 1162.6 548.2 1163.1 548.7 1165.1 393.6 1165.5 405.3 1166.0 420.9 1166.5 437.0 1166.9 452.4 1167.4 466.8 1167.8 479.7 1168.3 491.1 1168.8 501.0 1169.2 509.6 1169.7 516.8 1170.2 522.9 1170.6 528.0 1171.1 532.3 1171.6 535.7 1172.0 538.6 1172.5 540.9 1172.9 542.7 1173.4 544.2 1173.9 545.4 1175.3 407.3 1175.8 418.0 1176.3 432.2 1176.8 446.8 1177.2 460.8 1177.7 473.8 1178.2 485.5 1178.6 495.8 1179.1 504.7 1179.6 512.4 1180.0 518.9 1180.5 524.4 1181.0 528.9 1181.4 532.7 1181.9 535.7 1182.4 538.2 1182.8 540.3 1183.3 541.9 1183.8 543.2 1184.2 544.2 1184.7 545.1 1185.2 545.7 1185.7 546.2 1186.1 546.6 1188.1 399.1 1188.6 412.7 1189.0 430.9 1189.5 449.5 1190.0 467.3 1190.5 483.8 1190.9 498.5 1191.4 511.5 1191.9 522.8 1193.1 499.5 1193.6 503.6 1194.1 509.1 1194.5 514.8 1195.0 520.2 1195.5 525.1 1196.0 529.6 1196.5 533.5 1196.9 536.9 1197.4 539.7 1197.9 542.2 1198.4 544.2 1200.1 409.7 1200.6 420.7 1201.0 435.3 1201.5 450.2 1202.0 464.5 1202.5 477.6 1203.0 489.3 1203.5 499.5 1203.9 508.4 1204.4 515.9 1204.9 522.3 1205.4 527.5 1205.9 531.9 1206.3 535.5 1206.8 538.4 1207.3 540.7 1207.8 542.6 1209.8 430.1 1210.2 439.1 1210.7 451.2 1211.1 463.7 1211.6 475.8 1212.1 487.0 1212.5 497.1 1213.0 506.0 1213.4 513.8 1213.9 520.5 1214.3 526.3 1214.8 531.1 1215.3 535.2 1215.7 538.5 1216.2 541.3 1216.6 543.6 1217.1 545.4 1218.3 404.2 1218.8 415.3 1219.2 430.0 1219.7 445.2 1220.1 459.9 1220.6 473.5 1221.1 485.9 1221.5 496.9 1222.0 506.5 1222.4 514.8 1222.9 521.8 1223.3 527.8 1223.8 532.9 1224.2 537.0 1224.7 540.5 1225.9 407.4 1226.3 418.2 1226.8 432.5 1227.3 447.3 1227.7 461.6 1228.2 474.9 1228.6 486.8 1229.1 497.5 1229.6 506.7 1230.0 514.7 1230.5 521.5 1230.9 527.2 1231.4 532.0 1231.8 536.0 1232.3 539.3 1232.8 542.0 1233.2 544.2 1234.7 401.2 1235.2 412.2 1235.6 426.8 1236.1 441.9 1236.5 456.5 1237.0 470.0 1237.4 482.2 1237.9 493.1 1238.4 502.5 1238.8 510.7 1239.3 517.6 1239.7 523.4 1240.2 528.3 1240.7 532.4 1241.1 535.8 1241.6 538.5 1242.0 540.8 1242.5 542.6 1243.0 544.0 1243.4 545.2 1243.9 546.1 1244.3 546.9 1244.8 547.5 1245.3 547.9 1245.7 548.3 1246.2 548.6 1246.6 548.8 1247.1 548.9 1247.6 549.1 1249.0 393.8 1249.5 405.8 1250.0 421.7 1250.4 438.0 1250.9 453.8 1251.4 468.3 1251.8 481.4 1252.3 492.9 1252.8 502.9 1253.2 511.5 1253.7 518.8 1254.2 524.9 1254.6 530.0 1255.1 534.2 1255.6 537.6 1256.0 540.4 1256.5 542.7 1257.0 544.6 1258.8 393.6 1259.3 405.4 1259.7 421.0 1260.2 437.2 1260.7 452.8 1261.1 467.1 1261.6 480.1 1262.1 491.5 1262.5 501.5 1263.0 510.0 1263.5 517.2 1263.9 523.3 1264.4 528.4 1264.9 532.6 1265.3 536.1 1265.8 538.9 1266.3 541.1 1266.7 543.0 1267.2 544.5 1267.7 545.6 1268.1 546.6 1268.6 547.3 1269.1 547.9 1269.5 548.3 1270.0 548.7 1270.5 549.0 1270.9 549.2 1271.4 549.3 1271.9 549.5 1272.3 549.6 1272.8 549.6 1273.3 549.7 1276.6 390.1 1277.0 402.2 1277.5 418.3 1278.0 434.9 1278.4 450.9 1278.9 465.7 1279.3 479.1 1279.8 490.9 1280.3 501.2 1280.7 510.0 1281.2 517.5 1281.7 523.9 1282.1 529.2 1282.6 533.6 1283.0 537.2 1283.5 540.1 1284.0 542.5 1284.4 544.5 1284.9 546.0 1286.1 398.1 1286.6 409.7 1287.1 425.0 1287.5 440.8 1288.0 455.9 1288.5 469.8 1289.0 482.3 1289.4 493.4 1289.9 502.9 1290.4 511.1 1290.9 518.0 1291.3 523.7 1291.8 528.5 1292.3 532.5 1292.7 535.7 1293.2 538.3 1293.7 540.5 1294.2 542.2 1294.6 543.5 1295.1 544.6 1295.6 545.4 1296.1 546.1 1296.5 546.6 1298.6 393.9 1299.1 405.7 1299.5 421.3 1300.0 437.4 1300.5 453.0 1300.9 467.4 1301.4 480.3 1301.9 491.8 1302.3 501.8 1302.8 510.4 1303.2 517.7 1303.7 523.9 1304.2 529.0 1304.6 533.3 1305.1 536.8 1305.6 539.7 1306.0 542.0 1306.5 543.9 1306.9 545.4 1308.5 393.6 1309.0 405.1 1309.5 420.3 1309.9 436.1 1310.4 451.3 1310.8 465.4 1311.3 478.1 1311.8 489.4 1312.2 499.3 1312.7 507.7 1313.1 514.9 1313.6 521.0 1314.1 526.1 1314.5 530.3 1315.0 533.8 1315.4 536.6 1315.9 538.9 1316.4 540.8 1316.8 542.3 1317.3 543.5 1317.7 544.5 1318.2 545.3 1318.7 545.9 1319.1 546.3 1319.6 546.7 1320.0 547.0 1321.6 410.5 1322.1 420.9 1322.6 434.8 1323.0 449.1 1323.5 462.9 1324.0 475.6 1324.4 487.1 1324.9 497.3 1325.3 506.1 1325.8 513.7 1326.3 520.2 1326.7 525.6 1327.2 530.1 1327.7 533.9 1328.1 536.9 1328.6 539.5 1329.1 541.5 1329.5 543.2 1330.0 544.5 1330.5 545.5 1330.9 546.4 1331.4 547.0 1331.9 547.6 1332.3 548.0 1332.8 548.3 1333.2 548.5 1333.7 548.7 1334.2 548.9 1334.6 549.0 1335.1 549.1 1337.3 394.6 1337.8 406.0 1338.2 421.3 1338.7 437.1 1339.1 452.4 1339.6 466.5 1340.1 479.2 1340.5 490.5 1341.0 500.4 1341.4 508.8 1341.9 516.1 1342.4 522.1 1342.8 527.2 1343.3 531.5 1343.7 535.0 1344.2 537.8 1344.7 540.1 1345.1 542.0 1345.6 543.5 1346.0 544.7 1346.5 545.7 1347.0 546.5 1347.4 547.1 1347.9 547.6 1348.3 547.9 1348.8 548.2 1349.3 548.4 1349.7 548.6 1350.2 548.8 1350.6 548.9 1351.1 548.9 1351.6 549.0 1352.0 549.0 1352.5 549.1 1354.3 393.3 1354.8 405.0 1355.2 420.5 1355.7 436.6 1356.2 452.1 1356.6 466.4 1357.1 479.4 1357.5 491.0 1358.0 501.0 1358.4 509.7 1358.9 517.1 1359.4 523.3 1359.8 528.6 1360.3 532.9 1360.7 536.5 1361.2 539.5 1361.7 541.9 1362.1 543.8 1362.6 545.4 1363.0 546.6 1363.5 547.6 1363.9 548.4 1364.4 549.1 1364.9 549.6 1365.3 550.0 1365.8 550.3 1366.2 550.5 1366.7 550.7 1367.1 550.8 1367.6 550.9 1368.1 551.0 1368.5 551.1 1369.0 551.1 1369.4 551.2 1369.9 551.2 1370.3 551.2 1370.8 551.2 1371.3 551.2 1371.7 551.3 1372.2 551.3 1372.6 551.3 1373.1 551.3 1373.6 551.3 1374.0 551.3 1374.5 551.3 1374.9 551.3 1375.4 551.3 1375.8 551.3 1376.3 551.3 1376.8 551.3 1377.2 551.3 1377.7 551.3 1378.1 551.3 1378.6 551.3 1379.0 551.3 1379.5 551.3 1380.0 551.3 1380.4 551.3 1380.9 551.3 1381.3 551.3 1381.8 551.3 1382.2 551.3 1382.7 551.3 1383.2 551.3 1383.6 551.3 1384.1 551.3 1386.8 395.4 1387.2 406.8 1387.7 421.9 1388.1 437.5 1388.6 452.6 1389.1 466.7 1389.5 479.4 1390.0 490.6 1390.4 500.5 1390.9 508.9 1391.3 516.2 1391.8 522.3 1392.3 527.4 1392.7 531.7 1393.2 535.2 1393.6 538.1 1394.1 540.5 1394.5 542.4 1395.0 544.0 1395.4 545.2 1395.9 546.2 1396.4 547.0 1396.8 547.6 1397.3 548.1 1397.7 548.5 1398.2 548.8 1398.6 549.0 1399.1 549.2 1399.6 549.3 1400.0 549.5 1400.5 549.5 1400.9 549.6 1401.4 549.7 1401.8 549.7 1403.7 411.3 1404.1 421.6 1404.6 435.3 1405.1 449.5 1405.5 463.2 1406.0 475.9 1406.4 487.3 1406.9 497.5 1407.3 506.3 1407.8 513.9 1408.3 520.4 1408.7 525.9 1409.2 530.5 1409.6 534.3 1410.1 537.5 1410.6 540.0 1411.0 542.1 1411.5 543.8 1411.9 545.2 1412.4 546.3 1412.9 547.2 1413.3 547.9 1413.8 548.4 1414.2 548.9 1414.7 549.2 1415.2 549.5 1415.6 549.7 1416.1 549.8 1416.5 549.9 1417.0 550.0 1417.4 550.1 1417.9 550.2 1418.4 550.2 1418.8 550.2 1419.3 550.3 1419.7 550.3 1420.2 550.3 1422.0 430.6 1422.5 439.5 1423.0 451.4 1423.4 463.6 1423.9 475.4 1424.4 486.3 1424.8 496.2 1425.3 504.9 1425.7 512.5 1426.2 519.0 1426.7 524.5 1427.1 529.2 1427.6 533.1 1428.1 536.3 1428.5 539.0 1429.0 541.2 1429.5 542.9 1429.9 544.3 1430.4 545.5 1430.8 546.4 1431.3 547.1 1431.8 547.7 1432.2 548.2 1432.7 548.5 1433.2 548.8 1433.6 549.0 1434.1 549.2 1434.5 549.3 1435.0 549.4 1435.5 549.5 1435.9 549.5 1436.4 549.6 1436.9 549.6 1437.3 549.6 1437.8 549.7 1438.3 549.7 1438.7 549.7 1439.2 549.7 1441.3 391.1 1441.7 402.8 1442.2 418.4 1442.6 434.5 1443.1 450.0 1443.6 464.4 1444.0 477.5 1444.5 489.1 1444.9 499.2 1445.4 507.9 1445.8 515.3 1446.3 521.6 1446.8 526.8 1447.2 531.2 1447.7 534.8 1448.1 537.8 1448.6 540.2 1449.0 542.2 1449.5 543.7 1450.0 545.0 1450.4 546.0 1450.9 546.8 1451.3 547.5 1451.8 548.0 1452.2 548.3 1452.7 548.7 1453.2 548.9 1453.6 549.1 1454.1 549.2 1454.5 549.3 1455.0 549.4 1455.4 549.5 1455.9 549.5 1456.4 549.6 1456.8 549.6 1457.3 549.6 1457.7 549.6 1458.2 549.7 1458.6 549.7 1459.1 549.7 1459.6 549.7 1460.0 549.7 1460.5 549.7 1460.9 549.7 1461.4 549.7 1461.8 549.7 1462.3 549.7 1462.8 549.7 1463.2 549.7 1463.7 549.7 1465.9 389.3 1466.3 401.4 1466.8 417.4 1467.3 433.9 1467.7 449.8 1468.2 464.5 1468.7 477.7 1469.1 489.4 1469.6 499.6 1470.1 508.3 1470.5 515.7 1471.0 522.0 1471.5 527.2 1471.9 531.5 1472.4 535.0 1472.9 537.9 1473.3 540.2 1473.8 542.1 1474.3 543.6 1474.7 544.8 1475.2 545.7 1475.7 546.5 1476.1 547.1 1476.6 547.6 1477.1 547.9 1477.5 548.2 1478.0 548.4 1478.5 548.6 1478.9 548.7 1479.4 548.8 1479.9 548.9 1480.3 548.9 1480.8 549.0 1481.3 549.0 1481.7 549.0 1482.2 549.1 1482.7 549.1 1484.6 393.3 1485.1 405.1 1485.5 420.7 1486.0 436.8 1486.5 452.3 1486.9 466.6 1487.4 479.6 1487.9 491.0 1488.3 500.9 1488.8 509.5 1489.3 516.8 1489.7 522.9 1490.2 528.0 1490.6 532.2 1491.1 535.7 1491.6 538.5 1492.0 540.8 1492.5 542.7 1493.0 544.2 1493.4 545.4 1493.9 546.3 1494.4 547.1 1494.8 547.7 1495.3 548.1 1495.7 548.5 1496.2 548.8 1496.7 549.0 1497.1 549.2 1497.6 549.3 1498.1 549.4 1498.5 549.5 1499.0 549.5 1499.5 549.6 1499.9 549.6 1500.4 549.6 1500.9 549.7 1501.3 549.7 1501.8 549.7 1502.2 549.7 1504.1 395.4 1504.5 407.0 1505.0 422.4 1505.5 438.3 1505.9 453.6 1506.4 467.8 1506.9 480.6 1507.3 491.9 1507.8 501.7 1508.2 510.2 1508.7 517.4 1509.2 523.5 1509.6 528.6 1510.1 532.8 1510.6 536.3 1511.0 539.1 1511.5 541.4 1511.9 543.3 1512.4 544.8 1512.9 545.9 1513.3 546.9 1513.8 547.7 1514.3 548.2 1514.7 548.7 1515.2 549.1 1515.6 549.4 1516.1 549.6 1516.6 549.8 1517.0 549.9 1517.5 550.0 1518.0 550.1 1518.4 550.1 1518.9 550.2 1519.3 550.2 1519.8 550.2 1520.3 550.2 1520.7 550.3 1521.2 550.3 1521.6 550.3 1522.1 550.3 1522.6 550.3 1523.0 550.3 1523.5 550.3 1524.0 550.3 1524.4 550.3 1524.9 550.3 1525.3 550.3 1525.8 550.3 1526.3 550.3 1526.7 550.3 1528.8 392.6 1529.3 404.3 1529.7 419.8 1530.2 435.9 1530.7 451.4 1531.1 465.8 1531.6 478.7 1532.0 490.2 1532.5 500.2 1533.0 508.9 1533.4 516.2 1533.9 522.4 1534.3 527.6 1534.8 531.9 1535.3 535.5 1535.7 538.4 1536.2 540.7 1536.6 542.6 1537.1 544.2 1537.6 545.4 1538.0 546.4 1538.5 547.2 1538.9 547.8 1539.4 548.3 1539.9 548.7 1540.3 548.9 1540.8 549.2 1541.2 549.4 1541.7 549.5 1542.2 549.6 1542.6 549.7 1543.1 549.7 1543.5 549.8 1544.0 549.8 1544.5 549.9 1544.9 549.9 1545.4 549.9 1545.8 549.9 1546.3 549.9 1546.8 549.9 1547.2 549.9 1547.7 549.9 1548.1 549.9 1548.6 549.9 1549.1 549.9 1549.5 549.9 1550.0 549.9 1550.4 549.9 1550.9 549.9 1551.4 549.9 1551.8 549.9 1552.3 549.9 1552.7 549.9 1553.2 549.9 1553.7 549.9 1554.1 549.9 1554.6 549.9 1555.0 549.9 1555.5 549.9 1556.0 549.9 1556.4 549.9 1556.9 549.9 1557.3 549.9 1557.8 549.9 1558.3 549.9 1558.7 549.9 1559.2 549.9 1559.6 549.9 1560.1 549.9 1560.6 549.9 1561.0 549.9 1562.9 387.7 1563.3 399.7 1563.8 415.7 1564.2 432.3 1564.7 448.2 1565.2 462.9 1565.6 476.2 1566.1 487.9 1566.6 498.2 1567.0 507.0 1567.5 514.4 1567.9 520.7 1568.4 526.0 1568.9 530.4 1569.3 534.0 1569.8 536.9 1570.3 539.3 1570.7 541.2 1571.2 542.7 1571.7 544.0 1572.1 545.0 1572.6 545.7 1573.0 546.4 1573.5 546.8 1574.0 547.2 1574.4 547.5 1574.9 547.7 1575.4 547.9 1575.8 548.0 1576.3 548.2 1576.7 548.2 1577.2 548.3 1577.7 548.3 1578.1 548.4 1578.6 548.4 1579.1 548.4 1579.5 548.4 1580.0 548.4 1580.4 548.5 1580.9 548.5 1581.4 548.5 1581.8 548.5 1583.4 391.1 1583.9 402.8 1584.4 418.4 1584.8 434.6 1585.3 450.1 1585.7 464.5 1586.2 477.4 1586.7 488.9 1587.1 498.9 1587.6 507.6 1588.0 514.9 1588.5 521.1 1589.0 526.3 1589.4 530.6 1589.9 534.1 1590.3 537.0 1590.8 539.3 1591.3 541.2 1591.7 542.8 1592.2 544.0 1592.7 545.0 1593.1 545.7 1593.6 546.3 1594.0 546.8 1594.5 547.2 1595.0 547.5 1595.4 547.7 1595.9 547.9 1596.3 548.0 1596.8 548.1 1597.3 548.2 1597.7 548.3 1598.2 548.3 1598.6 548.4 1599.1 548.4 1599.6 548.4 1600.0 548.4 1600.5 548.4 1601.0 548.4 1601.4 548.5 1601.9 548.5 1602.3 548.5 1602.8 548.5 1603.3 548.5 1603.7 548.5 1604.2 548.5 1604.6 548.5 1605.1 548.5 1606.8 386.5 1607.3 398.5 1607.7 414.4 1608.2 430.9 1608.6 446.8 1609.1 461.6 1609.6 474.9 1610.0 486.7 1610.5 497.0 1610.9 505.9 1611.4 513.5 1611.9 519.9 1612.3 525.3 1612.8 529.8 1613.2 533.4 1613.7 536.5 1614.1 538.9 1614.6 540.9 1615.1 542.5 1615.5 543.8 1616.0 544.8 1616.4 545.6 1616.9 546.3 1617.4 546.8 1617.8 547.2 1618.3 547.5 1618.7 547.7 1619.2 547.9 1619.6 548.1 1620.1 548.2 1620.6 548.3 1621.0 548.3 1621.5 548.4 1621.9 548.4 1622.4 548.4 1622.9 548.5 1625.3 394.2 1625.8 405.5 1626.2 420.6 1626.7 436.2 1627.1 451.3 1627.6 465.2 1628.1 477.8 1628.5 489.0 1629.0 498.8 1629.4 507.2 1629.9 514.3 1630.4 520.4 1630.8 525.4 1631.3 529.6 1631.7 533.1 1632.2 535.9 1632.7 538.2 1633.1 540.1 1633.6 541.6 1634.0 542.8 1634.5 543.8 1634.9 544.5 1635.4 545.1 1635.9 545.6 1636.3 546.0 1636.8 546.3 1637.2 546.5 1637.7 546.7 1638.2 546.8 1638.6 546.9 1639.1 547.0 1639.5 547.1 1640.0 547.1 1640.5 547.1 1640.9 547.2 1641.4 547.2 1641.8 547.2 1642.3 547.2 1642.8 547.2 1643.2 547.2 1643.7 547.2 1646.1 399.4 1646.6 410.8 1647.1 425.7 1647.5 441.2 1648.0 456.0 1648.5 469.7 1648.9 482.0 1649.4 492.8 1649.9 502.2 1650.4 510.3 1650.8 517.1 1651.3 522.8 1651.8 527.6 1652.2 531.5 1652.7 534.7 1653.2 537.3 1653.6 539.4 1654.1 541.1 1654.6 542.5 1655.1 543.6 1657.0 419.5 1657.4 430.0 1657.9 443.9 1658.4 458.2 1658.9 471.8 1659.4 484.3 1659.9 495.4 1660.4 505.2 1660.8 513.6 1661.3 520.7 1661.8 526.7 1662.3 531.7 1662.8 535.8 1665.1 538.5 1668.7 543.7 1671.0 540.4 1673.0 544.1 1675.3 545.7 1677.6 543.4 1679.3 540.4 1680.6 543.1 1682.9 539.1 1684.9 542.1 1687.2 544.4" fill="none" stroke="#151515" stroke-width="1.42" stroke-linejoin="round" stroke-linecap="round"/>
<line x1="1195.40" y1="363.20" x2="1195.40" y2="549.10" stroke="#e02428" stroke-width="2.2" stroke-dasharray="7.8 2.2"/>
<line x1="1360.70" y1="363.20" x2="1360.70" y2="549.10" stroke="#e02428" stroke-width="2.2" stroke-dasharray="7.8 2.2"/>
<text x="1193.00" y="359.00" font-size="29.17" text-anchor="middle">HBSS</text>
<text x="1382.00" y="357.20" font-size="29.17" text-anchor="middle">L-LEN</text>
<line x1="1873.20" y1="364.15" x2="1873.20" y2="546.80" stroke="#262626" stroke-width="1.3"/>
<line x1="1867.20" y1="546.80" x2="1995.20" y2="546.80" stroke="#262626" stroke-width="1.3"/>
<line x1="1867.20" y1="364.80" x2="1873.20" y2="364.80" stroke="#262626" stroke-width="1.3"/>
<text transform="translate(1864.50 378.05) scale(0.96 1)" font-size="29.17" text-anchor="end">150</text>
<line x1="1867.20" y1="425.47" x2="1873.20" y2="425.47" stroke="#262626" stroke-width="1.3"/>
<text transform="translate(1864.50 439.75) scale(0.96 1)" font-size="29.17" text-anchor="end">100</text>
<line x1="1867.20" y1="486.13" x2="1873.20" y2="486.13" stroke="#262626" stroke-width="1.3"/>
<text transform="translate(1864.50 498.25) scale(0.96 1)" font-size="29.17" text-anchor="end">50</text>
<text transform="translate(1864.50 557.65) scale(0.96 1)" font-size="29.17" text-anchor="end">0</text>
<rect x="1891.60" y="457.20" width="33.20" height="89.60" fill="#7b86c4" stroke="#111" stroke-width="1.3"/>
<rect x="1943.00" y="500.40" width="33.80" height="46.40" fill="#b7708f" stroke="#111" stroke-width="1.3"/>
<line x1="1908.10" y1="446.00" x2="1908.10" y2="468.00" stroke="#111" stroke-width="1.3"/>
<line x1="1899.50" y1="446.00" x2="1916.70" y2="446.00" stroke="#111" stroke-width="1.3"/>
<line x1="1899.50" y1="468.00" x2="1916.70" y2="468.00" stroke="#111" stroke-width="1.3"/>
<line x1="1959.90" y1="489.20" x2="1959.90" y2="509.90" stroke="#111" stroke-width="1.3"/>
<line x1="1951.30" y1="489.20" x2="1968.50" y2="489.20" stroke="#111" stroke-width="1.3"/>
<line x1="1951.30" y1="509.90" x2="1968.50" y2="509.90" stroke="#111" stroke-width="1.3"/>
<circle cx="1908.10" cy="410.10" r="4.30" fill="none" stroke="#111" stroke-width="1.3"/>
<circle cx="1908.10" cy="431.40" r="4.30" fill="none" stroke="#111" stroke-width="1.3"/>
<circle cx="1908.10" cy="444.10" r="4.30" fill="none" stroke="#111" stroke-width="1.3"/>
<circle cx="1895.20" cy="470.70" r="4.30" fill="none" stroke="#111" stroke-width="1.3"/>
<circle cx="1920.80" cy="467.30" r="4.30" fill="none" stroke="#111" stroke-width="1.3"/>
<circle cx="1908.10" cy="480.70" r="4.30" fill="none" stroke="#111" stroke-width="1.3"/>
<circle cx="1908.10" cy="494.60" r="4.30" fill="none" stroke="#111" stroke-width="1.3"/>
<circle cx="1959.90" cy="460.80" r="4.30" fill="none" stroke="#111" stroke-width="1.3"/>
<circle cx="1959.90" cy="477.70" r="4.30" fill="none" stroke="#111" stroke-width="1.3"/>
<circle cx="1959.90" cy="488.90" r="4.30" fill="none" stroke="#111" stroke-width="1.3"/>
<circle cx="1947.20" cy="505.10" r="4.30" fill="none" stroke="#111" stroke-width="1.3"/>
<circle cx="1972.60" cy="504.20" r="4.30" fill="none" stroke="#111" stroke-width="1.3"/>
<circle cx="1959.90" cy="517.30" r="4.30" fill="none" stroke="#111" stroke-width="1.3"/>
<circle cx="1959.90" cy="543.80" r="4.30" fill="none" stroke="#111" stroke-width="1.3"/>
<path d="M1905.4 373.1 V364.1 H1957.4 V373.1" fill="none" stroke="#222" stroke-width="1.2"/>
<text x="1930.80" y="369.60" font-size="26.00" text-anchor="middle" font-weight="bold">*</text>
<text transform="translate(1761.50 548.00) rotate(-90)" font-size="29.17">Relative Ca<tspan font-size="16" dy="-11">2+</tspan></text>
<text transform="translate(1803.00 554.20) rotate(-90)" font-size="29.17">transients (%)</text>
<line x1="900.00" y1="590.90" x2="1210.60" y2="590.90" stroke="#111" stroke-width="1.6"/>
<line x1="1699.50" y1="590.90" x2="2010.00" y2="590.90" stroke="#111" stroke-width="1.6"/>
<text x="1455.20" y="603.30" font-size="29.17" text-anchor="middle" font-weight="bold">GCaMP6m + GPR50 (bath in <tspan fill="#e8222e">TPQ</tspan>)</text>
<text x="902.80" y="631.70" font-size="48.60" font-weight="bold">e</text>
<line x1="1010.80" y1="652.35" x2="1010.80" y2="846.20" stroke="#262626" stroke-width="1.3"/>
<line x1="1003.40" y1="836.90" x2="1696.90" y2="836.90" stroke="#262626" stroke-width="1.3"/>
<line x1="1003.40" y1="653.00" x2="1010.80" y2="653.00" stroke="#262626" stroke-width="1.3"/>
<text x="1000.30" y="662.45" font-size="29.17" text-anchor="end">600</text>
<line x1="1003.40" y1="714.30" x2="1010.80" y2="714.30" stroke="#262626" stroke-width="1.3"/>
<text x="1000.30" y="723.95" font-size="29.17" text-anchor="end">400</text>
<line x1="1003.40" y1="775.60" x2="1010.80" y2="775.60" stroke="#262626" stroke-width="1.3"/>
<text x="1000.30" y="785.45" font-size="29.17" text-anchor="end">200</text>
<text x="1000.30" y="847.75" font-size="29.17" text-anchor="end">0</text>
<line x1="1224.95" y1="836.90" x2="1224.95" y2="844.90" stroke="#262626" stroke-width="1.3"/>
<line x1="1439.10" y1="836.90" x2="1439.10" y2="844.90" stroke="#262626" stroke-width="1.3"/>
<line x1="1653.25" y1="836.90" x2="1653.25" y2="844.90" stroke="#262626" stroke-width="1.3"/>
<text transform="translate(935.90 811.30) rotate(-90)" font-size="29.17">ΔF/F<tspan font-size="18" dy="10">0</tspan><tspan dy="-10" dx="-1"> (%)</tspan></text>
<path d="M1010.2 752.7 1011.0 777.5 1011.9 796.2 1012.7 810.3 1013.6 820.8 1014.4 828.7 1015.3 834.7 1016.5 751.4 1017.0 759.4 1017.5 769.9 1018.0 780.5 1018.4 790.5 1018.9 799.5 1019.4 807.3 1019.9 814.1 1020.3 819.8 1020.8 824.5 1021.3 828.4 1021.8 831.6 1022.2 834.2 1022.7 836.2 1023.2 837.8 1023.7 839.1 1024.1 840.1 1024.6 840.8 1025.1 841.4 1026.7 739.6 1027.2 749.5 1027.6 762.5 1028.1 775.7 1028.6 788.1 1029.1 799.3 1029.6 809.0 1030.0 817.4 1030.5 824.5 1031.0 830.4 1032.1 751.2 1032.5 759.1 1033.0 769.5 1033.5 780.1 1033.9 790.2 1034.4 799.3 1034.8 807.5 1035.3 814.5 1035.7 820.5 1036.2 825.5 1036.6 829.8 1037.1 833.2 1038.1 747.8 1038.6 757.1 1039.1 769.2 1039.6 781.4 1040.0 792.8 1040.5 803.0 1041.0 811.9 1041.5 819.5 1042.0 825.8 1042.5 831.0 1043.5 751.4 1043.9 759.5 1044.4 770.1 1044.9 780.9 1045.3 791.0 1045.8 800.2 1046.3 808.3 1046.7 815.3 1047.2 821.3 1047.7 826.3 1048.1 830.4 1049.0 752.7 1049.5 760.8 1049.9 771.5 1050.4 782.3 1050.9 792.4 1051.4 801.6 1051.9 809.6 1052.3 816.4 1052.8 822.2 1053.3 827.0 1053.8 830.9 1054.2 834.1 1055.7 748.6 1056.2 756.5 1056.6 766.8 1057.1 777.3 1057.5 787.3 1058.0 796.4 1058.4 804.5 1058.9 811.5 1059.4 817.5 1059.8 822.5 1060.3 826.7 1060.7 830.2 1061.2 833.0 1061.6 835.3 1062.1 837.1 1063.1 742.2 1063.6 752.5 1064.0 765.8 1064.5 779.2 1065.0 791.7 1065.5 802.9 1066.0 812.7 1066.5 821.0 1067.0 828.0 1068.2 750.4 1068.7 758.3 1069.1 768.6 1069.6 779.1 1070.1 789.0 1070.5 798.0 1071.0 805.9 1071.4 812.7 1071.9 818.6 1072.4 823.4 1072.8 827.5 1073.3 830.8 1073.8 833.5 1074.2 835.7 1074.7 837.4 1075.8 740.8 1076.3 749.5 1076.7 760.8 1077.2 772.3 1077.7 783.1 1078.2 792.8 1078.6 801.4 1079.1 808.7 1079.6 814.9 1080.1 820.0 1080.5 824.3 1081.0 827.7 1081.5 830.5 1082.0 832.7 1082.5 834.5 1082.9 835.8 1083.4 836.9 1083.9 837.8 1085.3 738.8 1085.8 747.7 1086.3 759.4 1086.7 771.2 1087.2 782.4 1087.7 792.6 1088.1 801.5 1088.6 809.3 1089.1 815.8 1089.5 821.4 1090.0 825.9 1090.4 829.7 1090.9 832.7 1091.4 835.2 1091.8 837.1 1093.1 739.2 1093.6 753.4 1094.1 771.6 1094.6 789.8 1095.1 806.5 1096.2 754.1 1096.7 761.7 1097.2 771.5 1097.7 781.6 1098.1 791.0 1098.6 799.5 1099.1 807.0 1099.5 813.4 1100.0 818.9 1100.5 823.4 1101.0 827.1 1101.4 830.2 1101.9 832.7 1102.4 834.6 1102.8 836.2 1103.3 837.5 1103.8 838.4 1104.3 839.2 1104.7 839.8 1105.2 840.2 1105.7 840.6 1107.1 732.4 1107.6 741.9 1108.1 754.4 1108.5 767.1 1109.0 779.1 1109.4 790.0 1109.9 799.6 1110.4 808.0 1110.8 815.1 1111.3 821.1 1111.7 826.0 1112.2 830.1 1112.7 833.5 1113.5 737.3 1114.0 749.5 1114.5 765.4 1115.0 781.4 1115.5 796.3 1116.0 809.6 1117.2 739.4 1117.7 750.2 1118.2 764.2 1118.7 778.2 1119.2 791.1 1119.7 802.7 1120.2 812.6 1120.7 821.0 1121.2 828.0 1122.2 741.9 1122.7 750.4 1123.1 761.6 1123.6 773.0 1124.0 783.7 1124.5 793.5 1125.0 802.1 1125.4 809.6 1125.9 816.0 1126.4 821.3 1126.8 825.7 1127.3 829.4 1127.7 832.3 1128.2 834.7 1129.4 735.1 1129.9 745.2 1130.4 758.4 1130.9 771.6 1131.4 783.9 1131.9 794.9 1132.4 804.5 1132.9 812.7 1133.3 819.6 1133.8 825.2 1134.3 829.8 1134.8 833.6 1135.3 836.5 1136.5 731.8 1137.0 741.9 1137.5 755.1 1138.0 768.4 1138.4 780.9 1138.9 792.2 1139.4 802.0 1139.9 810.4 1140.4 817.5 1140.8 823.5 1141.3 828.3 1141.8 832.2 1142.7 733.7 1143.1 743.7 1143.6 756.8 1144.1 770.0 1144.6 782.3 1145.1 793.3 1145.6 802.8 1146.1 811.0 1146.6 817.8 1147.1 823.4 1147.6 828.0 1148.0 831.7 1148.5 834.7 1149.8 733.4 1150.2 743.7 1150.7 757.2 1151.2 770.8 1151.7 783.6 1152.1 795.1 1152.6 805.3 1153.1 813.9 1153.6 821.3 1154.0 827.3 1155.3 737.7 1155.7 746.6 1156.2 758.3 1156.6 770.2 1157.1 781.5 1157.6 791.7 1158.0 800.7 1158.5 808.5 1159.0 815.1 1159.4 820.7 1159.9 825.3 1160.3 829.1 1160.8 832.2 1161.3 834.7 1162.6 731.6 1163.1 742.4 1163.6 756.4 1164.1 770.4 1164.6 783.4 1165.1 794.9 1165.6 804.9 1166.1 813.4 1166.6 820.4 1167.1 826.1 1168.4 735.3 1168.9 745.1 1169.3 757.9 1169.8 770.8 1170.3 782.8 1170.8 793.5 1171.3 802.9 1171.8 810.9 1172.3 817.6 1172.8 823.1 1173.3 827.6 1173.8 831.2 1174.2 834.1 1175.3 732.1 1175.8 742.6 1176.3 756.3 1176.8 770.3 1177.3 783.3 1177.7 795.1 1178.2 805.4 1178.7 814.3 1179.2 821.7 1179.6 828.0 1180.9 736.1 1181.3 746.6 1181.8 760.3 1182.2 774.3 1182.7 787.5 1183.1 799.6 1183.6 810.3 1184.0 819.6 1185.1 743.2 1185.6 752.6 1186.1 764.8 1186.6 777.2 1187.0 788.8 1187.5 799.3 1188.0 808.5 1188.5 816.4 1189.0 823.0 1189.4 828.6 1190.7 733.3 1191.1 743.2 1191.6 756.2 1192.1 769.3 1192.6 781.6 1193.0 792.7 1193.5 802.4 1194.0 810.8 1194.5 817.8 1194.9 823.7 1195.9 736.7 1196.4 747.8 1196.9 762.1 1197.4 776.4 1197.9 789.7 1198.4 801.6 1198.9 811.8 1199.4 820.4 1199.9 827.6 1200.4 833.5 1201.7 741.4 1202.1 751.4 1202.6 764.5 1203.0 777.9 1203.5 790.5 1203.9 802.1 1204.4 812.3 1204.9 821.2 1206.1 737.3 1206.5 746.2 1207.0 757.8 1207.5 769.5 1208.0 780.6 1208.4 790.6 1208.9 799.4 1209.4 807.0 1209.8 813.5 1210.3 818.9 1210.8 823.3 1211.2 827.0 1211.7 829.9 1212.2 832.3 1212.6 834.2 1213.1 835.7 1213.6 836.8 1214.0 837.8 1215.1 731.8 1215.6 742.7 1216.1 756.8 1216.6 770.9 1217.1 784.2 1217.6 796.0 1218.1 806.4 1218.6 815.1 1219.1 822.5 1219.6 828.6 1220.7 734.9 1221.1 744.7 1221.6 757.5 1222.0 770.5 1222.5 782.8 1223.0 793.9 1223.4 803.7 1223.9 812.2 1224.4 819.4 1224.8 825.4 1225.3 830.4 1226.5 736.7 1227.0 747.5 1227.5 761.5 1228.0 775.6 1228.4 788.7 1228.9 800.5 1229.4 810.7 1229.9 819.4 1230.4 826.7 1231.4 737.3 1231.9 748.1 1232.4 762.0 1232.9 776.1 1233.3 789.2 1233.8 800.9 1234.3 811.1 1234.8 819.8 1235.3 827.1 1236.9 742.2 1237.4 752.0 1237.9 764.6 1238.4 777.3 1238.9 789.2 1239.3 799.8 1239.8 809.1 1240.3 817.0 1240.8 823.6 1241.3 829.0 1241.8 833.5 1242.8 738.0 1243.3 749.8 1243.8 765.2 1244.3 780.5 1244.8 794.7 1245.3 807.3 1245.8 818.2 1246.3 827.3 1247.6 746.3 1248.0 755.1 1248.5 766.6 1248.9 778.3 1249.4 789.4 1249.9 799.4 1250.3 808.2 1250.8 815.9 1251.3 822.3 1251.7 827.8 1252.2 832.2 1253.4 735.9 1253.9 744.9 1254.4 756.7 1254.8 768.6 1255.3 779.9 1255.8 790.2 1256.2 799.2 1256.7 807.0 1257.2 813.6 1257.6 819.2 1258.1 823.8 1258.5 827.5 1259.0 830.6 1259.5 833.0 1259.9 835.0 1260.4 836.5 1261.6 733.7 1262.1 744.0 1262.6 757.5 1263.1 771.1 1263.6 783.8 1264.1 795.1 1264.6 805.0 1265.1 813.4 1265.6 820.5 1266.0 826.3 1266.5 831.0 1267.8 737.6 1268.2 746.7 1268.7 758.6 1269.1 770.7 1269.6 782.2 1270.1 792.7 1270.5 801.9 1271.0 809.9 1271.4 816.7 1271.9 822.5 1272.3 827.2 1272.8 831.1 1273.3 834.3 1274.5 740.4 1275.0 749.2 1275.4 760.7 1275.9 772.3 1276.4 783.2 1276.9 793.0 1277.3 801.6 1277.8 809.0 1278.3 815.3 1278.8 820.5 1279.3 824.7 1279.7 828.2 1280.2 831.0 1280.7 833.2 1281.2 835.0 1281.6 836.4 1282.1 837.5 1282.6 838.3 1283.1 839.0 1283.7 735.5 1284.1 744.7 1284.6 756.8 1285.1 769.0 1285.6 780.4 1286.1 790.7 1286.5 799.8 1287.0 807.5 1287.5 814.1 1288.0 819.6 1288.4 824.0 1288.9 827.7 1289.4 830.6 1289.9 833.0 1290.3 834.8 1290.8 836.3 1291.3 837.4 1291.8 838.3 1292.2 839.0 1293.1 733.7 1293.6 744.8 1294.0 759.3 1294.5 774.0 1295.0 787.9 1295.4 800.4 1295.9 811.4 1296.9 753.9 1297.4 762.7 1297.9 774.2 1298.4 785.8 1298.9 796.6 1299.3 806.3 1299.8 814.8 1300.3 821.9 1300.8 828.0 1302.0 740.4 1302.5 749.6 1303.0 761.7 1303.4 774.0 1303.9 785.5 1304.4 796.0 1304.8 805.3 1305.3 813.2 1305.8 820.0 1306.2 825.7 1306.7 830.4 1307.7 750.2 1308.1 758.6 1308.6 769.7 1309.1 780.9 1309.5 791.5 1310.0 801.2 1310.4 809.7 1310.9 817.1 1311.4 823.3 1311.8 828.6 1312.8 747.8 1313.3 755.7 1313.7 766.1 1314.2 776.7 1314.6 786.8 1315.1 796.0 1315.5 804.2 1316.0 811.2 1316.5 817.3 1316.9 822.4 1317.4 826.6 1317.8 830.1 1318.3 833.0 1318.7 835.3 1319.2 837.1 1320.2 744.4 1320.6 754.0 1321.1 766.4 1321.5 779.2 1322.0 791.2 1322.5 802.1 1322.9 811.8 1323.4 820.2 1323.8 827.3 1324.9 749.3 1325.4 758.5 1325.9 770.4 1326.4 782.5 1326.8 793.9 1327.3 804.1 1327.8 813.1 1328.3 820.8 1328.7 827.3 1329.8 754.7 1330.3 762.9 1330.8 773.6 1331.3 784.3 1331.8 794.4 1332.3 803.3 1332.8 811.1 1333.3 817.8 1333.8 823.4 1334.2 828.0 1334.7 831.7 1335.2 834.7 1335.7 837.1 1336.7 734.3 1337.2 743.3 1337.6 755.2 1338.1 767.2 1338.5 778.6 1339.0 789.0 1339.5 798.1 1339.9 806.1 1340.4 812.8 1340.8 818.5 1341.3 823.2 1341.8 827.0 1342.2 830.2 1342.7 832.7 1343.1 834.7 1343.6 836.3 1344.1 837.6 1344.5 838.6 1345.8 738.2 1346.2 747.8 1346.7 760.3 1347.2 772.9 1347.7 784.8 1348.1 795.4 1348.6 804.8 1349.1 812.8 1349.6 819.5 1350.1 825.1 1350.5 829.7 1351.0 833.5 1352.2 730.6 1352.7 740.2 1353.2 752.8 1353.7 765.5 1354.1 777.4 1354.6 788.2 1355.1 797.7 1355.6 805.8 1356.0 812.6 1356.5 818.4 1357.0 823.1 1357.5 826.9 1357.9 830.0 1358.4 832.4 1358.9 834.4 1359.4 835.9 1359.8 837.1 1360.8 733.1 1361.3 743.5 1361.7 757.3 1362.2 771.3 1362.7 784.5 1363.1 796.6 1363.6 807.2 1364.0 816.4 1364.5 824.3 1365.5 735.1 1365.9 744.3 1366.4 756.2 1366.8 768.4 1367.3 779.9 1367.8 790.4 1368.2 799.7 1368.7 807.7 1369.1 814.6 1369.6 820.3 1370.1 825.1 1370.5 829.0 1371.0 832.2 1372.1 733.7 1372.5 742.9 1373.0 755.0 1373.5 767.4 1373.9 779.1 1374.4 789.7 1374.8 799.2 1375.3 807.4 1375.7 814.4 1376.2 820.2 1376.6 825.1 1377.1 829.2 1378.2 732.4 1378.7 742.0 1379.2 754.4 1379.6 767.0 1380.1 778.9 1380.6 789.6 1381.0 799.0 1381.5 807.1 1382.0 813.9 1382.5 819.6 1382.9 824.3 1383.4 828.1 1383.9 831.2 1384.4 833.6 1384.8 835.6 1385.3 837.1 1386.5 729.4 1387.0 738.7 1387.4 751.0 1387.9 763.5 1388.4 775.4 1388.8 786.1 1389.3 795.7 1389.7 803.9 1390.2 810.9 1390.7 816.9 1391.1 821.8 1391.6 825.8 1392.0 829.1 1392.5 831.7 1393.0 833.9 1393.4 835.6 1393.9 836.9 1394.9 729.4 1395.3 740.0 1395.8 753.8 1396.3 767.7 1396.8 780.6 1397.3 792.2 1397.8 802.3 1398.3 811.0 1398.8 818.2 1399.3 824.1 1399.8 829.0 1400.2 832.9 1401.5 729.1 1401.9 740.1 1402.4 754.3 1402.9 768.8 1403.4 782.4 1403.8 794.6 1404.3 805.4 1404.8 814.6 1405.3 822.4 1406.2 732.4 1406.7 743.6 1407.2 758.0 1407.7 772.6 1408.2 786.2 1408.7 798.3 1409.2 808.9 1409.7 818.0 1410.2 825.5 1411.4 738.3 1411.9 747.1 1412.3 758.6 1412.8 770.3 1413.3 781.3 1413.7 791.3 1414.2 800.0 1414.7 807.6 1415.1 813.9 1415.6 819.3 1416.1 823.7 1416.6 827.3 1417.0 830.2 1417.5 832.5 1418.0 834.4 1418.4 835.9 1418.9 837.0 1419.4 837.9 1419.8 838.6 1421.1 724.2 1421.5 734.1 1422.0 747.1 1422.4 760.3 1422.9 772.7 1423.4 784.1 1423.8 794.1 1424.3 802.7 1424.8 810.1 1425.2 816.2 1425.7 821.3 1426.1 825.6 1426.6 829.0 1427.1 831.7 1427.5 833.9 1428.0 835.7 1428.5 837.1 1428.9 838.1 1429.4 839.0 1429.8 839.6 1430.3 840.1 1430.8 840.5 1431.2 840.8 1432.7 726.3 1433.2 737.0 1433.7 751.0 1434.2 765.0 1434.7 778.1 1435.1 789.9 1435.6 800.1 1436.1 808.8 1436.6 816.1 1437.1 822.1 1437.6 827.0 1438.1 830.9 1438.6 834.1 1439.8 731.2 1440.2 742.2 1440.7 756.6 1441.1 771.2 1441.6 785.1 1442.1 797.7 1442.5 808.8 1443.0 818.5 1443.4 826.7 1444.7 732.7 1445.1 742.3 1445.6 754.8 1446.0 767.6 1446.5 779.8 1446.9 790.8 1447.4 800.5 1447.9 808.9 1448.3 816.1 1448.8 822.2 1449.2 827.2 1449.7 831.3 1450.2 834.7 1451.4 731.2 1451.9 741.2 1452.3 754.1 1452.8 767.2 1453.3 779.5 1453.8 790.5 1454.3 800.2 1454.8 808.4 1455.2 815.4 1455.7 821.1 1456.2 825.9 1456.7 829.7 1457.2 832.8 1457.6 835.2 1458.1 837.1 1459.3 728.8 1459.8 739.1 1460.3 752.5 1460.8 766.0 1461.3 778.7 1461.7 790.2 1462.2 800.2 1462.7 808.7 1463.2 816.0 1463.7 822.0 1464.1 826.9 1464.6 830.9 1465.1 834.1 1466.1 734.0 1466.6 746.6 1467.1 762.8 1467.6 779.1 1468.1 794.0 1468.6 807.3 1469.1 818.8 1470.2 749.0 1470.7 757.5 1471.2 768.7 1471.6 780.1 1472.1 790.8 1472.6 800.6 1473.0 809.2 1473.5 816.6 1474.0 822.9 1474.4 828.1 1474.9 832.5 1476.0 747.8 1476.5 756.6 1477.0 768.2 1477.4 779.8 1477.9 790.8 1478.4 800.7 1478.9 809.3 1479.3 816.8 1479.8 823.0 1480.3 828.2 1480.8 832.5 1482.2 741.6 1482.7 751.1 1483.2 763.4 1483.7 775.9 1484.2 787.4 1484.7 797.8 1485.2 806.8 1485.7 814.5 1486.2 821.0 1486.7 826.3 1487.1 830.6 1487.6 834.1 1488.1 836.9 1489.1 737.1 1489.6 746.6 1490.1 758.9 1490.5 771.4 1491.0 783.1 1491.5 793.6 1492.0 802.9 1492.5 810.7 1492.9 817.4 1493.4 822.9 1493.9 827.5 1494.4 831.1 1494.9 834.1 1496.0 742.0 1496.4 751.3 1496.9 763.3 1497.4 775.5 1497.9 787.0 1498.4 797.3 1498.8 806.3 1499.3 814.1 1499.8 820.6 1500.3 826.0 1500.7 830.5 1501.2 834.1 1502.4 737.7 1502.9 747.9 1503.4 761.2 1503.9 774.6 1504.4 787.2 1504.8 798.6 1505.3 808.6 1505.8 817.2 1506.3 824.4 1506.7 830.4 1508.1 746.5 1508.6 755.2 1509.0 766.4 1509.5 777.8 1510.0 788.4 1510.5 798.0 1511.0 806.4 1511.4 813.6 1511.9 819.6 1512.4 824.6 1512.9 828.8 1513.4 832.1 1513.8 834.8 1514.3 836.9 1515.6 737.6 1516.0 746.3 1516.5 757.7 1516.9 769.3 1517.4 780.4 1517.8 790.4 1518.3 799.3 1518.8 806.9 1519.2 813.5 1519.7 819.0 1520.1 823.6 1520.6 827.4 1521.0 830.5 1521.5 833.0 1522.0 835.0 1522.4 836.6 1522.9 837.8 1523.3 838.8 1523.8 839.6 1524.2 840.2 1525.5 739.2 1525.9 748.8 1526.4 761.4 1526.9 774.0 1527.4 786.0 1527.9 796.7 1528.3 806.1 1528.8 814.2 1529.3 821.0 1529.8 826.6 1530.2 831.3 1531.2 745.3 1531.7 753.8 1532.2 764.9 1532.7 776.1 1533.1 786.6 1533.6 796.0 1534.1 804.3 1534.6 811.3 1535.1 817.3 1535.6 822.2 1536.0 826.3 1536.5 829.5 1537.0 832.2 1537.5 834.3 1538.0 835.9 1539.2 738.9 1539.6 747.7 1540.1 759.3 1540.6 771.1 1541.0 782.3 1541.5 792.4 1541.9 801.4 1542.4 809.1 1542.9 815.8 1543.3 821.3 1543.8 826.0 1544.2 829.8 1544.7 832.9 1545.9 746.3 1546.4 754.8 1546.9 765.9 1547.4 777.1 1547.8 787.6 1548.3 797.0 1548.8 805.3 1549.3 812.3 1549.8 818.3 1550.2 823.2 1550.7 827.2 1551.2 830.5 1551.7 833.2 1552.2 835.2 1552.7 836.9 1553.9 739.4 1554.3 748.1 1554.8 759.4 1555.3 770.9 1555.7 781.7 1556.2 791.6 1556.7 800.3 1557.1 807.8 1557.6 814.2 1558.0 819.6 1558.5 824.0 1559.0 827.7 1559.4 830.6 1559.9 833.0 1560.4 834.9 1560.8 836.4 1561.3 837.6 1561.8 838.6 1562.2 839.3 1562.7 839.8 1563.1 840.3 1563.6 840.6 1564.1 840.9 1564.5 841.1 1565.9 731.6 1566.4 742.2 1566.9 755.9 1567.3 769.7 1567.8 782.7 1568.3 794.2 1568.8 804.3 1569.3 812.8 1569.8 820.0 1570.3 825.9 1570.8 830.8 1572.0 742.2 1572.5 750.7 1572.9 761.7 1573.4 773.0 1573.9 783.5 1574.3 793.1 1574.8 801.5 1575.3 808.8 1575.7 815.0 1576.2 820.1 1576.7 824.4 1577.1 827.8 1577.6 830.6 1578.1 832.9 1578.6 834.7 1579.0 836.1 1579.5 837.2 1580.0 838.1 1581.2 739.6 1581.6 748.1 1582.1 759.4 1582.6 770.9 1583.0 781.8 1583.5 791.7 1583.9 800.5 1584.4 808.1 1584.9 814.5 1585.3 819.9 1585.8 824.5 1586.2 828.2 1586.7 831.2 1587.2 833.6 1587.6 835.6 1588.1 837.1 1588.5 838.4 1589.8 735.3 1590.2 744.5 1590.7 756.5 1591.1 768.8 1591.6 780.5 1592.1 791.0 1592.5 800.4 1593.0 808.5 1593.4 815.4 1593.9 821.2 1594.3 826.0 1594.8 830.0 1595.3 833.2 1596.4 738.2 1596.9 748.2 1597.3 761.3 1597.8 774.4 1598.3 786.6 1598.8 797.6 1599.3 807.1 1599.8 815.2 1600.3 822.1 1600.8 827.7 1601.3 832.2 1602.5 744.2 1603.0 752.4 1603.5 763.1 1603.9 774.0 1604.4 784.2 1604.9 793.5 1605.3 801.8 1605.8 808.8 1606.3 814.9 1606.7 819.9 1607.2 824.1 1607.7 827.5 1608.1 830.3 1608.6 832.5 1609.0 834.3 1609.5 835.7 1610.3 744.2 1610.8 752.3 1611.2 762.8 1611.7 773.6 1612.1 783.8 1612.6 793.1 1613.0 801.3 1613.5 808.4 1613.9 814.5 1614.4 819.7 1614.9 823.9 1615.3 827.5 1615.8 830.3 1616.2 832.7 1616.7 834.5 1617.1 836.0 1617.6 837.2 1618.1 838.2 1618.5 838.9 1619.0 839.5 1619.4 839.9 1620.4 728.5 1620.9 739.0 1621.4 752.8 1621.9 766.7 1622.4 779.8 1622.8 791.5 1623.3 801.9 1623.8 810.7 1624.3 818.2 1624.7 824.5 1625.2 829.6 1626.0 742.4 1626.5 752.1 1627.0 764.7 1627.5 777.3 1628.0 789.0 1628.5 799.4 1629.0 808.5 1629.5 816.1 1630.0 822.4 1630.5 827.6 1631.5 749.0 1631.9 757.2 1632.4 767.9 1632.9 778.7 1633.4 788.9 1633.9 798.0 1634.4 805.9 1634.8 812.8 1635.3 818.5 1635.8 823.3 1636.3 827.2 1636.8 830.3 1637.2 832.9 1637.7 834.9 1638.2 836.5 1639.0 733.3 1639.5 743.9 1640.0 757.8 1640.5 771.7 1641.0 784.7 1641.5 796.3 1642.0 806.4 1642.4 814.9 1642.9 822.1 1643.4 828.0 1644.5 740.2 1645.0 750.1 1645.5 763.0 1646.0 776.0 1646.4 788.3 1646.9 799.4 1647.4 809.1 1647.9 817.4 1648.3 824.4 1649.4 739.2 1649.9 748.6 1650.4 760.9 1650.8 773.2 1651.3 784.7 1651.8 795.0 1652.3 804.0 1652.8 811.7 1653.3 818.1 1653.8 823.4 1654.3 827.7 1654.8 831.2 1655.2 833.9 1656.1 729.3 1656.6 739.3 1657.1 752.4 1657.5 765.6 1658.0 778.0 1658.5 789.2 1659.0 799.0 1659.4 807.5 1659.9 814.6 1660.4 820.5 1660.9 825.4 1661.3 829.3 1661.8 832.5 1662.6 728.0 1663.1 739.6 1663.6 754.7 1664.1 769.8 1664.6 783.9 1665.1 796.5 1665.6 807.4 1666.1 816.7 1666.6 824.4 1667.4 740.4 1667.9 749.2 1668.4 760.6 1668.9 772.2 1669.4 783.1 1669.8 792.9 1670.3 801.5 1670.8 808.9 1671.3 815.1 1671.7 820.3 1672.2 824.6 1672.7 828.1 1673.2 830.9 1673.6 833.1 1674.1 834.9 1674.6 836.3 1675.1 837.3 1675.5 838.2 1676.0 838.8 1676.5 839.3 1677.5 725.2 1678.0 736.8 1678.5 751.8 1679.0 766.8 1679.5 780.8 1680.0 793.2 1680.5 804.0 1681.0 813.1 1681.5 820.6 1682.0 826.8 1682.8 729.6 1683.3 740.0 1683.8 753.6 1684.3 767.4 1684.7 780.4 1685.2 792.0 1685.7 802.3 1686.2 811.1 1686.6 818.5" fill="none" stroke="#151515" stroke-width="1.42" stroke-linejoin="round" stroke-linecap="round"/>
<line x1="1195.70" y1="651.00" x2="1195.70" y2="836.90" stroke="#e02428" stroke-width="2.2" stroke-dasharray="7.8 2.2"/>
<line x1="1360.50" y1="651.00" x2="1360.50" y2="836.90" stroke="#e02428" stroke-width="2.2" stroke-dasharray="7.8 2.2"/>
<text x="1188.80" y="646.30" font-size="29.17" text-anchor="middle">HBSS</text>
<text x="1378.20" y="646.30" font-size="29.17" text-anchor="middle">L-LEN</text>
<text x="1009.70" y="870.30" font-size="29.17" text-anchor="middle">0</text>
<text x="1224.25" y="870.30" font-size="29.17" text-anchor="middle">5</text>
<text x="1436.10" y="870.30" font-size="29.17" text-anchor="middle">10</text>
<text x="1653.45" y="870.30" font-size="29.17" text-anchor="middle">15</text>
<text x="1329.00" y="893.30" font-size="29.17" text-anchor="middle">Time (min)</text>
<line x1="1873.20" y1="654.55" x2="1873.20" y2="836.30" stroke="#262626" stroke-width="1.3"/>
<line x1="1867.20" y1="836.30" x2="1995.20" y2="836.30" stroke="#262626" stroke-width="1.3"/>
<line x1="1867.20" y1="655.20" x2="1873.20" y2="655.20" stroke="#262626" stroke-width="1.3"/>
<text transform="translate(1862.90 665.45) scale(0.96 1)" font-size="29.17" text-anchor="end">200</text>
<line x1="1867.20" y1="700.48" x2="1873.20" y2="700.48" stroke="#262626" stroke-width="1.3"/>
<text transform="translate(1862.90 712.05) scale(0.96 1)" font-size="29.17" text-anchor="end">150</text>
<line x1="1867.20" y1="745.75" x2="1873.20" y2="745.75" stroke="#262626" stroke-width="1.3"/>
<text transform="translate(1862.90 756.85) scale(0.96 1)" font-size="29.17" text-anchor="end">100</text>
<line x1="1867.20" y1="791.02" x2="1873.20" y2="791.02" stroke="#262626" stroke-width="1.3"/>
<text transform="translate(1862.90 802.55) scale(0.96 1)" font-size="29.17" text-anchor="end">50</text>
<text transform="translate(1862.90 847.15) scale(0.96 1)" font-size="29.17" text-anchor="end">0</text>
<rect x="1891.60" y="735.30" width="34.00" height="101.00" fill="#7b86c4" stroke="#111" stroke-width="1.3"/>
<rect x="1943.20" y="747.60" width="34.50" height="88.70" fill="#b7708f" stroke="#111" stroke-width="1.3"/>
<line x1="1908.40" y1="728.10" x2="1908.40" y2="741.30" stroke="#111" stroke-width="1.3"/>
<line x1="1899.80" y1="728.10" x2="1917.00" y2="728.10" stroke="#111" stroke-width="1.3"/>
<line x1="1899.80" y1="741.30" x2="1917.00" y2="741.30" stroke="#111" stroke-width="1.3"/>
<line x1="1960.20" y1="744.00" x2="1960.20" y2="750.30" stroke="#111" stroke-width="1.3"/>
<line x1="1951.60" y1="744.00" x2="1968.80" y2="744.00" stroke="#111" stroke-width="1.3"/>
<line x1="1951.60" y1="750.30" x2="1968.80" y2="750.30" stroke="#111" stroke-width="1.3"/>
<circle cx="1908.40" cy="697.20" r="4.30" fill="none" stroke="#111" stroke-width="1.3"/>
<circle cx="1908.40" cy="715.40" r="4.30" fill="none" stroke="#111" stroke-width="1.3"/>
<circle cx="1904.20" cy="726.90" r="4.30" fill="none" stroke="#111" stroke-width="1.3"/>
<circle cx="1895.70" cy="737.30" r="4.30" fill="none" stroke="#111" stroke-width="1.3"/>
<circle cx="1912.60" cy="735.30" r="4.30" fill="none" stroke="#111" stroke-width="1.3"/>
<circle cx="1903.90" cy="744.50" r="4.30" fill="none" stroke="#111" stroke-width="1.3"/>
<circle cx="1921.40" cy="744.00" r="4.30" fill="none" stroke="#111" stroke-width="1.3"/>
<circle cx="1912.60" cy="748.70" r="4.30" fill="none" stroke="#111" stroke-width="1.3"/>
<circle cx="1908.40" cy="765.10" r="4.30" fill="none" stroke="#111" stroke-width="1.3"/>
<circle cx="1960.20" cy="726.50" r="4.30" fill="none" stroke="#111" stroke-width="1.3"/>
<circle cx="1947.50" cy="741.30" r="4.30" fill="none" stroke="#111" stroke-width="1.3"/>
<circle cx="1973.20" cy="740.00" r="4.30" fill="none" stroke="#111" stroke-width="1.3"/>
<circle cx="1956.20" cy="747.90" r="4.30" fill="none" stroke="#111" stroke-width="1.3"/>
<circle cx="1965.00" cy="747.90" r="4.30" fill="none" stroke="#111" stroke-width="1.3"/>
<circle cx="1947.50" cy="751.60" r="4.30" fill="none" stroke="#111" stroke-width="1.3"/>
<circle cx="1973.20" cy="751.60" r="4.30" fill="none" stroke="#111" stroke-width="1.3"/>
<circle cx="1964.20" cy="758.70" r="4.30" fill="none" stroke="#111" stroke-width="1.3"/>
<circle cx="1955.90" cy="761.90" r="4.30" fill="none" stroke="#111" stroke-width="1.3"/>
<path d="M1907.6 663.6 V655.2 H1959.9 V663.6" fill="none" stroke="#222" stroke-width="1.2"/>
<text x="1936.90" y="650.30" font-size="25.00" text-anchor="middle">n.s.</text>
<text transform="translate(1764.40 838.00) rotate(-90)" font-size="29.17">Relative Ca<tspan font-size="16" dy="-11">2+</tspan></text>
<text transform="translate(1805.60 844.90) rotate(-90)" font-size="29.17">transients (%)</text>
<text transform="translate(1924.00 848.20) rotate(-45)" font-size="29.17" text-anchor="end">HBSS</text>
<text transform="translate(1974.20 851.60) rotate(-45) scale(0.96 1)" font-size="29.17" text-anchor="end">L-LEN</text>
</g>
<g id="p_f">
<text x="6.50" y="957.00" font-size="48.60" font-weight="bold">f</text>
<text x="316.40" y="934.40" font-size="29.17" text-anchor="middle" font-weight="bold">Allen Mouse Brain Atlas</text>
<text x="304.50" y="984.40" font-size="29.17" text-anchor="middle">GPR50</text>
<text x="315.80" y="1484.50" font-size="29.17" text-anchor="middle">ProSAAS (L-LEN precursor)</text>
<g clip-path="url(#cf1)">
<rect x="28.00" y="1020.50" width="564.20" height="343.30" fill="#fbfafb"/>
<path d="M8.6 1173.6C11.9 1173.9 24.8 1170.7 28.6 1175.5C32.4 1180.3 29.0 1195.5 31.4 1202.1C33.8 1208.8 38.4 1210.1 42.8 1215.5C47.3 1220.8 52.3 1228.5 58.0 1234.5C63.8 1240.5 70.1 1245.6 77.1 1251.6C84.0 1257.6 92.9 1264.9 99.9 1270.6C106.9 1276.3 113.2 1281.1 118.9 1285.8C124.6 1290.6 128.4 1294.7 134.1 1299.2C139.8 1303.6 146.8 1308.3 153.2 1312.5C159.5 1316.6 165.8 1320.7 172.2 1323.9C178.5 1327.1 184.9 1329.3 191.2 1331.5C197.6 1333.7 203.9 1335.6 210.2 1337.2C216.6 1338.8 222.9 1340.7 229.3 1341.0C235.6 1341.3 241.9 1339.1 248.3 1339.1C254.6 1339.1 261.0 1339.7 267.3 1341.0C273.6 1342.3 280.0 1344.8 286.3 1346.7C292.7 1348.6 299.7 1351.2 305.4 1352.4C311.0 1353.7 316.1 1354.6 320.0 1354.3C323.9 1354.0 322.4 1352.1 328.5 1350.5C334.7 1348.9 349.1 1346.4 357.1 1344.8C365.0 1343.2 366.6 1342.0 376.1 1341.0C385.6 1340.1 403.0 1339.7 414.1 1339.1C425.2 1338.5 434.7 1338.2 442.7 1337.2C450.6 1336.3 455.4 1335.6 461.7 1333.4C468.0 1331.2 474.4 1327.4 480.7 1323.9C487.1 1320.4 493.4 1316.6 499.7 1312.5C506.1 1308.3 512.4 1303.9 518.8 1299.2C525.1 1294.4 532.4 1289.3 537.8 1283.9C543.2 1278.5 546.4 1272.2 551.1 1266.8C555.9 1261.4 561.9 1257.0 566.3 1251.6C570.8 1246.2 573.9 1241.1 577.7 1234.5C581.5 1227.8 586.6 1217.4 589.2 1211.6C591.7 1205.9 589.2 1202.5 593.0 1200.2C596.8 1198.0 608.8 1198.6 612.0 1198.3L640 1000L-20 1000Z" fill="#f1eff1" stroke="#d9cfda" stroke-width="1.5"/>
<clipPath id="ct1"><path d="M8.6 1173.6C11.9 1173.9 24.8 1170.7 28.6 1175.5C32.4 1180.3 29.0 1195.5 31.4 1202.1C33.8 1208.8 38.4 1210.1 42.8 1215.5C47.3 1220.8 52.3 1228.5 58.0 1234.5C63.8 1240.5 70.1 1245.6 77.1 1251.6C84.0 1257.6 92.9 1264.9 99.9 1270.6C106.9 1276.3 113.2 1281.1 118.9 1285.8C124.6 1290.6 128.4 1294.7 134.1 1299.2C139.8 1303.6 146.8 1308.3 153.2 1312.5C159.5 1316.6 165.8 1320.7 172.2 1323.9C178.5 1327.1 184.9 1329.3 191.2 1331.5C197.6 1333.7 203.9 1335.6 210.2 1337.2C216.6 1338.8 222.9 1340.7 229.3 1341.0C235.6 1341.3 241.9 1339.1 248.3 1339.1C254.6 1339.1 261.0 1339.7 267.3 1341.0C273.6 1342.3 280.0 1344.8 286.3 1346.7C292.7 1348.6 299.7 1351.2 305.4 1352.4C311.0 1353.7 316.1 1354.6 320.0 1354.3C323.9 1354.0 322.4 1352.1 328.5 1350.5C334.7 1348.9 349.1 1346.4 357.1 1344.8C365.0 1343.2 366.6 1342.0 376.1 1341.0C385.6 1340.1 403.0 1339.7 414.1 1339.1C425.2 1338.5 434.7 1338.2 442.7 1337.2C450.6 1336.3 455.4 1335.6 461.7 1333.4C468.0 1331.2 474.4 1327.4 480.7 1323.9C487.1 1320.4 493.4 1316.6 499.7 1312.5C506.1 1308.3 512.4 1303.9 518.8 1299.2C525.1 1294.4 532.4 1289.3 537.8 1283.9C543.2 1278.5 546.4 1272.2 551.1 1266.8C555.9 1261.4 561.9 1257.0 566.3 1251.6C570.8 1246.2 573.9 1241.1 577.7 1234.5C581.5 1227.8 586.6 1217.4 589.2 1211.6C591.7 1205.9 589.2 1202.5 593.0 1200.2C596.8 1198.0 608.8 1198.6 612.0 1198.3L640 1000L-20 1000Z"/></clipPath>
<g clip-path="url(#ct1)">
<rect x="28" y="1020.5" width="564.2" height="343.3" filter="url(#sp1b)"/>
<rect x="28" y="1020.5" width="564.2" height="343.3" filter="url(#sp1)"/>
<path d="M303.0 1327.7C303.3 1320.1 303.8 1298.3 304.4 1282.2C304.9 1266.2 305.8 1250.5 306.3 1231.4C306.8 1212.4 307.0 1182.8 307.4 1168.1C307.8 1153.4 308.1 1150.5 308.8 1143.2C309.4 1135.8 309.8 1128.7 311.0 1124.1C312.3 1119.5 314.4 1117.5 316.2 1115.6C318.0 1113.7 320.0 1112.7 321.9 1112.7C323.8 1112.7 326.0 1113.7 327.6 1115.6C329.2 1117.5 330.6 1119.5 331.4 1124.1C332.2 1128.7 332.3 1135.8 332.5 1143.2C332.8 1150.5 332.7 1153.4 332.9 1168.1C333.2 1182.8 333.5 1212.4 334.1 1231.4C334.6 1250.5 334.9 1266.2 336.0 1282.2C337.0 1298.3 340.8 1319.9 340.5 1327.7C340.2 1335.5 336.4 1329.2 334.1 1329.0C331.7 1328.8 329.4 1326.8 326.4 1326.5C323.5 1326.3 319.3 1327.1 316.4 1327.7C313.4 1328.3 311.0 1330.4 308.8 1330.4C306.5 1330.4 304.0 1328.1 303.0 1327.7" fill="#f6f4f6" fill-opacity="0.45"/>
<g filter="url(#fb1)"><path d="M310.3 1183.3C310.4 1186.2 310.8 1195.1 311.1 1201.0C311.4 1206.9 311.5 1209.5 312.1 1218.8C312.6 1228.1 313.8 1245.2 314.5 1256.8C315.2 1268.4 315.4 1281.6 316.4 1288.5C317.3 1295.5 318.3 1295.1 320.2 1298.7C322.1 1302.3 324.7 1306.4 327.8 1310.1C330.9 1313.8 336.8 1319.1 338.6 1320.9" fill="none" stroke="#2b2233" stroke-width="3.0" stroke-opacity="0.9"/><path d="M311.6 1244.1C311.5 1251.5 311.5 1278.0 311.1 1288.5C310.6 1299.1 309.7 1302.5 308.8 1307.6C307.8 1312.6 305.8 1317.1 305.2 1319.0" fill="none" stroke="#2b2233" stroke-width="2.4" stroke-opacity="0.85"/><path d="M294.2 1326.3C295.4 1326.0 298.7 1325.3 301.2 1324.7C303.6 1324.1 305.4 1323.4 308.8 1322.8C312.2 1322.1 317.2 1321.1 321.5 1320.9C325.7 1320.7 330.8 1321.0 334.1 1321.5C337.5 1322.0 339.3 1323.3 341.8 1324.0C344.2 1324.8 347.6 1325.6 348.7 1325.9" fill="none" stroke="#2b2233" stroke-width="2.6" stroke-opacity="0.85"/><path d="M311.9 1015.9C312.0 1024.3 312.4 1049.7 312.3 1066.6C312.3 1083.5 311.9 1100.4 311.6 1117.3C311.2 1134.2 310.5 1159.6 310.3 1168.0" fill="none" stroke="#bdb0c4" stroke-width="1.8" stroke-opacity="0.8"/></g>
<path d="M317.7 1296.1C316.3 1299.7 307.1 1313.9 309.4 1317.4C311.7 1321.0 330.2 1321.0 331.6 1317.4C333.0 1313.9 320.0 1299.7 317.7 1296.1" fill="#fdfdfd" filter="url(#fb1)"/>
<g filter="url(#fb1)" fill="#3b2f4f"><circle cx="242.7" cy="1193.7" r="1.5" fill-opacity="0.97"/><circle cx="256.1" cy="1183.7" r="0.8" fill-opacity="0.71"/><circle cx="275.6" cy="1199.5" r="1.6" fill-opacity="0.51"/><circle cx="248.4" cy="1205.3" r="1.3" fill-opacity="0.77"/><circle cx="267.1" cy="1204.5" r="1.1" fill-opacity="0.95"/><circle cx="258.8" cy="1198.7" r="1.5" fill-opacity="0.53"/><circle cx="253.0" cy="1200.8" r="0.8" fill-opacity="0.93"/><circle cx="260.3" cy="1210.1" r="1.7" fill-opacity="0.93"/><circle cx="249.9" cy="1226.3" r="1.3" fill-opacity="0.82"/><circle cx="266.7" cy="1224.6" r="1.4" fill-opacity="0.98"/><circle cx="266.6" cy="1199.3" r="1.1" fill-opacity="0.54"/><circle cx="260.9" cy="1206.6" r="1.1" fill-opacity="0.78"/><circle cx="277.6" cy="1204.3" r="1.1" fill-opacity="0.62"/><circle cx="264.2" cy="1194.6" r="1.1" fill-opacity="0.71"/><circle cx="256.7" cy="1201.0" r="1.7" fill-opacity="0.46"/><circle cx="258.0" cy="1186.6" r="0.8" fill-opacity="0.88"/><circle cx="246.6" cy="1212.8" r="0.8" fill-opacity="0.48"/><circle cx="271.6" cy="1224.3" r="1.0" fill-opacity="0.87"/><circle cx="286.0" cy="1194.8" r="1.1" fill-opacity="0.65"/><circle cx="235.8" cy="1201.6" r="0.9" fill-opacity="0.86"/><circle cx="265.5" cy="1186.9" r="0.8" fill-opacity="0.97"/><circle cx="268.0" cy="1208.5" r="1.3" fill-opacity="0.95"/><circle cx="242.2" cy="1221.3" r="1.3" fill-opacity="0.62"/><circle cx="254.7" cy="1209.1" r="0.9" fill-opacity="0.53"/><circle cx="241.6" cy="1175.8" r="0.9" fill-opacity="0.48"/><circle cx="274.0" cy="1203.1" r="1.2" fill-opacity="0.58"/><circle cx="237.8" cy="1194.6" r="1.2" fill-opacity="0.68"/><circle cx="285.2" cy="1210.9" r="0.8" fill-opacity="0.72"/><circle cx="261.6" cy="1200.0" r="1.5" fill-opacity="0.97"/><circle cx="242.4" cy="1192.4" r="0.9" fill-opacity="0.69"/><circle cx="272.8" cy="1218.0" r="1.1" fill-opacity="0.70"/><circle cx="283.4" cy="1203.9" r="1.7" fill-opacity="0.70"/><circle cx="237.0" cy="1205.1" r="1.2" fill-opacity="0.61"/><circle cx="252.0" cy="1206.9" r="1.1" fill-opacity="0.99"/><circle cx="393.7" cy="1200.8" r="1.2" fill-opacity="0.64"/><circle cx="384.8" cy="1207.8" r="1.5" fill-opacity="0.93"/><circle cx="361.3" cy="1216.1" r="1.5" fill-opacity="0.83"/><circle cx="364.7" cy="1191.0" r="1.1" fill-opacity="0.84"/><circle cx="373.1" cy="1214.2" r="1.5" fill-opacity="0.83"/><circle cx="367.5" cy="1224.9" r="1.4" fill-opacity="0.77"/><circle cx="392.3" cy="1204.8" r="1.0" fill-opacity="0.82"/><circle cx="352.7" cy="1207.8" r="1.4" fill-opacity="0.89"/><circle cx="365.2" cy="1214.6" r="1.5" fill-opacity="0.91"/><circle cx="361.3" cy="1218.0" r="1.6" fill-opacity="0.83"/><circle cx="408.2" cy="1200.6" r="1.3" fill-opacity="0.74"/><circle cx="388.4" cy="1218.8" r="1.6" fill-opacity="0.71"/><circle cx="368.5" cy="1190.6" r="1.5" fill-opacity="0.54"/><circle cx="379.3" cy="1192.3" r="1.4" fill-opacity="0.68"/><circle cx="360.0" cy="1193.1" r="1.4" fill-opacity="0.85"/><circle cx="383.6" cy="1204.9" r="1.2" fill-opacity="0.81"/><circle cx="379.8" cy="1217.4" r="1.4" fill-opacity="0.47"/><circle cx="366.8" cy="1205.1" r="0.8" fill-opacity="0.52"/><circle cx="372.6" cy="1209.2" r="1.0" fill-opacity="0.47"/><circle cx="363.6" cy="1205.9" r="1.4" fill-opacity="0.77"/><circle cx="378.1" cy="1223.4" r="0.8" fill-opacity="0.67"/><circle cx="373.6" cy="1213.1" r="0.9" fill-opacity="0.91"/><circle cx="373.5" cy="1205.7" r="1.4" fill-opacity="0.50"/><circle cx="364.6" cy="1201.7" r="1.3" fill-opacity="0.98"/><circle cx="381.7" cy="1195.5" r="1.5" fill-opacity="0.80"/><circle cx="371.1" cy="1207.6" r="1.3" fill-opacity="0.76"/><circle cx="347.8" cy="1336.6" r="1.3" fill-opacity="0.64"/><circle cx="325.3" cy="1338.9" r="0.9" fill-opacity="0.76"/><circle cx="321.3" cy="1337.7" r="1.4" fill-opacity="0.94"/><circle cx="318.2" cy="1341.6" r="1.0" fill-opacity="0.61"/><circle cx="333.7" cy="1338.4" r="1.7" fill-opacity="0.95"/><circle cx="319.2" cy="1337.5" r="1.7" fill-opacity="0.72"/><circle cx="318.2" cy="1340.6" r="1.7" fill-opacity="0.72"/><circle cx="322.7" cy="1342.9" r="0.9" fill-opacity="0.79"/><circle cx="318.0" cy="1340.0" r="1.5" fill-opacity="0.90"/><circle cx="336.1" cy="1339.4" r="1.0" fill-opacity="0.96"/><circle cx="326.3" cy="1336.4" r="1.0" fill-opacity="0.54"/><circle cx="332.5" cy="1338.8" r="1.3" fill-opacity="0.71"/><circle cx="317.5" cy="1335.2" r="1.5" fill-opacity="0.51"/><circle cx="325.5" cy="1336.0" r="1.3" fill-opacity="0.63"/><circle cx="321.8" cy="1343.1" r="1.2" fill-opacity="0.65"/><circle cx="324.6" cy="1334.3" r="0.8" fill-opacity="0.59"/></g>
</g>
<path d="M31.4 1013.8C32.0 1016.3 32.7 1023.0 35.2 1029.0C37.8 1035.0 42.8 1043.3 46.6 1049.9C50.4 1056.6 55.4 1062.3 58.0 1069.0C60.7 1075.6 61.2 1083.9 62.8 1089.9C64.4 1095.9 65.5 1100.4 67.6 1105.1C69.6 1109.9 72.3 1114.8 75.2 1118.4C78.0 1122.1 81.5 1125.1 84.7 1127.0C87.8 1128.9 91.0 1129.8 94.2 1129.8C97.4 1129.8 100.8 1129.2 103.7 1127.0C106.6 1124.8 109.3 1120.8 111.3 1116.5C113.4 1112.3 115.2 1105.8 116.1 1101.3C117.0 1096.9 117.1 1094.3 116.6 1089.9C116.2 1085.5 115.4 1079.8 113.2 1074.7C111.1 1069.6 107.5 1064.1 103.7 1059.5C99.9 1054.9 95.5 1050.9 90.4 1047.1C85.3 1043.3 79.0 1039.8 73.3 1036.6C67.6 1033.5 61.5 1030.6 56.1 1028.1C50.8 1025.5 45.7 1023.8 40.9 1021.4C36.2 1019.0 29.8 1015.1 27.6 1013.8" fill="none" stroke="#0d0d0d" stroke-width="2.2"/>
<path d="M604.4 1019.5C601.8 1020.9 595.5 1024.3 589.2 1028.1C582.8 1031.9 573.9 1037.1 566.3 1042.3C558.7 1047.6 550.5 1053.1 543.5 1059.5C536.5 1065.8 529.5 1073.7 524.5 1080.4C519.4 1087.0 515.4 1093.7 513.1 1099.4C510.7 1105.1 510.2 1110.2 510.2 1114.6C510.2 1119.1 511.0 1122.7 513.1 1126.0C515.1 1129.4 519.1 1132.9 522.6 1134.6C526.1 1136.3 529.9 1137.1 534.0 1136.5C538.1 1135.9 543.5 1133.5 547.3 1130.8C551.1 1128.1 554.0 1124.6 556.8 1120.3C559.7 1116.1 561.9 1110.8 564.4 1105.1C567.0 1099.4 569.5 1091.8 572.0 1086.1C574.6 1080.4 576.8 1075.6 579.6 1070.9C582.5 1066.1 585.0 1063.6 589.2 1057.6C593.3 1051.5 601.8 1038.5 604.4 1034.7" fill="none" stroke="#0d0d0d" stroke-width="2.2"/>
<path d="M303.0 1327.7C303.3 1320.1 303.8 1298.3 304.4 1282.2C304.9 1266.2 305.8 1250.5 306.3 1231.4C306.8 1212.4 307.0 1182.8 307.4 1168.1C307.8 1153.4 308.1 1150.5 308.8 1143.2C309.4 1135.8 309.8 1128.7 311.0 1124.1C312.3 1119.5 314.4 1117.5 316.2 1115.6C318.0 1113.7 320.0 1112.7 321.9 1112.7C323.8 1112.7 326.0 1113.7 327.6 1115.6C329.2 1117.5 330.6 1119.5 331.4 1124.1C332.2 1128.7 332.3 1135.8 332.5 1143.2C332.8 1150.5 332.7 1153.4 332.9 1168.1C333.2 1182.8 333.5 1212.4 334.1 1231.4C334.6 1250.5 334.9 1266.2 336.0 1282.2C337.0 1298.3 340.8 1319.9 340.5 1327.7C340.2 1335.5 336.4 1329.2 334.1 1329.0C331.7 1328.8 329.4 1326.8 326.4 1326.5C323.5 1326.3 319.3 1327.1 316.4 1327.7C313.4 1328.3 311.0 1330.4 308.8 1330.4C306.5 1330.4 304.0 1328.1 303.0 1327.7" fill="none" stroke="#0d0d0d" stroke-width="2.2"/>
<path d="M113.2 1072.8C115.4 1074.0 120.5 1078.2 126.5 1080.4C132.6 1082.6 141.7 1084.7 149.4 1086.1C157.0 1087.5 165.2 1088.4 172.2 1088.9C179.2 1089.5 185.5 1089.7 191.2 1089.5C196.9 1089.4 203.9 1088.2 206.4 1088.0" fill="none" stroke="#0d0d0d" stroke-width="2.3" stroke-dasharray="6.7 3.7"/>
<path d="M289.2 998.6C289.0 1002.4 288.5 1014.8 288.2 1021.4C287.9 1028.1 287.6 1031.9 287.3 1038.5C287.0 1045.2 286.5 1057.6 286.3 1061.4" fill="none" stroke="#0d0d0d" stroke-width="2.3" stroke-dasharray="6.7 3.7"/>
<path d="M226.4 1137.5C226.2 1135.2 225.3 1128.9 225.5 1124.1C225.6 1119.4 226.7 1114.6 227.4 1108.9C228.0 1103.2 228.3 1095.3 229.3 1089.9C230.2 1084.5 230.5 1080.1 233.1 1076.6C235.6 1073.1 239.4 1070.9 244.5 1069.0C249.5 1067.1 256.5 1066.4 263.5 1065.2C270.5 1063.9 280.0 1062.5 286.3 1061.4C292.7 1060.3 295.9 1059.6 301.5 1058.5C307.2 1057.4 316.9 1055.3 320.0 1054.7" fill="none" stroke="#0d0d0d" stroke-width="2.3" stroke-dasharray="6.7 3.7"/>
<path d="M298.7 1154.6C297.6 1153.3 295.0 1149.5 292.0 1147.0C289.0 1144.4 285.4 1141.3 280.6 1139.4C275.9 1137.5 269.5 1136.3 263.5 1135.6C257.5 1134.8 250.7 1134.3 244.5 1134.6C238.3 1134.9 232.1 1135.4 226.4 1137.5C220.7 1139.5 214.8 1143.2 210.2 1147.0C205.6 1150.8 201.7 1155.5 198.8 1160.3C196.0 1165.0 194.7 1170.1 193.1 1175.5C191.5 1180.9 190.1 1186.9 189.3 1192.6C188.5 1198.3 188.4 1205.0 188.4 1209.7C188.4 1214.5 187.9 1218.0 189.3 1221.2C190.7 1224.3 193.4 1227.0 196.9 1228.8C200.4 1230.5 204.8 1231.3 210.2 1231.6C215.6 1231.9 222.9 1231.0 229.3 1230.7C235.6 1230.4 241.9 1229.6 248.3 1229.7C254.6 1229.9 261.6 1230.5 267.3 1231.6C273.0 1232.7 278.4 1235.0 282.5 1236.4C286.6 1237.8 288.9 1239.9 292.0 1240.2C295.2 1240.5 300.0 1238.6 301.5 1238.3" fill="none" stroke="#0d0d0d" stroke-width="2.3" stroke-dasharray="6.7 3.7"/>
<path d="M63.8 1119.4C65.7 1121.1 72.0 1125.9 75.2 1129.8C78.3 1133.8 81.2 1139.0 82.8 1143.2C84.4 1147.3 85.3 1151.1 84.7 1154.6C84.0 1158.1 81.8 1161.9 79.0 1164.1C76.1 1166.3 71.7 1167.4 67.6 1167.9C63.4 1168.4 58.4 1167.9 54.2 1166.9C50.1 1166.0 45.7 1163.9 42.8 1162.2C40.0 1160.4 38.1 1157.4 37.1 1156.5" fill="none" stroke="#0d0d0d" stroke-width="2.3" stroke-dasharray="6.7 3.7"/>
<path d="M137.9 1172.6C140.5 1173.1 148.7 1173.1 153.2 1175.5C157.6 1177.9 162.1 1182.5 164.6 1186.9C167.1 1191.4 168.2 1197.1 168.0 1202.1C167.8 1207.2 166.1 1213.1 163.6 1217.4C161.2 1221.6 157.1 1225.4 153.2 1227.8C149.2 1230.2 144.6 1231.5 139.8 1231.6C135.1 1231.8 129.1 1231.0 124.6 1228.8C120.2 1226.5 115.9 1222.7 113.2 1218.3C110.5 1213.9 108.6 1207.4 108.5 1202.1C108.3 1196.9 109.9 1191.2 112.3 1186.9C114.6 1182.6 118.4 1178.8 122.7 1176.5C127.0 1174.1 135.4 1173.3 137.9 1172.6" fill="none" stroke="#0d0d0d" stroke-width="2.3" stroke-dasharray="6.7 3.7"/>
<path d="M44.7 1202.1C45.7 1200.6 47.3 1194.7 50.4 1192.6C53.6 1190.6 59.3 1189.6 63.8 1189.8C68.2 1189.9 72.9 1191.5 77.1 1193.6C81.2 1195.6 85.0 1199.1 88.5 1202.1C92.0 1205.1 96.4 1210.1 98.0 1211.6" fill="none" stroke="#0d0d0d" stroke-width="2.3" stroke-dasharray="6.7 3.7"/>
<path d="M54.2 1216.4C54.9 1214.3 55.5 1207.2 58.0 1204.0C60.6 1200.9 65.3 1198.2 69.5 1197.4C73.6 1196.6 78.8 1197.5 82.8 1199.3C86.7 1201.0 91.0 1204.8 93.2 1207.8C95.5 1210.9 96.6 1213.9 96.1 1217.4C95.6 1220.8 93.2 1225.8 90.4 1228.8C87.5 1231.8 83.1 1234.5 79.0 1235.4C74.9 1236.4 69.3 1235.9 65.7 1234.5C62.0 1233.0 59.0 1229.9 57.1 1226.9C55.2 1223.9 54.7 1218.1 54.2 1216.4" fill="none" stroke="#0d0d0d" stroke-width="2.3" stroke-dasharray="6.7 3.7"/>
<path d="M44.7 1202.1C45.4 1204.7 46.0 1212.3 48.5 1217.4C51.1 1222.4 55.5 1227.8 59.9 1232.6C64.4 1237.3 69.8 1241.8 75.2 1245.9C80.6 1250.0 86.9 1253.2 92.3 1257.3C97.7 1261.4 102.4 1266.5 107.5 1270.6C112.6 1274.7 118.3 1278.9 122.7 1282.0C127.2 1285.2 130.3 1287.7 134.1 1289.6C137.9 1291.5 141.7 1293.4 145.6 1293.4C149.4 1293.4 153.2 1291.9 157.0 1289.6C160.8 1287.4 165.5 1283.6 168.4 1280.1C171.2 1276.6 173.5 1272.5 174.1 1268.7C174.7 1264.9 173.8 1260.5 172.2 1257.3C170.6 1254.1 167.7 1251.6 164.6 1249.7C161.4 1247.8 157.6 1247.0 153.2 1245.9C148.7 1244.8 142.4 1244.5 137.9 1243.0C133.5 1241.6 130.3 1239.7 126.5 1237.3C122.7 1235.0 118.9 1232.1 115.1 1228.8C111.3 1225.4 106.6 1220.2 103.7 1217.4C100.8 1214.5 98.9 1212.6 98.0 1211.6" fill="none" stroke="#0d0d0d" stroke-width="2.3" stroke-dasharray="6.7 3.7"/>
<path d="M160.8 1301.1C161.4 1299.5 161.7 1294.7 164.6 1291.5C167.4 1288.4 172.8 1285.5 177.9 1282.0C183.0 1278.5 189.0 1274.4 195.0 1270.6C201.0 1266.8 207.7 1262.7 214.0 1259.2C220.4 1255.7 226.7 1252.4 233.1 1249.7C239.4 1247.0 246.1 1244.1 252.1 1243.0C258.1 1241.9 264.1 1242.2 269.2 1243.0C274.3 1243.8 279.0 1245.4 282.5 1247.8C286.0 1250.2 288.7 1253.8 290.1 1257.3C291.6 1260.8 291.7 1265.2 291.1 1268.7C290.4 1272.2 289.0 1274.7 286.3 1278.2C283.6 1281.7 279.4 1286.2 274.9 1289.6C270.5 1293.1 264.8 1296.0 259.7 1299.2C254.6 1302.3 249.5 1305.8 244.5 1308.7C239.4 1311.5 234.3 1314.1 229.3 1316.3C224.2 1318.5 219.1 1320.7 214.0 1322.0C209.0 1323.3 203.9 1323.9 198.8 1323.9C193.7 1323.9 188.4 1323.3 183.6 1322.0C178.8 1320.7 173.9 1318.5 170.3 1316.3C166.6 1314.1 163.3 1311.2 161.7 1308.7C160.1 1306.1 160.9 1302.3 160.8 1301.1" fill="none" stroke="#0d0d0d" stroke-width="2.3" stroke-dasharray="6.7 3.7"/>
<path d="M307.3 1276.3C303.8 1277.9 292.4 1282.7 286.3 1285.8C280.3 1289.0 275.5 1292.2 271.1 1295.4C266.7 1298.5 262.5 1301.4 259.7 1304.9C256.8 1308.3 254.3 1313.1 254.0 1316.3C253.7 1319.4 254.9 1322.1 257.8 1323.9C260.6 1325.6 265.7 1326.3 271.1 1326.7C276.5 1327.2 283.8 1327.1 290.1 1326.7C296.5 1326.4 306.0 1325.2 309.2 1324.8" fill="none" stroke="#0d0d0d" stroke-width="2.3" stroke-dasharray="6.7 3.7"/>
<path d="M298.5 1276.3C298.5 1268.4 298.7 1244.6 298.9 1228.8C299.0 1212.9 299.4 1197.4 299.6 1181.2C299.9 1165.0 299.6 1142.4 300.4 1131.7C301.1 1121.1 302.0 1121.2 304.2 1117.5C306.3 1113.7 310.4 1111.0 313.3 1109.3C316.3 1107.6 319.3 1107.1 321.9 1107.0C324.4 1107.0 326.3 1107.7 328.5 1108.9C330.8 1110.2 333.5 1111.5 335.2 1114.6C336.9 1117.8 337.9 1121.6 338.6 1127.9C339.3 1134.3 339.3 1140.6 339.6 1152.7C339.9 1164.7 340.3 1186.0 340.3 1200.2C340.4 1214.5 340.1 1225.6 339.9 1238.3C339.8 1251.0 339.6 1270.0 339.6 1276.3" fill="none" stroke="#0d0d0d" stroke-width="2.3" stroke-dasharray="6.7 3.7"/>
<path d="M300.0 1055.7C303.2 1055.3 312.7 1053.9 319.0 1053.8C325.4 1053.6 332.3 1054.1 338.0 1054.7C343.8 1055.3 350.1 1057.4 353.3 1057.6C356.4 1057.7 353.3 1055.8 357.1 1055.7C360.9 1055.5 369.8 1055.8 376.1 1056.6C382.4 1057.4 391.9 1059.8 395.1 1060.4" fill="none" stroke="#0d0d0d" stroke-width="2.3" stroke-dasharray="6.7 3.7"/>
<path d="M359.9 998.6C360.1 1002.4 360.2 1015.4 360.9 1021.4C361.5 1027.4 363.7 1030.3 363.7 1034.7C363.7 1039.2 362.0 1044.6 360.9 1048.0C359.8 1051.5 357.7 1054.4 357.1 1055.7" fill="none" stroke="#0d0d0d" stroke-width="2.3" stroke-dasharray="6.7 3.7"/>
<path d="M408.4 1078.5C409.1 1081.3 411.4 1089.6 412.2 1095.6C413.0 1101.6 412.9 1108.3 413.2 1114.6C413.5 1121.0 414.0 1130.5 414.1 1133.7" fill="none" stroke="#0d0d0d" stroke-width="2.3" stroke-dasharray="6.7 3.7"/>
<path d="M340.9 1152.7C342.3 1151.1 345.5 1145.9 349.5 1143.2C353.4 1140.5 358.7 1138.1 364.7 1136.5C370.7 1134.9 377.4 1134.0 385.6 1133.7C393.8 1133.3 406.8 1133.3 414.1 1134.6C421.4 1135.9 425.4 1138.2 429.4 1141.3C433.3 1144.3 436.2 1147.6 437.9 1152.7C439.7 1157.7 439.3 1163.8 439.8 1171.7C440.3 1179.6 440.5 1193.6 440.8 1200.2C441.1 1206.9 442.2 1208.2 441.7 1211.6C441.2 1215.1 440.0 1218.8 437.9 1221.2C435.9 1223.5 434.0 1225.0 429.4 1225.9C424.8 1226.9 416.7 1226.4 410.3 1226.9C404.0 1227.3 397.7 1227.8 391.3 1228.8C385.0 1229.7 378.0 1231.1 372.3 1232.6C366.6 1234.0 362.3 1236.1 357.1 1237.3C351.8 1238.6 343.6 1239.7 340.9 1240.2" fill="none" stroke="#0d0d0d" stroke-width="2.3" stroke-dasharray="6.7 3.7"/>
<path d="M359.0 1259.2C359.6 1257.6 359.9 1252.4 362.8 1249.7C365.6 1247.0 370.7 1244.6 376.1 1243.0C381.5 1241.5 388.8 1240.5 395.1 1240.2C401.5 1239.9 407.8 1239.9 414.1 1241.1C420.5 1242.4 426.8 1244.8 433.2 1247.8C439.5 1250.8 445.8 1254.8 452.2 1259.2C458.5 1263.6 466.1 1270.0 471.2 1274.4C476.3 1278.9 480.4 1281.7 482.6 1285.8C484.8 1290.0 485.2 1295.4 484.5 1299.2C483.9 1303.0 481.7 1306.1 478.8 1308.7C476.0 1311.2 471.8 1312.8 467.4 1314.4C463.0 1316.0 457.9 1317.9 452.2 1318.2C446.5 1318.5 439.5 1317.5 433.2 1316.3C426.8 1315.0 420.5 1313.1 414.1 1310.6C407.8 1308.0 400.8 1304.5 395.1 1301.1C389.4 1297.6 384.7 1293.8 379.9 1289.6C375.1 1285.5 369.9 1280.1 366.6 1276.3C363.3 1272.5 361.2 1269.7 359.9 1266.8C358.7 1264.0 359.1 1260.5 359.0 1259.2" fill="none" stroke="#0d0d0d" stroke-width="2.3" stroke-dasharray="6.7 3.7"/>
<path d="M339.6 1276.3C341.9 1277.3 348.8 1279.2 353.3 1282.0C357.8 1284.9 362.1 1289.3 366.6 1293.4C371.0 1297.6 376.7 1303.3 379.9 1306.8C383.1 1310.3 385.6 1311.8 385.6 1314.4C385.6 1316.9 382.8 1320.4 379.9 1322.0C377.0 1323.6 372.9 1323.7 368.5 1323.9C364.0 1324.0 357.5 1323.3 353.3 1322.9C349.0 1322.6 344.5 1322.1 342.8 1322.0" fill="none" stroke="#0d0d0d" stroke-width="2.3" stroke-dasharray="6.7 3.7"/>
<path d="M470.3 1192.6C470.7 1190.1 471.4 1181.5 473.1 1177.4C474.9 1173.3 477.2 1169.8 480.7 1167.9C484.2 1166.0 489.6 1165.7 494.0 1166.0C498.5 1166.3 504.0 1167.3 507.4 1169.8C510.7 1172.3 513.4 1176.8 514.0 1181.2C514.6 1185.6 512.9 1191.4 511.2 1196.4C509.4 1201.5 506.7 1207.8 503.5 1211.6C500.4 1215.5 496.3 1218.0 492.1 1219.3C488.0 1220.5 482.3 1220.8 478.8 1219.3C475.3 1217.7 472.6 1214.2 471.2 1209.7C469.8 1205.3 470.4 1195.5 470.3 1192.6" fill="none" stroke="#0d0d0d" stroke-width="2.3" stroke-dasharray="6.7 3.7"/>
<path d="M589.2 1169.8C586.9 1170.4 580.3 1171.7 575.8 1173.6C571.4 1175.5 566.6 1178.0 562.5 1181.2C558.4 1184.4 555.2 1188.8 551.1 1192.6C547.0 1196.4 543.2 1200.2 537.8 1204.0C532.4 1207.8 525.1 1212.0 518.8 1215.5C512.4 1218.9 505.1 1221.2 499.7 1225.0C494.4 1228.8 489.6 1232.9 486.4 1238.3C483.3 1243.7 481.0 1251.3 480.7 1257.3C480.4 1263.3 482.6 1270.0 484.5 1274.4C486.4 1278.9 488.6 1282.0 492.1 1283.9C495.6 1285.8 500.7 1286.5 505.5 1285.8C510.2 1285.2 516.2 1283.0 520.7 1280.1C525.1 1277.3 528.3 1273.2 532.1 1268.7C535.9 1264.3 539.7 1258.6 543.5 1253.5C547.3 1248.4 551.1 1243.0 554.9 1238.3C558.7 1233.5 562.2 1229.4 566.3 1225.0C570.4 1220.5 575.8 1215.5 579.6 1211.6C583.4 1207.8 587.6 1203.7 589.2 1202.1" fill="none" stroke="#0d0d0d" stroke-width="2.3" stroke-dasharray="6.7 3.7"/>
<path d="M551.1 1197.4C551.7 1195.3 552.4 1188.2 554.9 1185.0C557.4 1181.8 562.2 1179.1 566.3 1178.4C570.4 1177.6 576.2 1178.2 579.6 1180.3C583.1 1182.3 585.8 1187.1 587.3 1190.7C588.7 1194.4 589.2 1198.3 588.2 1202.1C587.3 1205.9 584.6 1211.0 581.5 1213.5C578.5 1216.1 573.9 1217.4 570.1 1217.4C566.3 1217.4 561.9 1216.9 558.7 1213.5C555.5 1210.2 552.4 1200.1 551.1 1197.4" fill="none" stroke="#0d0d0d" stroke-width="2.3" stroke-dasharray="6.7 3.7"/>
<path d="M583.4 1103.2C581.2 1104.8 574.6 1108.6 570.1 1112.7C565.7 1116.8 560.1 1122.9 556.8 1127.9C553.5 1133.0 551.1 1139.0 550.2 1143.2C549.2 1147.3 549.4 1150.0 551.1 1152.7C552.9 1155.4 556.5 1158.4 560.6 1159.3C564.7 1160.3 571.1 1159.3 575.8 1158.4C580.6 1157.4 586.9 1154.4 589.2 1153.6" fill="none" stroke="#0d0d0d" stroke-width="2.3" stroke-dasharray="6.7 3.7"/>
<path d="M442.7 1088.9C445.8 1087.7 455.4 1084.3 461.7 1081.3C468.0 1078.3 474.4 1074.5 480.7 1070.9C487.1 1067.2 493.4 1063.3 499.7 1059.5C506.1 1055.7 512.4 1051.9 518.8 1048.0C525.1 1044.2 532.1 1040.1 537.8 1036.6C543.5 1033.1 546.7 1030.9 553.0 1027.1C559.4 1023.3 572.0 1016.0 575.8 1013.8" fill="none" stroke="#0d0d0d" stroke-width="2.3" stroke-dasharray="6.7 3.7"/>
</g>
<text x="121.80" y="1151.30" font-size="29.17" fill="#7b1a1c">LH</text>
<text x="215.50" y="1170.80" font-size="29.17" fill="#7b1a1c">DMH</text>
<text x="176.60" y="1308.80" font-size="29.17" fill="#7b1a1c">VMH</text>
<text x="206.20" y="1354.80" font-size="29.17" fill="#7b1a1c">ARC</text>
<line x1="250.20" y1="1330.50" x2="271.95" y2="1315.09" stroke="#7b1a1c" stroke-width="1.3"/>
<path d="M279.7 1309.6L274.0 1318.0L269.9 1312.2Z" fill="#7b1a1c"/>
<g clip-path="url(#cf2)">
<rect x="29.10" y="1528.70" width="560.00" height="354.30" fill="#fcfbfd"/>
<path d="M10.0 1768.0C13.2 1768.6 23.9 1767.4 29.1 1771.7C34.3 1776.0 35.4 1789.1 41.1 1793.8C46.8 1798.5 54.3 1795.9 63.3 1800.1C72.3 1804.3 83.3 1812.8 94.9 1819.1C106.5 1825.4 121.3 1832.3 132.9 1838.1C144.5 1843.9 154.0 1848.6 164.5 1853.9C175.0 1859.2 186.6 1866.5 196.1 1869.7C205.6 1872.9 211.9 1873.4 221.4 1872.9C230.9 1872.4 242.6 1868.2 253.1 1866.6C263.6 1865.0 276.8 1863.1 284.7 1863.4C292.6 1863.7 295.2 1867.2 300.5 1868.2C305.8 1869.2 308.5 1870.5 316.4 1869.7C324.3 1868.9 337.5 1863.7 348.0 1863.4C358.5 1863.2 369.1 1868.2 379.6 1868.2C390.2 1868.2 400.8 1866.3 411.3 1863.4C421.9 1860.5 432.4 1854.5 442.9 1850.8C453.4 1847.1 463.9 1846.0 474.5 1841.3C485.1 1836.5 495.6 1828.6 506.2 1822.3C516.8 1816.0 528.3 1810.1 537.8 1803.3C547.3 1796.5 556.2 1786.0 563.1 1781.2C570.0 1776.5 572.8 1776.7 578.9 1774.8C585.0 1772.9 596.5 1770.8 600.0 1770.0L640 1500L-20 1500Z" fill="#efeef5" stroke="#c5bdd8" stroke-width="2"/>
<clipPath id="ct2"><path d="M10.0 1768.0C13.2 1768.6 23.9 1767.4 29.1 1771.7C34.3 1776.0 35.4 1789.1 41.1 1793.8C46.8 1798.5 54.3 1795.9 63.3 1800.1C72.3 1804.3 83.3 1812.8 94.9 1819.1C106.5 1825.4 121.3 1832.3 132.9 1838.1C144.5 1843.9 154.0 1848.6 164.5 1853.9C175.0 1859.2 186.6 1866.5 196.1 1869.7C205.6 1872.9 211.9 1873.4 221.4 1872.9C230.9 1872.4 242.6 1868.2 253.1 1866.6C263.6 1865.0 276.8 1863.1 284.7 1863.4C292.6 1863.7 295.2 1867.2 300.5 1868.2C305.8 1869.2 308.5 1870.5 316.4 1869.7C324.3 1868.9 337.5 1863.7 348.0 1863.4C358.5 1863.2 369.1 1868.2 379.6 1868.2C390.2 1868.2 400.8 1866.3 411.3 1863.4C421.9 1860.5 432.4 1854.5 442.9 1850.8C453.4 1847.1 463.9 1846.0 474.5 1841.3C485.1 1836.5 495.6 1828.6 506.2 1822.3C516.8 1816.0 528.3 1810.1 537.8 1803.3C547.3 1796.5 556.2 1786.0 563.1 1781.2C570.0 1776.5 572.8 1776.7 578.9 1774.8C585.0 1772.9 596.5 1770.8 600.0 1770.0L640 1500L-20 1500Z"/></clipPath>
<g clip-path="url(#ct2)">
<rect x="29.1" y="1528.7" width="560" height="354.3" filter="url(#sp2b)"/>
<rect x="29.1" y="1528.7" width="560" height="354.3" filter="url(#sp2)"/>
<g filter="url(#fb2)"><path d="M305.7 1740.4C302.8 1744.8 302.6 1760.2 301.7 1772.1C300.9 1784.0 300.4 1798.8 300.4 1811.8C300.4 1824.8 298.0 1843.7 301.7 1850.1C305.5 1856.5 319.5 1856.5 322.9 1850.1C326.3 1843.7 322.6 1824.8 322.2 1811.8C321.9 1798.8 321.5 1783.1 320.9 1772.1C320.4 1761.1 321.5 1751.0 318.9 1745.7C316.4 1740.4 308.6 1736.0 305.7 1740.4Z" fill="#d9d0e4" fill-opacity="0.95"/><path d="M316.3 1769.5C316.1 1773.2 315.3 1784.9 315.0 1792.0C314.6 1799.0 314.3 1805.8 314.3 1811.8C314.3 1817.7 314.8 1825.0 315.0 1827.6" fill="none" stroke="#ffffff" stroke-width="3.4" stroke-opacity="0.95"/><path d="M309.7 1521.1C309.7 1529.9 310.0 1558.5 309.9 1573.9C309.9 1589.3 309.5 1607.0 309.4 1613.6" fill="none" stroke="#c9bfd8" stroke-width="2.4" stroke-opacity="0.9"/></g>
<g filter="url(#fb5)"><path d="M246.2 1856.7C251.8 1857.1 268.5 1858.5 279.3 1859.3C290.1 1860.2 300.4 1862.0 311.0 1862.0C321.6 1862.0 332.6 1860.2 342.7 1859.3C352.8 1858.5 366.9 1857.1 371.8 1856.7" fill="none" stroke="#4a4480" stroke-width="9" stroke-opacity="0.45"/></g>
</g>
<path d="M25.8 1543.2C26.4 1545.7 27.1 1552.1 29.5 1558.0C32.0 1563.8 37.0 1571.8 40.7 1578.3C44.5 1584.8 49.3 1590.3 51.9 1596.8C54.6 1603.2 55.1 1611.2 56.6 1617.1C58.2 1622.9 59.3 1627.3 61.3 1631.9C63.3 1636.5 65.9 1641.3 68.7 1644.8C71.5 1648.3 75.0 1651.3 78.1 1653.1C81.2 1655.0 84.3 1655.9 87.4 1655.9C90.5 1655.9 93.9 1655.3 96.7 1653.1C99.5 1651.0 102.2 1647.1 104.2 1643.0C106.2 1638.8 108.0 1632.5 108.9 1628.2C109.7 1623.9 109.9 1621.4 109.4 1617.1C109.0 1612.8 108.2 1607.2 106.1 1602.3C103.9 1597.4 100.5 1592.0 96.7 1587.5C93.0 1583.1 88.6 1579.2 83.7 1575.5C78.7 1571.8 72.5 1568.4 66.9 1565.4C61.3 1562.3 55.4 1559.5 50.1 1557.1C44.8 1554.6 39.8 1552.9 35.1 1550.6C30.5 1548.3 24.3 1544.4 22.1 1543.2" fill="none" stroke="#0d0d0d" stroke-width="2.2"/>
<path d="M587.9 1548.7C585.4 1550.1 579.2 1553.4 573.0 1557.1C566.7 1560.8 558.0 1565.8 550.6 1570.9C543.1 1576.0 535.0 1581.4 528.2 1587.5C521.3 1593.7 514.5 1601.4 509.5 1607.9C504.5 1614.3 500.6 1620.8 498.3 1626.3C496.0 1631.9 495.5 1636.8 495.5 1641.1C495.5 1645.4 496.3 1649.0 498.3 1652.2C500.3 1655.4 504.2 1658.8 507.6 1660.5C511.1 1662.2 514.8 1663.0 518.8 1662.3C522.9 1661.7 528.2 1659.4 531.9 1656.8C535.6 1654.2 538.4 1650.8 541.2 1646.6C544.0 1642.5 546.2 1637.4 548.7 1631.9C551.2 1626.3 553.7 1618.9 556.2 1613.4C558.7 1607.9 560.8 1603.2 563.6 1598.6C566.4 1594.0 568.9 1591.5 573.0 1585.7C577.0 1579.8 585.4 1567.2 587.9 1563.5" fill="none" stroke="#0d0d0d" stroke-width="2.2"/>
<path d="M292.3 1848.0C292.5 1840.6 293.1 1819.4 293.6 1803.8C294.1 1788.3 295.0 1773.0 295.5 1754.5C296.0 1736.0 296.2 1707.3 296.6 1693.0C297.0 1678.7 297.3 1675.9 297.9 1668.8C298.5 1661.7 298.9 1654.8 300.1 1650.3C301.3 1645.9 303.4 1643.9 305.2 1642.0C306.9 1640.2 308.9 1639.3 310.8 1639.3C312.6 1639.3 314.8 1640.2 316.4 1642.0C317.9 1643.9 319.3 1645.9 320.1 1650.3C320.9 1654.8 321.0 1661.7 321.2 1668.8C321.5 1675.9 321.3 1678.7 321.6 1693.0C321.8 1707.3 322.2 1736.0 322.7 1754.5C323.2 1773.0 323.5 1788.3 324.6 1803.8C325.6 1819.4 329.4 1840.4 329.0 1848.0C328.7 1855.6 325.0 1849.5 322.7 1849.3C320.4 1849.1 318.1 1847.1 315.2 1846.9C312.3 1846.7 308.2 1847.4 305.3 1848.0C302.5 1848.6 300.1 1850.6 297.9 1850.6C295.7 1850.6 293.2 1848.4 292.3 1848.0" fill="none" stroke="#0d0d0d" stroke-width="2.2"/>
<path d="M106.1 1600.5C108.2 1601.7 113.2 1605.7 119.1 1607.9C125.0 1610.0 134.1 1612.0 141.5 1613.4C149.0 1614.8 157.1 1615.6 163.9 1616.2C170.8 1616.7 177.0 1616.9 182.6 1616.7C188.2 1616.6 195.0 1615.5 197.5 1615.2" fill="none" stroke="#0d0d0d" stroke-width="2.3" stroke-dasharray="6.7 3.7"/>
<path d="M278.7 1528.4C278.5 1532.1 278.1 1544.1 277.8 1550.6C277.4 1557.1 277.1 1560.8 276.8 1567.2C276.5 1573.7 276.0 1585.7 275.9 1589.4" fill="none" stroke="#0d0d0d" stroke-width="2.3" stroke-dasharray="6.7 3.7"/>
<path d="M217.1 1663.3C216.9 1661.1 216.0 1655.0 216.2 1650.3C216.3 1645.7 217.4 1641.1 218.0 1635.6C218.7 1630.0 219.0 1622.3 219.9 1617.1C220.8 1611.9 221.1 1607.5 223.6 1604.2C226.1 1600.8 229.9 1598.6 234.8 1596.8C239.8 1594.9 246.6 1594.3 253.5 1593.1C260.3 1591.8 269.7 1590.5 275.9 1589.4C282.1 1588.3 285.3 1587.7 290.8 1586.6C296.3 1585.5 305.9 1583.5 308.9 1582.9" fill="none" stroke="#0d0d0d" stroke-width="2.3" stroke-dasharray="6.7 3.7"/>
<path d="M288.0 1679.9C286.9 1678.7 284.4 1675.0 281.5 1672.5C278.5 1670.0 275.0 1667.0 270.3 1665.1C265.6 1663.3 259.4 1662.2 253.5 1661.4C247.6 1660.7 240.9 1660.2 234.8 1660.5C228.8 1660.8 222.7 1661.3 217.1 1663.3C211.5 1665.3 205.7 1668.8 201.2 1672.5C196.7 1676.2 192.8 1680.8 190.0 1685.4C187.2 1690.1 186.0 1695.0 184.4 1700.2C182.9 1705.4 181.5 1711.3 180.7 1716.8C179.9 1722.4 179.8 1728.8 179.8 1733.5C179.8 1738.1 179.3 1741.5 180.7 1744.5C182.1 1747.6 184.8 1750.2 188.2 1751.9C191.6 1753.6 196.0 1754.4 201.2 1754.7C206.5 1755.0 213.7 1754.1 219.9 1753.8C226.1 1753.5 232.3 1752.7 238.6 1752.9C244.8 1753.0 251.6 1753.6 257.2 1754.7C262.8 1755.8 268.1 1757.9 272.2 1759.3C276.2 1760.7 278.4 1762.7 281.5 1763.0C284.6 1763.3 289.3 1761.5 290.8 1761.2" fill="none" stroke="#0d0d0d" stroke-width="2.3" stroke-dasharray="6.7 3.7"/>
<path d="M57.5 1645.7C59.4 1647.4 65.6 1652.0 68.7 1655.9C71.8 1659.7 74.6 1664.8 76.2 1668.8C77.8 1672.8 78.7 1676.5 78.1 1679.9C77.4 1683.3 75.3 1687.0 72.5 1689.1C69.7 1691.3 65.3 1692.4 61.3 1692.8C57.2 1693.3 52.3 1692.8 48.2 1691.9C44.2 1691.0 39.8 1689.0 37.0 1687.3C34.2 1685.6 32.3 1682.7 31.4 1681.7" fill="none" stroke="#0d0d0d" stroke-width="2.3" stroke-dasharray="6.7 3.7"/>
<path d="M130.3 1697.4C132.8 1697.9 140.9 1697.9 145.3 1700.2C149.6 1702.5 154.0 1707.0 156.5 1711.3C158.9 1715.6 160.0 1721.1 159.8 1726.1C159.7 1731.0 157.9 1736.7 155.5 1740.9C153.1 1745.0 149.1 1748.7 145.3 1751.0C141.4 1753.3 136.9 1754.6 132.2 1754.7C127.5 1754.9 121.6 1754.1 117.3 1751.9C112.9 1749.8 108.7 1746.1 106.1 1741.8C103.4 1737.5 101.6 1731.2 101.4 1726.1C101.2 1721.0 102.8 1715.5 105.1 1711.3C107.5 1707.1 111.2 1703.4 115.4 1701.1C119.6 1698.8 127.8 1698.1 130.3 1697.4" fill="none" stroke="#0d0d0d" stroke-width="2.3" stroke-dasharray="6.7 3.7"/>
<path d="M38.9 1726.1C39.8 1724.5 41.4 1718.8 44.5 1716.8C47.6 1714.8 53.2 1713.9 57.5 1714.1C61.9 1714.2 66.6 1715.8 70.6 1717.8C74.6 1719.8 78.4 1723.1 81.8 1726.1C85.2 1729.0 89.6 1733.8 91.1 1735.3" fill="none" stroke="#0d0d0d" stroke-width="2.3" stroke-dasharray="6.7 3.7"/>
<path d="M48.2 1739.9C48.8 1737.9 49.5 1731.0 51.9 1727.9C54.4 1724.8 59.1 1722.2 63.1 1721.5C67.2 1720.7 72.3 1721.6 76.2 1723.3C80.1 1725.0 84.3 1728.7 86.5 1731.6C88.6 1734.5 89.7 1737.5 89.3 1740.9C88.8 1744.2 86.5 1749.0 83.7 1751.9C80.9 1754.9 76.5 1757.5 72.5 1758.4C68.4 1759.3 63.0 1758.9 59.4 1757.5C55.8 1756.1 52.9 1753.0 51.0 1750.1C49.1 1747.2 48.7 1741.6 48.2 1739.9" fill="none" stroke="#0d0d0d" stroke-width="2.3" stroke-dasharray="6.7 3.7"/>
<path d="M38.9 1726.1C39.5 1728.5 40.1 1735.9 42.6 1740.9C45.1 1745.8 49.5 1751.0 53.8 1755.6C58.2 1760.2 63.5 1764.6 68.7 1768.6C74.0 1772.6 80.2 1775.6 85.5 1779.6C90.8 1783.6 95.5 1788.6 100.5 1792.6C105.4 1796.6 111.0 1800.6 115.4 1803.7C119.7 1806.7 122.9 1809.2 126.6 1811.0C130.3 1812.9 134.1 1814.7 137.8 1814.7C141.5 1814.7 145.3 1813.2 149.0 1811.0C152.7 1808.9 157.4 1805.2 160.2 1801.8C163.0 1798.4 165.2 1794.4 165.8 1790.7C166.4 1787.0 165.5 1782.7 163.9 1779.6C162.4 1776.6 159.6 1774.1 156.5 1772.3C153.3 1770.4 149.6 1769.6 145.3 1768.6C140.9 1767.5 134.7 1767.2 130.3 1765.8C126.0 1764.4 122.9 1762.6 119.1 1760.2C115.4 1757.9 111.7 1755.2 107.9 1751.9C104.2 1748.7 99.5 1743.6 96.7 1740.9C93.9 1738.1 92.1 1736.2 91.1 1735.3" fill="none" stroke="#0d0d0d" stroke-width="2.3" stroke-dasharray="6.7 3.7"/>
<path d="M152.7 1822.1C153.3 1820.6 153.7 1816.0 156.5 1812.9C159.2 1809.8 164.5 1807.0 169.5 1803.7C174.5 1800.3 180.4 1796.3 186.3 1792.6C192.2 1788.9 198.8 1784.9 205.0 1781.5C211.2 1778.1 217.4 1774.9 223.6 1772.3C229.9 1769.6 236.4 1766.9 242.3 1765.8C248.2 1764.7 254.1 1765.0 259.1 1765.8C264.1 1766.6 268.7 1768.1 272.2 1770.4C275.6 1772.7 278.2 1776.3 279.6 1779.6C281.0 1783.0 281.2 1787.3 280.6 1790.7C279.9 1794.1 278.5 1796.6 275.9 1800.0C273.2 1803.3 269.0 1807.7 264.7 1811.0C260.3 1814.4 254.7 1817.2 249.8 1820.3C244.8 1823.4 239.8 1826.7 234.8 1829.5C229.9 1832.3 224.9 1834.7 219.9 1836.9C214.9 1839.1 209.9 1841.2 205.0 1842.4C200.0 1843.7 195.0 1844.3 190.0 1844.3C185.1 1844.3 179.8 1843.7 175.1 1842.4C170.4 1841.2 165.6 1839.1 162.0 1836.9C158.5 1834.7 155.2 1832.0 153.7 1829.5C152.1 1827.1 152.9 1823.4 152.7 1822.1" fill="none" stroke="#0d0d0d" stroke-width="2.3" stroke-dasharray="6.7 3.7"/>
<path d="M296.4 1798.1C293.0 1799.7 281.8 1804.3 275.9 1807.3C270.0 1810.4 265.3 1813.5 261.0 1816.6C256.6 1819.7 252.6 1822.4 249.8 1825.8C247.0 1829.2 244.5 1833.8 244.2 1836.9C243.9 1840.0 245.1 1842.6 247.9 1844.3C250.7 1846.0 255.7 1846.6 261.0 1847.1C266.2 1847.5 273.4 1847.4 279.6 1847.1C285.8 1846.8 295.2 1845.5 298.3 1845.2" fill="none" stroke="#0d0d0d" stroke-width="2.3" stroke-dasharray="6.7 3.7"/>
<path d="M287.8 1798.1C287.9 1790.4 288.0 1767.3 288.2 1751.9C288.4 1736.5 288.7 1721.5 288.9 1705.8C289.2 1690.1 288.9 1668.0 289.7 1657.7C290.4 1647.4 291.3 1647.5 293.4 1643.9C295.5 1640.2 299.5 1637.6 302.4 1635.9C305.3 1634.2 308.3 1633.8 310.8 1633.7C313.2 1633.7 315.1 1634.3 317.3 1635.6C319.5 1636.8 322.2 1638.0 323.8 1641.1C325.5 1644.2 326.5 1647.9 327.2 1654.0C327.9 1660.2 327.8 1666.3 328.1 1678.0C328.4 1689.7 328.8 1710.4 328.9 1724.2C328.9 1738.1 328.6 1748.9 328.5 1761.2C328.4 1773.5 328.2 1792.0 328.1 1798.1" fill="none" stroke="#0d0d0d" stroke-width="2.3" stroke-dasharray="6.7 3.7"/>
<path d="M289.3 1583.8C292.4 1583.5 301.7 1582.1 308.0 1582.0C314.2 1581.8 321.0 1582.3 326.6 1582.9C332.2 1583.5 338.4 1585.5 341.6 1585.7C344.7 1585.8 341.6 1584.0 345.3 1583.8C349.0 1583.7 357.7 1584.0 363.9 1584.8C370.2 1585.5 379.5 1587.8 382.6 1588.5" fill="none" stroke="#0d0d0d" stroke-width="2.3" stroke-dasharray="6.7 3.7"/>
<path d="M348.1 1528.4C348.2 1532.1 348.4 1544.7 349.0 1550.6C349.6 1556.4 351.8 1559.2 351.8 1563.5C351.8 1567.8 350.1 1573.1 349.0 1576.5C347.9 1579.8 345.9 1582.6 345.3 1583.8" fill="none" stroke="#0d0d0d" stroke-width="2.3" stroke-dasharray="6.7 3.7"/>
<path d="M395.7 1606.0C396.3 1608.8 398.6 1616.8 399.4 1622.6C400.2 1628.5 400.0 1634.9 400.3 1641.1C400.6 1647.3 401.1 1656.5 401.3 1659.6" fill="none" stroke="#0d0d0d" stroke-width="2.3" stroke-dasharray="6.7 3.7"/>
<path d="M329.4 1678.0C330.8 1676.5 333.9 1671.4 337.8 1668.8C341.7 1666.2 346.8 1663.9 352.8 1662.3C358.7 1660.8 365.2 1659.9 373.3 1659.6C381.4 1659.3 394.1 1659.3 401.3 1660.5C408.4 1661.7 412.3 1664.0 416.2 1667.0C420.1 1669.9 422.9 1673.1 424.6 1678.0C426.3 1683.0 426.0 1688.8 426.5 1696.5C426.9 1704.2 427.1 1717.8 427.4 1724.2C427.7 1730.7 428.8 1731.9 428.3 1735.3C427.9 1738.7 426.6 1742.2 424.6 1744.5C422.6 1746.9 420.7 1748.2 416.2 1749.2C411.7 1750.1 403.8 1749.6 397.5 1750.1C391.3 1750.5 385.1 1751.0 378.9 1751.9C372.7 1752.9 365.8 1754.2 360.2 1755.6C354.6 1757.0 350.4 1759.0 345.3 1760.2C340.2 1761.5 332.1 1762.6 329.4 1763.0" fill="none" stroke="#0d0d0d" stroke-width="2.3" stroke-dasharray="6.7 3.7"/>
<path d="M347.2 1781.5C347.8 1779.9 348.1 1774.9 350.9 1772.3C353.7 1769.6 358.7 1767.3 363.9 1765.8C369.2 1764.2 376.4 1763.3 382.6 1763.0C388.8 1762.7 395.1 1762.7 401.3 1763.9C407.5 1765.2 413.7 1767.5 419.9 1770.4C426.2 1773.3 432.4 1777.2 438.6 1781.5C444.8 1785.8 452.3 1792.0 457.3 1796.3C462.2 1800.6 466.3 1803.3 468.5 1807.3C470.6 1811.4 470.9 1816.6 470.3 1820.3C469.7 1824.0 467.5 1827.1 464.7 1829.5C461.9 1832.0 457.9 1833.5 453.5 1835.1C449.2 1836.6 444.2 1838.4 438.6 1838.8C433.0 1839.1 426.2 1838.1 419.9 1836.9C413.7 1835.7 407.5 1833.8 401.3 1831.4C395.1 1828.9 388.2 1825.5 382.6 1822.1C377.0 1818.7 372.3 1815.0 367.7 1811.0C363.0 1807.0 357.9 1801.8 354.6 1798.1C351.4 1794.4 349.3 1791.6 348.1 1788.9C346.8 1786.1 347.3 1782.7 347.2 1781.5" fill="none" stroke="#0d0d0d" stroke-width="2.3" stroke-dasharray="6.7 3.7"/>
<path d="M328.1 1798.1C330.4 1799.0 337.1 1800.9 341.6 1803.7C346.0 1806.4 350.3 1810.7 354.6 1814.7C359.0 1818.7 364.6 1824.3 367.7 1827.7C370.8 1831.1 373.3 1832.6 373.3 1835.1C373.3 1837.5 370.5 1840.9 367.7 1842.4C364.9 1844.0 360.8 1844.1 356.5 1844.3C352.1 1844.4 345.8 1843.7 341.6 1843.4C337.4 1843.1 333.0 1842.6 331.3 1842.4" fill="none" stroke="#0d0d0d" stroke-width="2.3" stroke-dasharray="6.7 3.7"/>
<path d="M456.3 1716.8C456.8 1714.4 457.4 1706.1 459.1 1702.1C460.8 1698.1 463.2 1694.7 466.6 1692.8C470.0 1691.0 475.3 1690.7 479.7 1691.0C484.0 1691.3 489.4 1692.2 492.7 1694.7C496.0 1697.1 498.6 1701.4 499.2 1705.8C499.9 1710.1 498.2 1715.6 496.4 1720.5C494.7 1725.5 492.1 1731.6 489.0 1735.3C485.9 1739.0 481.8 1741.5 477.8 1742.7C473.7 1743.9 468.1 1744.2 464.7 1742.7C461.3 1741.2 458.7 1737.8 457.3 1733.5C455.9 1729.2 456.5 1719.6 456.3 1716.8" fill="none" stroke="#0d0d0d" stroke-width="2.3" stroke-dasharray="6.7 3.7"/>
<path d="M573.0 1694.7C570.8 1695.3 564.3 1696.5 559.9 1698.4C555.5 1700.2 550.9 1702.7 546.8 1705.8C542.8 1708.8 539.7 1713.1 535.6 1716.8C531.6 1720.5 527.9 1724.2 522.6 1727.9C517.3 1731.6 510.1 1735.6 503.9 1739.0C497.7 1742.4 490.5 1744.5 485.2 1748.2C480.0 1751.9 475.3 1755.9 472.2 1761.2C469.1 1766.4 466.9 1773.8 466.6 1779.6C466.3 1785.5 468.5 1792.0 470.3 1796.3C472.2 1800.6 474.4 1803.7 477.8 1805.5C481.2 1807.3 486.2 1808.0 490.8 1807.3C495.5 1806.7 501.4 1804.6 505.8 1801.8C510.1 1799.0 513.2 1795.0 517.0 1790.7C520.7 1786.4 524.4 1780.9 528.2 1775.9C531.9 1771.0 535.6 1765.8 539.4 1761.2C543.1 1756.6 546.5 1752.5 550.6 1748.2C554.6 1743.9 559.9 1739.0 563.6 1735.3C567.4 1731.6 571.4 1727.6 573.0 1726.1" fill="none" stroke="#0d0d0d" stroke-width="2.3" stroke-dasharray="6.7 3.7"/>
<path d="M535.6 1721.5C536.3 1719.5 536.9 1712.5 539.4 1709.4C541.9 1706.4 546.5 1703.8 550.6 1703.0C554.6 1702.2 560.2 1702.8 563.6 1704.8C567.1 1706.8 569.7 1711.5 571.1 1715.0C572.5 1718.5 573.0 1722.4 572.0 1726.1C571.1 1729.8 568.5 1734.7 565.5 1737.2C562.5 1739.6 558.0 1740.9 554.3 1740.9C550.6 1740.9 546.2 1740.4 543.1 1737.2C540.0 1733.9 536.9 1724.1 535.6 1721.5" fill="none" stroke="#0d0d0d" stroke-width="2.3" stroke-dasharray="6.7 3.7"/>
<path d="M567.4 1630.0C565.2 1631.6 558.7 1635.3 554.3 1639.3C549.9 1643.3 544.5 1649.1 541.2 1654.0C538.0 1659.0 535.6 1664.8 534.7 1668.8C533.8 1672.8 533.9 1675.4 535.6 1678.0C537.3 1680.7 540.9 1683.6 545.0 1684.5C549.0 1685.4 555.2 1684.5 559.9 1683.6C564.6 1682.7 570.8 1679.7 573.0 1679.0" fill="none" stroke="#0d0d0d" stroke-width="2.3" stroke-dasharray="6.7 3.7"/>
<path d="M429.3 1616.2C432.4 1614.9 441.7 1611.7 447.9 1608.8C454.1 1605.9 460.4 1602.2 466.6 1598.6C472.8 1595.1 479.0 1591.2 485.2 1587.5C491.5 1583.8 497.7 1580.1 503.9 1576.5C510.1 1572.8 517.0 1568.8 522.6 1565.4C528.2 1562.0 531.3 1559.8 537.5 1556.1C543.7 1552.4 556.2 1545.4 559.9 1543.2" fill="none" stroke="#0d0d0d" stroke-width="2.3" stroke-dasharray="6.7 3.7"/>
</g>
<text x="107.00" y="1674.20" font-size="29.17" fill="#7b1a1c">LH</text>
<text x="208.50" y="1692.30" font-size="29.17" fill="#7b1a1c">DMH</text>
<text x="166.50" y="1828.60" font-size="29.17" fill="#7b1a1c">VMH</text>
<text x="196.50" y="1875.00" font-size="29.17" fill="#7b1a1c">ARC</text>
<line x1="238.50" y1="1852.50" x2="259.68" y2="1837.89" stroke="#7b1a1c" stroke-width="1.3"/>
<path d="M267.5 1832.5L261.7 1840.9L257.6 1834.9Z" fill="#7b1a1c"/>
</g>
<g id="p_g">
<text x="637.30" y="946.10" font-size="48.60" font-weight="bold">g</text>
<text x="1005.40" y="934.20" font-size="29.17" text-anchor="middle" font-weight="bold">Human Protein Atlas</text>
<text x="988.30" y="983.60" font-size="29.17" text-anchor="middle">GPR50</text>
<rect x="796.1" y="1007.7" width="61.0" height="361.0" rx="4.5" fill="none" stroke="#b5202b" stroke-width="1.7" stroke-dasharray="7 4"/>
<rect x="742.60" y="1342.80" width="41.00" height="10.90" fill="#d4d4d4" stroke="#111" stroke-width="1.2"/>
<rect x="806.00" y="1253.40" width="41.00" height="100.30" fill="#d4d4d4" stroke="#111" stroke-width="1.2"/>
<rect x="869.40" y="1341.30" width="41.00" height="12.40" fill="#d4d4d4" stroke="#111" stroke-width="1.2"/>
<rect x="996.20" y="1343.70" width="41.00" height="10.00" fill="#d4d4d4" stroke="#111" stroke-width="1.2"/>
<rect x="1059.60" y="1351.90" width="41.00" height="1.80" fill="#d4d4d4" stroke="#111" stroke-width="1.2"/>
<rect x="1123.00" y="1349.50" width="41.00" height="4.20" fill="#d4d4d4" stroke="#111" stroke-width="1.2"/>
<rect x="1186.40" y="1343.70" width="41.00" height="10.00" fill="#d4d4d4" stroke="#111" stroke-width="1.2"/>
<line x1="720.80" y1="1000.95" x2="720.80" y2="1353.70" stroke="#262626" stroke-width="1.3"/>
<line x1="707.80" y1="1353.70" x2="1250.20" y2="1353.70" stroke="#262626" stroke-width="1.3"/>
<line x1="707.80" y1="1001.60" x2="720.80" y2="1001.60" stroke="#262626" stroke-width="1.3"/>
<text x="705.60" y="1017.45" font-size="29.17" text-anchor="end">25</text>
<line x1="707.80" y1="1072.02" x2="720.80" y2="1072.02" stroke="#262626" stroke-width="1.3"/>
<text x="705.60" y="1087.87" font-size="29.17" text-anchor="end">20</text>
<line x1="707.80" y1="1142.44" x2="720.80" y2="1142.44" stroke="#262626" stroke-width="1.3"/>
<text x="705.60" y="1158.29" font-size="29.17" text-anchor="end">15</text>
<line x1="707.80" y1="1212.86" x2="720.80" y2="1212.86" stroke="#262626" stroke-width="1.3"/>
<text x="705.60" y="1228.71" font-size="29.17" text-anchor="end">10</text>
<line x1="707.80" y1="1283.28" x2="720.80" y2="1283.28" stroke="#262626" stroke-width="1.3"/>
<text x="705.60" y="1299.13" font-size="29.17" text-anchor="end">5</text>
<text x="705.60" y="1369.55" font-size="29.17" text-anchor="end">0</text>
<line x1="763.10" y1="1340.00" x2="763.10" y2="1345.50" stroke="#111" stroke-width="1.2"/>
<line x1="754.60" y1="1340.00" x2="771.60" y2="1340.00" stroke="#111" stroke-width="1.2"/>
<line x1="754.60" y1="1345.50" x2="771.60" y2="1345.50" stroke="#111" stroke-width="1.2"/>
<line x1="826.50" y1="1153.10" x2="826.50" y2="1352.80" stroke="#111" stroke-width="1.2"/>
<line x1="815.90" y1="1153.10" x2="837.10" y2="1153.10" stroke="#111" stroke-width="1.2"/>
<line x1="889.90" y1="1331.60" x2="889.90" y2="1350.20" stroke="#111" stroke-width="1.2"/>
<line x1="879.70" y1="1331.60" x2="900.10" y2="1331.60" stroke="#111" stroke-width="1.2"/>
<line x1="879.70" y1="1350.20" x2="900.10" y2="1350.20" stroke="#111" stroke-width="1.2"/>
<line x1="1080.10" y1="1350.20" x2="1080.10" y2="1352.90" stroke="#111" stroke-width="1.2"/>
<line x1="1072.10" y1="1350.20" x2="1088.10" y2="1350.20" stroke="#111" stroke-width="1.2"/>
<line x1="1143.50" y1="1346.20" x2="1143.50" y2="1351.50" stroke="#111" stroke-width="1.2"/>
<line x1="1135.50" y1="1346.20" x2="1151.50" y2="1346.20" stroke="#111" stroke-width="1.2"/>
<line x1="1135.50" y1="1351.50" x2="1151.50" y2="1351.50" stroke="#111" stroke-width="1.2"/>
<line x1="1206.90" y1="1331.60" x2="1206.90" y2="1353.20" stroke="#111" stroke-width="1.2"/>
<line x1="1196.70" y1="1331.60" x2="1217.10" y2="1331.60" stroke="#111" stroke-width="1.2"/>
<circle cx="749.20" cy="1346.40" r="6.80" fill="none" stroke="#111" stroke-width="1.25"/>
<circle cx="777.30" cy="1339.80" r="6.80" fill="none" stroke="#111" stroke-width="1.25"/>
<circle cx="826.60" cy="1054.00" r="6.80" fill="none" stroke="#111" stroke-width="1.25"/>
<circle cx="812.20" cy="1352.30" r="6.80" fill="none" stroke="#111" stroke-width="1.25"/>
<circle cx="840.90" cy="1351.10" r="6.80" fill="none" stroke="#111" stroke-width="1.25"/>
<circle cx="890.00" cy="1313.20" r="6.80" fill="none" stroke="#111" stroke-width="1.25"/>
<circle cx="875.50" cy="1354.00" r="6.80" fill="none" stroke="#111" stroke-width="1.25"/>
<circle cx="890.00" cy="1346.70" r="6.80" fill="none" stroke="#111" stroke-width="1.25"/>
<circle cx="904.00" cy="1349.60" r="6.80" fill="none" stroke="#111" stroke-width="1.25"/>
<circle cx="938.00" cy="1354.00" r="6.80" fill="none" stroke="#111" stroke-width="1.25"/>
<circle cx="945.70" cy="1354.00" r="6.80" fill="none" stroke="#111" stroke-width="1.25"/>
<circle cx="952.80" cy="1354.00" r="6.80" fill="none" stroke="#111" stroke-width="1.25"/>
<circle cx="959.90" cy="1354.00" r="6.80" fill="none" stroke="#111" stroke-width="1.25"/>
<circle cx="968.20" cy="1354.00" r="6.80" fill="none" stroke="#111" stroke-width="1.25"/>
<circle cx="1016.70" cy="1342.20" r="6.80" fill="none" stroke="#111" stroke-width="1.25"/>
<circle cx="1065.80" cy="1352.30" r="6.80" fill="none" stroke="#111" stroke-width="1.25"/>
<circle cx="1080.00" cy="1349.60" r="6.80" fill="none" stroke="#111" stroke-width="1.25"/>
<circle cx="1093.90" cy="1351.10" r="6.80" fill="none" stroke="#111" stroke-width="1.25"/>
<circle cx="1129.40" cy="1351.10" r="6.80" fill="none" stroke="#111" stroke-width="1.25"/>
<circle cx="1143.30" cy="1345.80" r="6.80" fill="none" stroke="#111" stroke-width="1.25"/>
<circle cx="1157.50" cy="1349.60" r="6.80" fill="none" stroke="#111" stroke-width="1.25"/>
<circle cx="1207.00" cy="1331.00" r="6.80" fill="none" stroke="#111" stroke-width="1.25"/>
<circle cx="1207.00" cy="1354.00" r="6.80" fill="none" stroke="#111" stroke-width="1.25"/>
<text x="763.70" y="1400.60" font-size="29.17" text-anchor="middle">ARC</text>
<text x="829.50" y="1400.60" font-size="29.17" text-anchor="middle">DMH</text>
<text x="890.70" y="1400.60" font-size="29.17" text-anchor="middle">LH</text>
<text x="950.70" y="1400.60" font-size="29.17" text-anchor="middle">MBO</text>
<text x="1016.10" y="1400.60" font-size="29.17" text-anchor="middle">PVN</text>
<text x="1079.10" y="1400.60" font-size="29.17" text-anchor="middle">POA</text>
<text x="1141.70" y="1400.60" font-size="29.17" text-anchor="middle">SON</text>
<text x="1209.50" y="1400.60" font-size="29.17" text-anchor="middle">VMH</text>
<text transform="translate(657.9 1184.3) rotate(-90) scale(0.945 1)" font-size="29.17" text-anchor="middle">nTPM</text>
<text x="987.60" y="1484.00" font-size="29.17" text-anchor="middle">ProSAAS (L-LEN precursor)</text>
<rect x="794.8" y="1511.9" width="61.7" height="361.1" rx="4.5" fill="none" stroke="#b5202b" stroke-width="1.7" stroke-dasharray="7 4"/>
<rect x="742.60" y="1618.00" width="41.00" height="244.40" fill="#d4d4d4" stroke="#111" stroke-width="1.2"/>
<rect x="806.00" y="1738.40" width="41.00" height="124.00" fill="#d4d4d4" stroke="#111" stroke-width="1.2"/>
<rect x="869.40" y="1712.20" width="41.00" height="150.20" fill="#d4d4d4" stroke="#111" stroke-width="1.2"/>
<rect x="932.80" y="1788.10" width="41.00" height="74.30" fill="#d4d4d4" stroke="#111" stroke-width="1.2"/>
<rect x="996.20" y="1735.00" width="41.00" height="127.40" fill="#d4d4d4" stroke="#111" stroke-width="1.2"/>
<rect x="1059.60" y="1754.60" width="41.00" height="107.80" fill="#d4d4d4" stroke="#111" stroke-width="1.2"/>
<rect x="1123.00" y="1765.60" width="41.00" height="96.80" fill="#d4d4d4" stroke="#111" stroke-width="1.2"/>
<rect x="1186.40" y="1731.40" width="41.00" height="131.00" fill="#d4d4d4" stroke="#111" stroke-width="1.2"/>
<line x1="720.80" y1="1508.95" x2="720.80" y2="1862.40" stroke="#262626" stroke-width="1.3"/>
<line x1="707.80" y1="1862.40" x2="1250.20" y2="1862.40" stroke="#262626" stroke-width="1.3"/>
<line x1="707.80" y1="1509.60" x2="720.80" y2="1509.60" stroke="#262626" stroke-width="1.3"/>
<text x="704.60" y="1519.55" font-size="29.17" text-anchor="end">2500</text>
<line x1="707.80" y1="1580.16" x2="720.80" y2="1580.16" stroke="#262626" stroke-width="1.3"/>
<text x="704.60" y="1590.11" font-size="29.17" text-anchor="end">2000</text>
<line x1="707.80" y1="1650.72" x2="720.80" y2="1650.72" stroke="#262626" stroke-width="1.3"/>
<text x="704.60" y="1660.67" font-size="29.17" text-anchor="end">1500</text>
<line x1="707.80" y1="1721.28" x2="720.80" y2="1721.28" stroke="#262626" stroke-width="1.3"/>
<text x="704.60" y="1731.23" font-size="29.17" text-anchor="end">1000</text>
<line x1="707.80" y1="1791.84" x2="720.80" y2="1791.84" stroke="#262626" stroke-width="1.3"/>
<text x="704.60" y="1801.79" font-size="29.17" text-anchor="end">500</text>
<text x="704.60" y="1872.35" font-size="29.17" text-anchor="end">0</text>
<line x1="763.30" y1="1572.50" x2="763.30" y2="1662.10" stroke="#111" stroke-width="1.2"/>
<line x1="752.90" y1="1572.50" x2="773.70" y2="1572.50" stroke="#111" stroke-width="1.2"/>
<line x1="752.90" y1="1662.10" x2="773.70" y2="1662.10" stroke="#111" stroke-width="1.2"/>
<line x1="826.60" y1="1731.70" x2="826.60" y2="1744.30" stroke="#111" stroke-width="1.2"/>
<line x1="816.20" y1="1731.70" x2="837.00" y2="1731.70" stroke="#111" stroke-width="1.2"/>
<line x1="816.20" y1="1744.30" x2="837.00" y2="1744.30" stroke="#111" stroke-width="1.2"/>
<line x1="890.30" y1="1702.50" x2="890.30" y2="1720.80" stroke="#111" stroke-width="1.2"/>
<line x1="879.90" y1="1702.50" x2="900.70" y2="1702.50" stroke="#111" stroke-width="1.2"/>
<line x1="879.90" y1="1720.80" x2="900.70" y2="1720.80" stroke="#111" stroke-width="1.2"/>
<line x1="953.30" y1="1785.80" x2="953.30" y2="1791.50" stroke="#111" stroke-width="1.2"/>
<line x1="942.90" y1="1785.80" x2="963.70" y2="1785.80" stroke="#111" stroke-width="1.2"/>
<line x1="942.90" y1="1791.50" x2="963.70" y2="1791.50" stroke="#111" stroke-width="1.2"/>
<line x1="1080.30" y1="1727.80" x2="1080.30" y2="1780.50" stroke="#111" stroke-width="1.2"/>
<line x1="1069.90" y1="1727.80" x2="1090.70" y2="1727.80" stroke="#111" stroke-width="1.2"/>
<line x1="1069.90" y1="1780.50" x2="1090.70" y2="1780.50" stroke="#111" stroke-width="1.2"/>
<line x1="1143.70" y1="1741.70" x2="1143.70" y2="1787.40" stroke="#111" stroke-width="1.2"/>
<line x1="1133.30" y1="1741.70" x2="1154.10" y2="1741.70" stroke="#111" stroke-width="1.2"/>
<line x1="1133.30" y1="1787.40" x2="1154.10" y2="1787.40" stroke="#111" stroke-width="1.2"/>
<line x1="1207.00" y1="1725.80" x2="1207.00" y2="1735.50" stroke="#111" stroke-width="1.2"/>
<line x1="1196.60" y1="1725.80" x2="1217.40" y2="1725.80" stroke="#111" stroke-width="1.2"/>
<line x1="1196.60" y1="1735.50" x2="1217.40" y2="1735.50" stroke="#111" stroke-width="1.2"/>
<circle cx="763.30" cy="1572.50" r="6.80" fill="none" stroke="#111" stroke-width="1.25"/>
<circle cx="763.30" cy="1662.10" r="6.80" fill="none" stroke="#111" stroke-width="1.25"/>
<circle cx="812.30" cy="1729.40" r="6.80" fill="none" stroke="#111" stroke-width="1.25"/>
<circle cx="840.50" cy="1734.40" r="6.80" fill="none" stroke="#111" stroke-width="1.25"/>
<circle cx="826.60" cy="1750.00" r="6.80" fill="none" stroke="#111" stroke-width="1.25"/>
<circle cx="876.00" cy="1704.50" r="6.80" fill="none" stroke="#111" stroke-width="1.25"/>
<circle cx="904.20" cy="1693.60" r="6.80" fill="none" stroke="#111" stroke-width="1.25"/>
<circle cx="904.20" cy="1709.50" r="6.80" fill="none" stroke="#111" stroke-width="1.25"/>
<circle cx="890.30" cy="1737.40" r="6.80" fill="none" stroke="#111" stroke-width="1.25"/>
<circle cx="946.70" cy="1779.20" r="6.80" fill="none" stroke="#111" stroke-width="1.25"/>
<circle cx="960.60" cy="1781.50" r="6.80" fill="none" stroke="#111" stroke-width="1.25"/>
<circle cx="938.40" cy="1792.40" r="6.80" fill="none" stroke="#111" stroke-width="1.25"/>
<circle cx="953.30" cy="1791.40" r="6.80" fill="none" stroke="#111" stroke-width="1.25"/>
<circle cx="967.50" cy="1794.70" r="6.80" fill="none" stroke="#111" stroke-width="1.25"/>
<circle cx="1017.00" cy="1734.00" r="6.80" fill="none" stroke="#111" stroke-width="1.25"/>
<circle cx="1080.30" cy="1705.20" r="6.80" fill="none" stroke="#111" stroke-width="1.25"/>
<circle cx="1080.30" cy="1760.90" r="6.80" fill="none" stroke="#111" stroke-width="1.25"/>
<circle cx="1080.30" cy="1796.40" r="6.80" fill="none" stroke="#111" stroke-width="1.25"/>
<circle cx="1143.70" cy="1721.80" r="6.80" fill="none" stroke="#111" stroke-width="1.25"/>
<circle cx="1143.70" cy="1773.20" r="6.80" fill="none" stroke="#111" stroke-width="1.25"/>
<circle cx="1143.70" cy="1799.70" r="6.80" fill="none" stroke="#111" stroke-width="1.25"/>
<circle cx="1192.70" cy="1736.00" r="6.80" fill="none" stroke="#111" stroke-width="1.25"/>
<circle cx="1221.20" cy="1725.10" r="6.80" fill="none" stroke="#111" stroke-width="1.25"/>
<text x="763.70" y="1903.30" font-size="29.17" text-anchor="middle">ARC</text>
<text x="829.50" y="1903.30" font-size="29.17" text-anchor="middle">DMH</text>
<text x="890.70" y="1903.30" font-size="29.17" text-anchor="middle">LH</text>
<text x="950.70" y="1903.30" font-size="29.17" text-anchor="middle">MBO</text>
<text x="1016.10" y="1903.30" font-size="29.17" text-anchor="middle">PVN</text>
<text x="1079.10" y="1903.30" font-size="29.17" text-anchor="middle">POA</text>
<text x="1141.70" y="1903.30" font-size="29.17" text-anchor="middle">SON</text>
<text x="1209.50" y="1903.30" font-size="29.17" text-anchor="middle">VMH</text>
<text transform="translate(628.2 1686.5) rotate(-90) scale(0.945 1)" font-size="29.17" text-anchor="middle">nTPM</text>
</g>
<g id="p_h">
<text x="1270.00" y="953.40" font-size="48.60" font-weight="bold">h</text>
<rect x="1278.00" y="973.30" width="717.00" height="394.60" fill="#f2f2f2"/>
<path d="M1341.7 1079.5C1339.8 1079.2 1334.5 1078.1 1330.4 1077.8C1326.3 1077.5 1321.3 1077.6 1317.2 1077.8C1313.1 1078.0 1309.5 1078.2 1305.9 1078.9C1302.2 1079.7 1298.2 1080.8 1295.5 1082.3C1292.7 1083.8 1290.7 1086.4 1289.4 1088.0C1288.2 1089.6 1288.2 1090.9 1288.1 1092.1C1288.1 1093.3 1289.1 1094.7 1289.3 1095.2" fill="none" stroke="#b48683" stroke-width="2.2" stroke-linecap="round"/>
<ellipse cx="1355.3" cy="1084.6" rx="4.9" ry="1.3" fill="#c9948f"/>
<ellipse cx="1390.8" cy="1085.3" rx="4.5" ry="1.1" fill="#c9948f"/>
<ellipse cx="1364.4" cy="1085.3" rx="2.6" ry="0.9" fill="#c9948f"/>
<path d="M1411.0 1079.3C1410.8 1078.0 1409.9 1075.4 1408.7 1073.3C1407.6 1071.2 1405.8 1068.7 1404.4 1066.7C1403.0 1064.6 1401.4 1062.7 1400.3 1061.0C1399.1 1059.3 1398.7 1057.4 1397.6 1056.7C1396.5 1055.9 1394.8 1056.3 1393.6 1056.7C1392.5 1057.0 1392.5 1058.9 1390.8 1058.5C1389.1 1058.2 1386.3 1055.8 1383.3 1054.8C1380.3 1053.7 1376.3 1052.3 1372.9 1052.1C1369.4 1051.9 1365.8 1052.5 1362.5 1053.4C1359.2 1054.4 1355.7 1055.9 1353.1 1057.8C1350.4 1059.7 1348.3 1062.2 1346.5 1064.8C1344.6 1067.4 1343.1 1071.0 1342.1 1073.3C1341.1 1075.6 1340.3 1077.1 1340.6 1078.6C1340.9 1080.0 1341.9 1081.0 1344.0 1081.8C1346.1 1082.5 1349.0 1083.0 1353.1 1083.1C1357.1 1083.2 1363.8 1082.3 1368.2 1082.3C1372.6 1082.3 1376.7 1082.6 1379.5 1083.1C1382.3 1083.6 1383.0 1085.1 1385.2 1085.3C1387.4 1085.6 1391.8 1085.1 1392.7 1084.6C1393.6 1084.1 1389.6 1082.6 1390.8 1082.3C1392.1 1082.1 1397.6 1083.0 1400.3 1083.1C1402.9 1083.1 1405.2 1083.0 1406.9 1082.7C1408.5 1082.4 1409.4 1081.8 1410.1 1081.2C1410.8 1080.6 1411.2 1080.6 1411.0 1079.3Z" fill="#4b4a4a" stroke="#2f2f2f" stroke-width="0.6"/>
<ellipse cx="1387.4" cy="1063.4" rx="5.0" ry="5.4" fill="#c58f8c" stroke="#3a3a3a" stroke-width="1.0"/>
<ellipse cx="1396.1" cy="1058.9" rx="3.0" ry="3.4" fill="#3e3e3e"/>
<circle cx="1400.3" cy="1072.9" r="1.2" fill="#111"/>
<path d="M1411.2 1077.0L1416.3 1073.3M1411.2 1077.0L1416.3 1075.5" stroke="#cfcfcf" stroke-width="0.6" fill="none"/>
<path d="M1499.4 1058.2C1502.4 1056.5 1509.0 1057.8 1513.5 1058.5C1518.1 1059.3 1522.6 1061.5 1526.7 1062.9C1530.8 1064.2 1534.4 1065.8 1538.1 1066.7C1541.7 1067.5 1545.7 1067.0 1548.4 1068.0C1551.2 1068.9 1553.9 1070.5 1554.7 1072.3C1555.5 1074.1 1555.0 1077.0 1553.2 1078.9C1551.3 1080.8 1547.2 1082.1 1543.7 1083.6C1540.3 1085.2 1535.9 1087.1 1532.4 1088.4C1528.9 1089.6 1526.1 1090.3 1523.0 1091.2C1519.8 1092.1 1516.7 1093.5 1513.5 1093.7C1510.4 1093.8 1507.1 1092.8 1504.1 1092.1C1501.1 1091.5 1498.4 1089.9 1495.6 1089.9C1492.8 1089.9 1490.1 1091.5 1487.1 1092.1C1484.1 1092.8 1480.6 1093.7 1477.7 1093.7C1474.7 1093.6 1471.0 1092.6 1469.2 1091.8C1467.3 1090.9 1466.1 1089.9 1466.7 1088.7C1467.3 1087.6 1470.5 1085.9 1472.9 1085.0C1475.4 1084.0 1478.6 1084.1 1481.4 1083.1C1484.3 1082.1 1487.6 1081.4 1489.9 1078.9C1492.3 1076.5 1494.0 1072.0 1495.6 1068.5C1497.2 1065.1 1496.4 1059.8 1499.4 1058.2Z" fill="#dbb4b0"/>
<path d="M1472.0 1073.3C1472.4 1070.7 1472.9 1066.3 1474.8 1063.8C1476.7 1061.4 1480.5 1059.0 1483.3 1058.5C1486.1 1058.1 1489.8 1059.2 1491.8 1061.0C1493.9 1062.8 1495.3 1066.7 1495.6 1069.5C1495.9 1072.3 1495.1 1075.8 1493.7 1078.0C1492.3 1080.2 1489.8 1081.9 1487.1 1082.7C1484.4 1083.6 1480.1 1083.6 1477.7 1083.1C1475.2 1082.5 1473.3 1080.9 1472.4 1079.3C1471.4 1077.7 1471.6 1075.8 1472.0 1073.3Z" fill="#e2bdb9" stroke="#cfa5a1" stroke-width="0.7"/>
<path d="M1473.9 1075.2C1475.1 1074.5 1478.3 1073.0 1481.4 1071.4C1484.6 1069.8 1490.9 1066.7 1492.8 1065.7" fill="none" stroke="#cfa5a1" stroke-width="0.6"/>
<path d="M1475.8 1079.9C1477.0 1078.9 1480.2 1075.6 1483.3 1074.2C1486.4 1072.8 1492.4 1071.8 1494.3 1071.4" fill="none" stroke="#cfa5a1" stroke-width="0.6"/>
<path d="M1476.7 1067.6C1477.7 1067.8 1480.6 1069.5 1482.4 1068.5C1484.1 1067.6 1486.3 1063.0 1487.1 1061.9" fill="none" stroke="#cfa5a1" stroke-width="0.6"/>
<path d="M1481.4 1082.3C1482.4 1081.4 1485.0 1078.1 1487.1 1077.0C1489.1 1076.0 1492.6 1076.3 1493.7 1076.1" fill="none" stroke="#cfa5a1" stroke-width="0.6"/>
<path d="M1502.2 1065.7C1502.5 1066.2 1507.2 1067.3 1509.7 1068.5C1512.3 1069.8 1515.1 1072.5 1517.3 1073.3C1519.5 1074.1 1523.3 1073.9 1523.0 1073.3C1522.6 1072.6 1517.9 1070.7 1515.4 1069.5C1512.9 1068.2 1510.1 1066.3 1507.9 1065.7C1505.7 1065.1 1501.9 1065.2 1502.2 1065.7Z" fill="#edd7d4"/>
<path d="M1502.2 1062.9C1504.4 1063.0 1511.0 1062.6 1515.4 1063.8C1519.8 1065.1 1524.5 1069.2 1528.6 1070.4C1532.7 1071.7 1538.1 1071.2 1539.9 1071.4" fill="none" stroke="#cfa5a1" stroke-width="0.7"/>
<circle cx="1516.35" cy="1087.42" r="7.90" fill="none" stroke="#c2383c" stroke-width="1.1"/>
<text x="1303.60" y="1125.70" font-size="25.00">WT mice</text>
<text x="1429.60" y="1124.30" font-size="25.00">Hypothalamus</text>
<line x1="1424.40" y1="1074.20" x2="1450.90" y2="1074.20" stroke="#1c1c1c" stroke-width="3.0"/>
<path d="M1463.9 1074.2L1450.4 1080.8L1450.4 1067.6Z" fill="#1c1c1c"/>
<line x1="1561.30" y1="1074.20" x2="1587.70" y2="1074.20" stroke="#1c1c1c" stroke-width="3.0"/>
<path d="M1600.7 1074.2L1587.2 1080.8L1587.2 1067.6Z" fill="#1c1c1c"/>
<path d="M1620.5 1049.2L1614.7 1048.0L1588.0 1023.3" fill="none" stroke="#93a3ab" stroke-width="2.2" stroke-linejoin="round" stroke-linecap="round"/>
<path d="M1620.5 1049.2L1614.7 1048.0L1588.0 1023.3" fill="none" stroke="#f1f5f6" stroke-width="0.9" stroke-linejoin="round" stroke-linecap="round"/>
<rect x="-12.5" y="-4.6" width="25" height="9.2" rx="2.2" fill="#f1f5f6" stroke="#93a3ab" stroke-width="0.9" transform="translate(1603.4 1030.4) rotate(43)"/>
<path d="M1621.1 1050.4V1091.8L1630.4 1128.3Q1634.0 1134.8 1637.6 1128.3L1646.9 1091.8V1050.4Z" fill="#eef3f5" stroke="#93a3ab" stroke-width="0.9"/>
<path d="M1622.7 1090.4L1623.0 1093.8L1631.0 1127.0Q1634.0 1131.8 1637.0 1127.0L1645.0 1093.8L1645.3 1090.4Z" fill="#bfe6f3" stroke="#69b7d3" stroke-width="0.9"/>
<line x1="1622.70" y1="1090.40" x2="1645.30" y2="1090.40" stroke="#5a8fa5" stroke-width="0.9"/>
<rect x="1619.7" y="1047.6" width="28.6" height="3.0" rx="1.2" fill="#f4f7f8" stroke="#93a3ab" stroke-width="0.9"/>
<line x1="1638.50" y1="1057.00" x2="1644.50" y2="1057.00" stroke="#9aa8ae" stroke-width="0.8"/>
<line x1="1638.50" y1="1073.40" x2="1644.50" y2="1073.40" stroke="#9aa8ae" stroke-width="0.8"/>
<text x="1654.30" y="1091.70" font-size="25.00" fill="#e3262b">Extracts</text>
<path d="M1673.3 999.3C1673.8 998.6 1675.3 996.5 1676.3 995.3C1677.3 994.1 1678.3 992.1 1679.3 992.3C1680.3 992.5 1681.5 995.0 1682.3 996.3C1683.1 997.6 1683.5 1000.3 1684.3 1000.3C1685.1 1000.3 1686.8 997.0 1687.3 996.3" fill="none" stroke="#4a3aa0" stroke-width="1.2" stroke-linecap="round"/>
<path d="M1683.3 988.3C1683.8 988.0 1685.5 986.0 1686.3 986.3C1687.1 986.6 1687.5 989.1 1688.3 990.3C1689.1 991.5 1690.3 993.5 1691.3 993.3C1692.3 993.1 1693.6 990.5 1694.3 989.3C1695.0 988.1 1695.1 986.8 1695.3 986.3" fill="none" stroke="#4a3aa0" stroke-width="1.2" stroke-linecap="round"/>
<path d="M1689.3 998.3C1689.8 997.8 1691.3 995.3 1692.3 995.3C1693.3 995.3 1694.5 997.1 1695.3 998.3C1696.1 999.5 1696.5 1002.3 1697.3 1002.3C1698.1 1002.3 1699.5 999.6 1700.3 998.3C1701.1 997.0 1702.0 995.0 1702.3 994.3" fill="none" stroke="#4a3aa0" stroke-width="1.2" stroke-linecap="round"/>
<path d="M1686.3 1010.3C1686.6 1009.5 1687.5 1006.5 1688.3 1005.3C1689.1 1004.1 1690.3 1003.1 1691.3 1003.3C1692.3 1003.5 1693.3 1005.3 1694.3 1006.3C1695.3 1007.3 1696.5 1009.6 1697.3 1009.3C1698.1 1009.0 1699.0 1005.1 1699.3 1004.3" fill="none" stroke="#4a3aa0" stroke-width="1.2" stroke-linecap="round"/>
<circle cx="1695.3" cy="985.8" r="1.9" fill="#4a3aa0"/>
<circle cx="1686.3" cy="995.8" r="1.9" fill="#4a3aa0"/>
<circle cx="1702.3" cy="994.3" r="1.9" fill="#4a3aa0"/>
<circle cx="1699.3" cy="1003.8" r="1.9" fill="#4a3aa0"/>
<path d="M1673.0 998.6C1653.2 993.1 1638.6 1005.5 1632.5 1016.8" fill="none" stroke="#1c1c1c" stroke-width="1.1"/>
<path d="M1628.9 1023.4L1629.8 1015.4L1635.1 1018.2Z" fill="#1c1c1c"/>
<text x="1711.80" y="1006.70" font-size="25.00">L-LEN (13C<tspan font-size="13" dy="-9.5">3</tspan><tspan dy="9.5">, 15N)</tspan></text>
<path d="M1495.8 1248.7L1490.0 1247.5L1463.3 1222.8" fill="none" stroke="#93a3ab" stroke-width="2.2" stroke-linejoin="round" stroke-linecap="round"/>
<path d="M1495.8 1248.7L1490.0 1247.5L1463.3 1222.8" fill="none" stroke="#f1f5f6" stroke-width="0.9" stroke-linejoin="round" stroke-linecap="round"/>
<rect x="-12.5" y="-4.6" width="25" height="9.2" rx="2.2" fill="#f1f5f6" stroke="#93a3ab" stroke-width="0.9" transform="translate(1478.7 1229.9) rotate(43)"/>
<path d="M1496.4 1249.9V1291.3L1505.7 1327.8Q1509.3 1334.3 1512.9 1327.8L1522.2 1291.3V1249.9Z" fill="#eef3f5" stroke="#93a3ab" stroke-width="0.9"/>
<path d="M1498.0 1289.9L1498.3 1293.3L1506.3 1326.5Q1509.3 1331.3 1512.3 1326.5L1520.3 1293.3L1520.6 1289.9Z" fill="#bfe6f3" stroke="#69b7d3" stroke-width="0.9"/>
<line x1="1498.00" y1="1289.90" x2="1520.60" y2="1289.90" stroke="#5a8fa5" stroke-width="0.9"/>
<rect x="1495.0" y="1247.1" width="28.6" height="3.0" rx="1.2" fill="#f4f7f8" stroke="#93a3ab" stroke-width="0.9"/>
<line x1="1513.80" y1="1256.50" x2="1519.80" y2="1256.50" stroke="#9aa8ae" stroke-width="0.8"/>
<line x1="1513.80" y1="1272.90" x2="1519.80" y2="1272.90" stroke="#9aa8ae" stroke-width="0.8"/>
<path d="M1537.5 1248.7L1531.7 1247.5L1505.0 1222.8" fill="none" stroke="#93a3ab" stroke-width="2.2" stroke-linejoin="round" stroke-linecap="round"/>
<path d="M1537.5 1248.7L1531.7 1247.5L1505.0 1222.8" fill="none" stroke="#f1f5f6" stroke-width="0.9" stroke-linejoin="round" stroke-linecap="round"/>
<rect x="-12.5" y="-4.6" width="25" height="9.2" rx="2.2" fill="#f1f5f6" stroke="#93a3ab" stroke-width="0.9" transform="translate(1520.4 1229.9) rotate(43)"/>
<path d="M1538.1 1249.9V1291.3L1547.4 1327.8Q1551.0 1334.3 1554.6 1327.8L1563.9 1291.3V1249.9Z" fill="#eef3f5" stroke="#93a3ab" stroke-width="0.9"/>
<path d="M1539.7 1289.9L1540.0 1293.3L1548.0 1326.5Q1551.0 1331.3 1554.0 1326.5L1562.0 1293.3L1562.3 1289.9Z" fill="#bfe6f3" stroke="#69b7d3" stroke-width="0.9"/>
<line x1="1539.70" y1="1289.90" x2="1562.30" y2="1289.90" stroke="#5a8fa5" stroke-width="0.9"/>
<rect x="1536.7" y="1247.1" width="28.6" height="3.0" rx="1.2" fill="#f4f7f8" stroke="#93a3ab" stroke-width="0.9"/>
<line x1="1555.50" y1="1256.50" x2="1561.50" y2="1256.50" stroke="#9aa8ae" stroke-width="0.8"/>
<line x1="1555.50" y1="1272.90" x2="1561.50" y2="1272.90" stroke="#9aa8ae" stroke-width="0.8"/>
<path d="M1579.8 1248.7L1574.0 1247.5L1547.3 1222.8" fill="none" stroke="#93a3ab" stroke-width="2.2" stroke-linejoin="round" stroke-linecap="round"/>
<path d="M1579.8 1248.7L1574.0 1247.5L1547.3 1222.8" fill="none" stroke="#f1f5f6" stroke-width="0.9" stroke-linejoin="round" stroke-linecap="round"/>
<rect x="-12.5" y="-4.6" width="25" height="9.2" rx="2.2" fill="#f1f5f6" stroke="#93a3ab" stroke-width="0.9" transform="translate(1562.7 1229.9) rotate(43)"/>
<path d="M1580.4 1249.9V1291.3L1589.7 1327.8Q1593.3 1334.3 1596.9 1327.8L1606.2 1291.3V1249.9Z" fill="#eef3f5" stroke="#93a3ab" stroke-width="0.9"/>
<path d="M1582.0 1289.9L1582.3 1293.3L1590.3 1326.5Q1593.3 1331.3 1596.3 1326.5L1604.3 1293.3L1604.6 1289.9Z" fill="#bfe6f3" stroke="#69b7d3" stroke-width="0.9"/>
<line x1="1582.00" y1="1289.90" x2="1604.60" y2="1289.90" stroke="#5a8fa5" stroke-width="0.9"/>
<rect x="1579.0" y="1247.1" width="28.6" height="3.0" rx="1.2" fill="#f4f7f8" stroke="#93a3ab" stroke-width="0.9"/>
<line x1="1597.80" y1="1256.50" x2="1603.80" y2="1256.50" stroke="#9aa8ae" stroke-width="0.8"/>
<line x1="1597.80" y1="1272.90" x2="1603.80" y2="1272.90" stroke="#9aa8ae" stroke-width="0.8"/>
<path d="M1620.4 1248.7L1614.6 1247.5L1587.9 1222.8" fill="none" stroke="#93a3ab" stroke-width="2.2" stroke-linejoin="round" stroke-linecap="round"/>
<path d="M1620.4 1248.7L1614.6 1247.5L1587.9 1222.8" fill="none" stroke="#f1f5f6" stroke-width="0.9" stroke-linejoin="round" stroke-linecap="round"/>
<rect x="-12.5" y="-4.6" width="25" height="9.2" rx="2.2" fill="#f1f5f6" stroke="#93a3ab" stroke-width="0.9" transform="translate(1603.3 1229.9) rotate(43)"/>
<path d="M1621.0 1249.9V1291.3L1630.3 1327.8Q1633.9 1334.3 1637.5 1327.8L1646.8 1291.3V1249.9Z" fill="#eef3f5" stroke="#93a3ab" stroke-width="0.9"/>
<path d="M1622.6 1289.9L1622.9 1293.3L1630.9 1326.5Q1633.9 1331.3 1636.9 1326.5L1644.9 1293.3L1645.2 1289.9Z" fill="#bfe6f3" stroke="#69b7d3" stroke-width="0.9"/>
<line x1="1622.60" y1="1289.90" x2="1645.20" y2="1289.90" stroke="#5a8fa5" stroke-width="0.9"/>
<rect x="1619.6" y="1247.1" width="28.6" height="3.0" rx="1.2" fill="#f4f7f8" stroke="#93a3ab" stroke-width="0.9"/>
<line x1="1638.40" y1="1256.50" x2="1644.40" y2="1256.50" stroke="#9aa8ae" stroke-width="0.8"/>
<line x1="1638.40" y1="1272.90" x2="1644.40" y2="1272.90" stroke="#9aa8ae" stroke-width="0.8"/>
<path d="M1543.4 1179.0C1523.9 1173.5 1509.5 1185.4 1503.7 1195.5" fill="none" stroke="#1c1c1c" stroke-width="1.1"/>
<path d="M1500.0 1202.0L1501.1 1194.0L1506.3 1197.0Z" fill="#1c1c1c"/>
<path d="M1589.1 1179.0C1569.6 1173.5 1555.2 1185.4 1549.4 1195.5" fill="none" stroke="#1c1c1c" stroke-width="1.1"/>
<path d="M1545.7 1202.0L1546.8 1194.0L1552.0 1197.0Z" fill="#1c1c1c"/>
<path d="M1628.8 1179.0C1609.3 1173.5 1594.9 1185.4 1589.1 1195.5" fill="none" stroke="#1c1c1c" stroke-width="1.1"/>
<path d="M1585.4 1202.0L1586.5 1194.0L1591.7 1197.0Z" fill="#1c1c1c"/>
<path d="M1673.1 1179.0C1653.4 1173.5 1638.9 1185.4 1633.1 1195.5" fill="none" stroke="#1c1c1c" stroke-width="1.1"/>
<path d="M1629.3 1202.0L1630.5 1194.0L1635.7 1197.0Z" fill="#1c1c1c"/>
<path d="M1673.1 1178.2C1673.6 1177.5 1675.1 1175.4 1676.1 1174.2C1677.1 1173.0 1678.1 1171.0 1679.1 1171.2C1680.1 1171.4 1681.3 1173.9 1682.1 1175.2C1682.9 1176.5 1683.3 1179.2 1684.1 1179.2C1684.9 1179.2 1686.6 1175.9 1687.1 1175.2" fill="none" stroke="#4a3aa0" stroke-width="1.2" stroke-linecap="round"/>
<path d="M1683.1 1167.2C1683.6 1166.9 1685.3 1164.9 1686.1 1165.2C1686.9 1165.5 1687.3 1168.0 1688.1 1169.2C1688.9 1170.4 1690.1 1172.4 1691.1 1172.2C1692.1 1172.0 1693.4 1169.4 1694.1 1168.2C1694.8 1167.0 1694.9 1165.7 1695.1 1165.2" fill="none" stroke="#4a3aa0" stroke-width="1.2" stroke-linecap="round"/>
<path d="M1689.1 1177.2C1689.6 1176.7 1691.1 1174.2 1692.1 1174.2C1693.1 1174.2 1694.3 1176.0 1695.1 1177.2C1695.9 1178.4 1696.3 1181.2 1697.1 1181.2C1697.9 1181.2 1699.3 1178.5 1700.1 1177.2C1700.9 1175.9 1701.8 1173.9 1702.1 1173.2" fill="none" stroke="#4a3aa0" stroke-width="1.2" stroke-linecap="round"/>
<path d="M1686.1 1189.2C1686.4 1188.4 1687.3 1185.4 1688.1 1184.2C1688.9 1183.0 1690.1 1182.0 1691.1 1182.2C1692.1 1182.4 1693.1 1184.2 1694.1 1185.2C1695.1 1186.2 1696.3 1188.5 1697.1 1188.2C1697.9 1187.9 1698.8 1184.0 1699.1 1183.2" fill="none" stroke="#4a3aa0" stroke-width="1.2" stroke-linecap="round"/>
<circle cx="1695.1" cy="1164.7" r="1.9" fill="#4a3aa0"/>
<circle cx="1686.1" cy="1174.7" r="1.9" fill="#4a3aa0"/>
<circle cx="1702.1" cy="1173.2" r="1.9" fill="#4a3aa0"/>
<circle cx="1699.1" cy="1182.7" r="1.9" fill="#4a3aa0"/>
<text x="1654.50" y="1286.40" font-size="25.00">Standards</text>
<text x="1503.50" y="1360.60" font-size="25.00" text-anchor="middle">0.5</text>
<text x="1549.50" y="1360.60" font-size="25.00" text-anchor="middle">1</text>
<text x="1591.00" y="1360.60" font-size="25.00" text-anchor="middle">5</text>
<text x="1618.30" y="1360.60" font-size="25.00">10 µg/L</text>
<line x1="1775.70" y1="1106.80" x2="1799.03" y2="1118.96" stroke="#1c1c1c" stroke-width="2.8"/>
<path d="M1811.0 1125.2L1795.6 1124.5L1801.6 1113.0Z" fill="#1c1c1c"/>
<line x1="1775.70" y1="1249.00" x2="1798.45" y2="1236.57" stroke="#1c1c1c" stroke-width="2.8"/>
<path d="M1810.3 1230.1L1801.1 1242.5L1794.9 1231.1Z" fill="#1c1c1c"/>
<rect x="1837.97" y="1222.57" width="2.07" height="4.53" fill="#c93b36"/>
<rect x="1846.61" y="1221.92" width="1.81" height="5.18" fill="#4b87c9"/>
<rect x="1848.42" y="1224.25" width="1.29" height="2.85" fill="#4b87c9"/>
<rect x="1861.20" y="1188.75" width="1.81" height="38.35" fill="#4b87c9"/>
<rect x="1869.07" y="1221.41" width="1.81" height="5.69" fill="#c93b36"/>
<rect x="1871.01" y="1217.79" width="1.81" height="9.31" fill="#c93b36"/>
<rect x="1874.75" y="1222.31" width="1.55" height="4.79" fill="#4b87c9"/>
<rect x="1876.30" y="1220.11" width="1.55" height="6.99" fill="#4b87c9"/>
<rect x="1877.98" y="1222.31" width="1.55" height="4.79" fill="#4b87c9"/>
<rect x="1883.27" y="1213.27" width="1.81" height="13.83" fill="#c93b36"/>
<rect x="1885.47" y="1216.11" width="1.55" height="10.99" fill="#c93b36"/>
<rect x="1887.15" y="1156.86" width="1.81" height="70.24" fill="#c93b36"/>
<rect x="1891.28" y="1224.25" width="1.29" height="2.85" fill="#4b87c9"/>
<rect x="1892.83" y="1217.53" width="1.29" height="9.57" fill="#4b87c9"/>
<rect x="1894.37" y="1224.25" width="1.29" height="2.85" fill="#4b87c9"/>
<rect x="1907.80" y="1224.25" width="1.29" height="2.85" fill="#4b87c9"/>
<rect x="1909.22" y="1221.66" width="1.55" height="5.44" fill="#4b87c9"/>
<rect x="1911.16" y="1224.25" width="1.29" height="2.85" fill="#4b87c9"/>
<rect x="1919.16" y="1221.02" width="1.81" height="6.08" fill="#c93b36"/>
<rect x="1920.97" y="1203.33" width="1.81" height="23.77" fill="#c93b36"/>
<rect x="1924.32" y="1216.24" width="1.81" height="10.86" fill="#4b87c9"/>
<rect x="1926.13" y="1198.17" width="1.81" height="28.93" fill="#4b87c9"/>
<rect x="1927.94" y="1168.48" width="1.81" height="58.62" fill="#4b87c9"/>
<rect x="1929.74" y="1216.24" width="1.81" height="10.86" fill="#4b87c9"/>
<rect x="1935.42" y="1222.95" width="1.81" height="4.15" fill="#c93b36"/>
<rect x="1942.59" y="1216.24" width="1.94" height="10.86" fill="#4b87c9"/>
<rect x="1944.65" y="1173.90" width="1.94" height="53.20" fill="#4b87c9"/>
<rect x="1946.59" y="1111.30" width="1.94" height="115.80" fill="#4b87c9"/>
<rect x="1948.52" y="1181.91" width="1.94" height="45.19" fill="#4b87c9"/>
<rect x="1950.59" y="1206.82" width="1.94" height="20.28" fill="#4b87c9"/>
<rect x="1960.34" y="1219.47" width="1.55" height="7.63" fill="#c93b36"/>
<rect x="1963.82" y="1175.45" width="1.81" height="51.65" fill="#4b87c9"/>
<path d="M1828.8 1110.4V1227.1H1977.5" fill="none" stroke="#3c3c3c" stroke-width="1.4"/>
<text x="1901.30" y="1257.90" font-size="25.00" text-anchor="middle">MS</text>
</g>
<g id="p_i">
<text x="1278.90" y="1430.20" font-size="48.60" font-weight="bold">i</text>
<line x1="1381.90" y1="1423.85" x2="1381.90" y2="1865.25" stroke="#262626" stroke-width="1.3"/>
<line x1="1381.25" y1="1864.60" x2="1927.45" y2="1864.60" stroke="#262626" stroke-width="1.3"/>
<line x1="1377.20" y1="1864.60" x2="1381.90" y2="1864.60" stroke="#262626" stroke-width="1.3"/>
<line x1="1373.40" y1="1830.75" x2="1381.90" y2="1830.75" stroke="#262626" stroke-width="1.3"/>
<text x="1364.30" y="1841.75" font-size="28.00" text-anchor="end">0</text>
<line x1="1377.20" y1="1796.89" x2="1381.90" y2="1796.89" stroke="#262626" stroke-width="1.3"/>
<line x1="1373.40" y1="1763.04" x2="1381.90" y2="1763.04" stroke="#262626" stroke-width="1.3"/>
<text x="1364.30" y="1774.04" font-size="28.00" text-anchor="end">2</text>
<line x1="1377.20" y1="1729.18" x2="1381.90" y2="1729.18" stroke="#262626" stroke-width="1.3"/>
<line x1="1373.40" y1="1695.33" x2="1381.90" y2="1695.33" stroke="#262626" stroke-width="1.3"/>
<text x="1364.30" y="1706.33" font-size="28.00" text-anchor="end">4</text>
<line x1="1377.20" y1="1661.48" x2="1381.90" y2="1661.48" stroke="#262626" stroke-width="1.3"/>
<line x1="1373.40" y1="1627.62" x2="1381.90" y2="1627.62" stroke="#262626" stroke-width="1.3"/>
<text x="1364.30" y="1638.62" font-size="28.00" text-anchor="end">6</text>
<line x1="1377.20" y1="1593.77" x2="1381.90" y2="1593.77" stroke="#262626" stroke-width="1.3"/>
<line x1="1373.40" y1="1559.92" x2="1381.90" y2="1559.92" stroke="#262626" stroke-width="1.3"/>
<text x="1364.30" y="1570.92" font-size="28.00" text-anchor="end">8</text>
<line x1="1377.20" y1="1526.06" x2="1381.90" y2="1526.06" stroke="#262626" stroke-width="1.3"/>
<line x1="1373.40" y1="1492.21" x2="1381.90" y2="1492.21" stroke="#262626" stroke-width="1.3"/>
<text x="1364.30" y="1503.21" font-size="28.00" text-anchor="end">10</text>
<line x1="1377.20" y1="1458.35" x2="1381.90" y2="1458.35" stroke="#262626" stroke-width="1.3"/>
<line x1="1373.40" y1="1424.50" x2="1381.90" y2="1424.50" stroke="#262626" stroke-width="1.3"/>
<text x="1364.30" y="1435.50" font-size="28.00" text-anchor="end">12</text>
<line x1="1381.90" y1="1864.60" x2="1381.90" y2="1869.30" stroke="#262626" stroke-width="1.3"/>
<line x1="1427.31" y1="1864.60" x2="1427.31" y2="1873.10" stroke="#262626" stroke-width="1.3"/>
<text x="1426.11" y="1903.80" font-size="28.00" text-anchor="middle">0</text>
<line x1="1472.72" y1="1864.60" x2="1472.72" y2="1869.30" stroke="#262626" stroke-width="1.3"/>
<line x1="1518.12" y1="1864.60" x2="1518.12" y2="1873.10" stroke="#262626" stroke-width="1.3"/>
<text x="1516.92" y="1903.80" font-size="28.00" text-anchor="middle">2</text>
<line x1="1563.53" y1="1864.60" x2="1563.53" y2="1869.30" stroke="#262626" stroke-width="1.3"/>
<line x1="1608.94" y1="1864.60" x2="1608.94" y2="1873.10" stroke="#262626" stroke-width="1.3"/>
<text x="1607.74" y="1903.80" font-size="28.00" text-anchor="middle">4</text>
<line x1="1654.35" y1="1864.60" x2="1654.35" y2="1869.30" stroke="#262626" stroke-width="1.3"/>
<line x1="1699.76" y1="1864.60" x2="1699.76" y2="1873.10" stroke="#262626" stroke-width="1.3"/>
<text x="1698.56" y="1903.80" font-size="28.00" text-anchor="middle">6</text>
<line x1="1745.17" y1="1864.60" x2="1745.17" y2="1869.30" stroke="#262626" stroke-width="1.3"/>
<line x1="1790.58" y1="1864.60" x2="1790.58" y2="1873.10" stroke="#262626" stroke-width="1.3"/>
<text x="1789.38" y="1903.80" font-size="28.00" text-anchor="middle">8</text>
<line x1="1835.98" y1="1864.60" x2="1835.98" y2="1869.30" stroke="#262626" stroke-width="1.3"/>
<line x1="1881.39" y1="1864.60" x2="1881.39" y2="1873.10" stroke="#262626" stroke-width="1.3"/>
<text x="1877.99" y="1903.80" font-size="28.00" text-anchor="middle">10</text>
<line x1="1926.80" y1="1864.60" x2="1926.80" y2="1869.30" stroke="#262626" stroke-width="1.3"/>
<line x1="1450.01" y1="1815.17" x2="1881.39" y2="1459.37" stroke="#111" stroke-width="1.2"/>
<circle cx="1450.01" cy="1815.17" r="9.40" fill="none" stroke="#111" stroke-width="1.7"/>
<circle cx="1472.72" cy="1796.22" r="9.40" fill="none" stroke="#111" stroke-width="1.7"/>
<circle cx="1654.35" cy="1647.94" r="9.40" fill="none" stroke="#111" stroke-width="1.7"/>
<circle cx="1881.39" cy="1459.37" r="9.40" fill="none" stroke="#111" stroke-width="1.7"/>
<circle cx="1479.53" cy="1790.12" r="9.30" fill="none" stroke="#e3262b" stroke-width="1.5"/>
<line x1="1475.03" y1="1790.12" x2="1484.03" y2="1790.12" stroke="#e3262b" stroke-width="0.8"/>
<line x1="1479.53" y1="1785.62" x2="1479.53" y2="1794.62" stroke="#e3262b" stroke-width="0.8"/>
<text x="1500.90" y="1806.60" font-size="29.17" fill="#e3262b">Extracts (1.15 ± 0.1 µg/L)</text>
<text x="1416.40" y="1443.00" font-size="29.17">y = 1.10x-0.09</text>
<text x="1412.30" y="1482.70" font-size="29.17"><tspan font-style="italic">R</tspan><tspan font-size="14.5" dy="-10.5" dx="-0.5">2</tspan><tspan dy="10.5" dx="-5"> = 0.99</tspan></text>
<text transform="translate(1341.70 1655.80) rotate(-90)" font-size="29.17" text-anchor="middle">Area Ratio</text>
<text x="1657.00" y="1932.20" font-size="29.17" text-anchor="middle">Concentration (µg/L)</text>
</g>

</svg>
</body>
</html>
